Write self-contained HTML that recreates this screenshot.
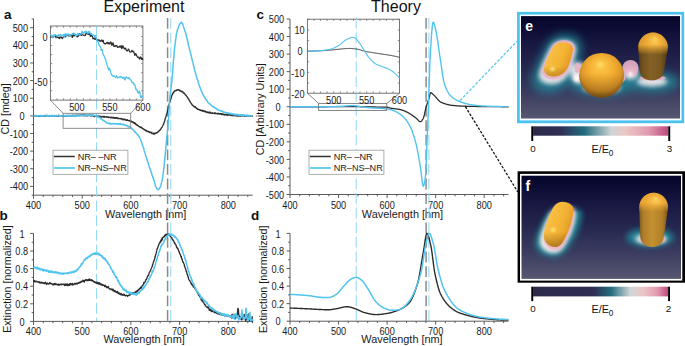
<!DOCTYPE html>
<html><head><meta charset="utf-8"><style>
html,body{margin:0;padding:0;background:#fff;overflow:hidden}
svg{display:block}
text{font-family:"Liberation Sans", sans-serif}
</style></head><body>
<svg width="685" height="346" viewBox="0 0 685 346" font-family='"Liberation Sans", sans-serif'><rect width="685" height="346" fill="#ffffff"/><text x="144" y="11.7" font-size="16" text-anchor="middle" font-weight="normal" fill="#111" >Experiment</text><text x="396" y="11.7" font-size="16" text-anchor="middle" font-weight="normal" fill="#111" >Theory</text><text x="4" y="18.7" font-size="13.5" text-anchor="start" font-weight="bold" fill="#111" >a</text><text x="-0.6" y="219.7" font-size="13.5" text-anchor="start" font-weight="bold" fill="#111" >b</text><text x="256.4" y="19" font-size="13.5" text-anchor="start" font-weight="bold" fill="#111" >c</text><text x="251" y="219.7" font-size="13.5" text-anchor="start" font-weight="bold" fill="#111" >d</text><line x1="33.5" y1="18.88" x2="33.5" y2="195.19" stroke="#4a4a4a" stroke-width="0.9" /><line x1="30.1" y1="27.7" x2="33.5" y2="27.7" stroke="#4a4a4a" stroke-width="0.9" /><text x="0" y="0" transform="translate(28.1,31.8) scale(0.92,1)" font-size="10.0" text-anchor="end" font-weight="normal" fill="#1a1a1a" >500</text><line x1="30.1" y1="45.33" x2="33.5" y2="45.33" stroke="#4a4a4a" stroke-width="0.9" /><text x="0" y="0" transform="translate(28.1,49.43) scale(0.92,1)" font-size="10.0" text-anchor="end" font-weight="normal" fill="#1a1a1a" >400</text><line x1="30.1" y1="62.96" x2="33.5" y2="62.96" stroke="#4a4a4a" stroke-width="0.9" /><text x="0" y="0" transform="translate(28.1,67.06) scale(0.92,1)" font-size="10.0" text-anchor="end" font-weight="normal" fill="#1a1a1a" >300</text><line x1="30.1" y1="80.59" x2="33.5" y2="80.59" stroke="#4a4a4a" stroke-width="0.9" /><text x="0" y="0" transform="translate(28.1,84.69) scale(0.92,1)" font-size="10.0" text-anchor="end" font-weight="normal" fill="#1a1a1a" >200</text><line x1="30.1" y1="98.22" x2="33.5" y2="98.22" stroke="#4a4a4a" stroke-width="0.9" /><text x="0" y="0" transform="translate(28.1,102.32) scale(0.92,1)" font-size="10.0" text-anchor="end" font-weight="normal" fill="#1a1a1a" >100</text><line x1="30.1" y1="115.85" x2="33.5" y2="115.85" stroke="#4a4a4a" stroke-width="0.9" /><text x="0" y="0" transform="translate(24.5,119.95) scale(0.92,1)" font-size="10.0" text-anchor="end" font-weight="normal" fill="#1a1a1a" >0</text><line x1="30.1" y1="133.48" x2="33.5" y2="133.48" stroke="#4a4a4a" stroke-width="0.9" /><text x="0" y="0" transform="translate(28.1,137.58) scale(0.92,1)" font-size="10.0" text-anchor="end" font-weight="normal" fill="#1a1a1a" >-100</text><line x1="30.1" y1="151.11" x2="33.5" y2="151.11" stroke="#4a4a4a" stroke-width="0.9" /><text x="0" y="0" transform="translate(28.1,155.21) scale(0.92,1)" font-size="10.0" text-anchor="end" font-weight="normal" fill="#1a1a1a" >-200</text><line x1="30.1" y1="168.74" x2="33.5" y2="168.74" stroke="#4a4a4a" stroke-width="0.9" /><text x="0" y="0" transform="translate(28.1,172.84) scale(0.92,1)" font-size="10.0" text-anchor="end" font-weight="normal" fill="#1a1a1a" >-300</text><line x1="30.1" y1="186.37" x2="33.5" y2="186.37" stroke="#4a4a4a" stroke-width="0.9" /><text x="0" y="0" transform="translate(28.1,190.47) scale(0.92,1)" font-size="10.0" text-anchor="end" font-weight="normal" fill="#1a1a1a" >-400</text><line x1="31.7" y1="18.88" x2="33.5" y2="18.88" stroke="#4a4a4a" stroke-width="0.9" /><line x1="31.7" y1="36.51" x2="33.5" y2="36.51" stroke="#4a4a4a" stroke-width="0.9" /><line x1="31.7" y1="54.14" x2="33.5" y2="54.14" stroke="#4a4a4a" stroke-width="0.9" /><line x1="31.7" y1="71.77" x2="33.5" y2="71.77" stroke="#4a4a4a" stroke-width="0.9" /><line x1="31.7" y1="89.41" x2="33.5" y2="89.41" stroke="#4a4a4a" stroke-width="0.9" /><line x1="31.7" y1="107.03" x2="33.5" y2="107.03" stroke="#4a4a4a" stroke-width="0.9" /><line x1="31.7" y1="124.66" x2="33.5" y2="124.66" stroke="#4a4a4a" stroke-width="0.9" /><line x1="31.7" y1="142.29" x2="33.5" y2="142.29" stroke="#4a4a4a" stroke-width="0.9" /><line x1="31.7" y1="159.93" x2="33.5" y2="159.93" stroke="#4a4a4a" stroke-width="0.9" /><line x1="31.7" y1="177.56" x2="33.5" y2="177.56" stroke="#4a4a4a" stroke-width="0.9" /><line x1="31.7" y1="195.19" x2="33.5" y2="195.19" stroke="#4a4a4a" stroke-width="0.9" /><line x1="33.5" y1="195.19" x2="252.65" y2="195.19" stroke="#4a4a4a" stroke-width="0.9" /><line x1="33.5" y1="195.19" x2="33.5" y2="198.69" stroke="#4a4a4a" stroke-width="0.9" /><text x="0" y="0" transform="translate(33.5,208.9) scale(0.92,1)" font-size="10.0" text-anchor="middle" font-weight="normal" fill="#1a1a1a" >400</text><line x1="82.2" y1="195.19" x2="82.2" y2="198.69" stroke="#4a4a4a" stroke-width="0.9" /><text x="0" y="0" transform="translate(82.2,208.9) scale(0.92,1)" font-size="10.0" text-anchor="middle" font-weight="normal" fill="#1a1a1a" >500</text><line x1="130.9" y1="195.19" x2="130.9" y2="198.69" stroke="#4a4a4a" stroke-width="0.9" /><text x="0" y="0" transform="translate(130.9,208.9) scale(0.92,1)" font-size="10.0" text-anchor="middle" font-weight="normal" fill="#1a1a1a" >600</text><line x1="179.6" y1="195.19" x2="179.6" y2="198.69" stroke="#4a4a4a" stroke-width="0.9" /><text x="0" y="0" transform="translate(179.6,208.9) scale(0.92,1)" font-size="10.0" text-anchor="middle" font-weight="normal" fill="#1a1a1a" >700</text><line x1="228.3" y1="195.19" x2="228.3" y2="198.69" stroke="#4a4a4a" stroke-width="0.9" /><text x="0" y="0" transform="translate(228.3,208.9) scale(0.92,1)" font-size="10.0" text-anchor="middle" font-weight="normal" fill="#1a1a1a" >800</text><line x1="43.24" y1="195.19" x2="43.24" y2="196.99" stroke="#4a4a4a" stroke-width="0.9" /><line x1="52.98" y1="195.19" x2="52.98" y2="196.99" stroke="#4a4a4a" stroke-width="0.9" /><line x1="62.72" y1="195.19" x2="62.72" y2="196.99" stroke="#4a4a4a" stroke-width="0.9" /><line x1="72.46" y1="195.19" x2="72.46" y2="196.99" stroke="#4a4a4a" stroke-width="0.9" /><line x1="91.94" y1="195.19" x2="91.94" y2="196.99" stroke="#4a4a4a" stroke-width="0.9" /><line x1="101.68" y1="195.19" x2="101.68" y2="196.99" stroke="#4a4a4a" stroke-width="0.9" /><line x1="111.42" y1="195.19" x2="111.42" y2="196.99" stroke="#4a4a4a" stroke-width="0.9" /><line x1="121.16" y1="195.19" x2="121.16" y2="196.99" stroke="#4a4a4a" stroke-width="0.9" /><line x1="140.64" y1="195.19" x2="140.64" y2="196.99" stroke="#4a4a4a" stroke-width="0.9" /><line x1="150.38" y1="195.19" x2="150.38" y2="196.99" stroke="#4a4a4a" stroke-width="0.9" /><line x1="160.12" y1="195.19" x2="160.12" y2="196.99" stroke="#4a4a4a" stroke-width="0.9" /><line x1="169.86" y1="195.19" x2="169.86" y2="196.99" stroke="#4a4a4a" stroke-width="0.9" /><line x1="189.34" y1="195.19" x2="189.34" y2="196.99" stroke="#4a4a4a" stroke-width="0.9" /><line x1="199.08" y1="195.19" x2="199.08" y2="196.99" stroke="#4a4a4a" stroke-width="0.9" /><line x1="208.82" y1="195.19" x2="208.82" y2="196.99" stroke="#4a4a4a" stroke-width="0.9" /><line x1="218.56" y1="195.19" x2="218.56" y2="196.99" stroke="#4a4a4a" stroke-width="0.9" /><line x1="238.04" y1="195.19" x2="238.04" y2="196.99" stroke="#4a4a4a" stroke-width="0.9" /><line x1="247.78" y1="195.19" x2="247.78" y2="196.99" stroke="#4a4a4a" stroke-width="0.9" /><text x="145.7" y="217.7" font-size="10.9" text-anchor="middle" font-weight="normal" fill="#1a1a1a" >Wavelength [nm]</text><text x="0" y="0" font-size="10.7" text-anchor="middle" fill="#1a1a1a" transform="translate(8.7,108.9) rotate(-90)">CD [mdeg]</text><line x1="96.6" y1="25.5" x2="96.6" y2="321.4" stroke="#8fd6f4" stroke-width="1.0" stroke-dasharray="10.8,3.8" stroke-dashoffset="0"/><line x1="167.6" y1="18" x2="167.6" y2="321.4" stroke="#8a8a8a" stroke-width="1.5" stroke-dasharray="10.8,3.8" stroke-dashoffset="0"/><line x1="170.8" y1="18" x2="170.8" y2="321.4" stroke="#8fd6f4" stroke-width="1.0" stroke-dasharray="10.8,3.8" stroke-dashoffset="0"/><path d="M33.5,115.85 L33.74,115.77 L33.99,115.93 L34.23,116.1 L34.47,115.98 L34.72,116.13 L34.96,115.83 L35.2,115.47 L35.45,115.99 L35.69,116.03 L35.94,115.71 L36.18,115.75 L36.42,115.82 L36.67,116.11 L36.91,115.86 L37.15,115.65 L37.4,116.23 L37.64,115.98 L37.88,116.39 L38.13,116.21 L38.37,116.37 L38.61,115.92 L38.86,116.21 L39.1,115.77 L39.34,115.81 L39.59,115.9 L39.83,116.56 L40.07,116 L40.32,115.86 L40.56,115.82 L40.8,116.28 L41.05,115.98 L41.29,116.13 L41.54,116.08 L41.78,115.55 L42.02,116.08 L42.27,115.86 L42.51,115.6 L42.75,116.01 L43,115.88 L43.24,115.82 L43.48,115.83 L43.73,116.2 L43.97,115.83 L44.21,115.47 L44.46,116.29 L44.7,115.61 L44.94,115.82 L45.19,116.03 L45.43,115.29 L45.67,115.63 L45.92,116.19 L46.16,115.83 L46.41,115.69 L46.65,115.9 L46.89,115.66 L47.14,115.87 L47.38,115.66 L47.62,115.44 L47.87,116.04 L48.11,115.79 L48.35,115.98 L48.6,115.81 L48.84,116.18 L49.08,116.01 L49.33,115.91 L49.57,115.6 L49.81,115.53 L50.06,116.22 L50.3,116.07 L50.55,115.67 L50.79,116.41 L51.03,115.98 L51.28,115.88 L51.52,115.5 L51.76,115.66 L52.01,115.94 L52.25,115.95 L52.49,115.92 L52.74,115.42 L52.98,115.97 L53.22,115.94 L53.47,115.75 L53.71,115.88 L53.95,115.91 L54.2,116.16 L54.44,115.85 L54.68,115.98 L54.93,115.52 L55.17,115.67 L55.41,115.86 L55.66,115.66 L55.9,115.95 L56.15,115.55 L56.39,115.85 L56.63,115.69 L56.88,116.21 L57.12,115.75 L57.36,116.33 L57.61,116.42 L57.85,115.94 L58.09,116.1 L58.34,115.8 L58.58,115.22 L58.82,116.08 L59.07,116.03 L59.31,115.79 L59.55,115.71 L59.8,115.9 L60.04,115.91 L60.28,115.65 L60.53,115.7 L60.77,116.14 L61.02,115.87 L61.26,115.84 L61.5,116.15 L61.75,115.78 L61.99,116.09 L62.23,115.58 L62.48,115.8 L62.72,115.82 L62.96,116.02 L63.21,115.88 L63.45,116.41 L63.69,116.17 L63.94,115.74 L64.18,116.44 L64.42,115.6 L64.67,116.33 L64.91,115.62 L65.16,116.07 L65.4,115.6 L65.64,115.78 L65.89,116.25 L66.13,115.45 L66.37,115.39 L66.62,115.81 L66.86,115.87 L67.1,115.83 L67.35,116.05 L67.59,115.46 L67.83,115.91 L68.08,115.77 L68.32,115.97 L68.56,115.91 L68.81,116.09 L69.05,115.36 L69.29,115.75 L69.54,115.43 L69.78,115.69 L70.03,115.88 L70.27,115.77 L70.51,115.82 L70.76,115.65 L71,115.75 L71.24,115.72 L71.49,116.01 L71.73,115.84 L71.97,115.14 L72.22,115.78 L72.46,115.88 L72.7,115.48 L72.95,115.17 L73.19,115.97 L73.43,115.6 L73.68,115.71 L73.92,116.02 L74.16,115.31 L74.41,115.51 L74.65,115.48 L74.89,115.7 L75.14,115.35 L75.38,115.62 L75.63,115.5 L75.87,115.77 L76.11,115.79 L76.36,115.06 L76.6,115.57 L76.84,115.34 L77.09,115.42 L77.33,115.53 L77.57,115.54 L77.82,115.21 L78.06,115.47 L78.3,115.42 L78.55,115.36 L78.79,115.03 L79.03,115.17 L79.28,115.25 L79.52,115.51 L79.77,115.73 L80.01,115.07 L80.25,115.06 L80.5,115.37 L80.74,115.18 L80.98,115.11 L81.23,115.09 L81.47,115.06 L81.71,115.45 L81.96,114.89 L82.2,115.67 L82.44,115.08 L82.69,115.18 L82.93,115.07 L83.17,114.79 L83.42,114.9 L83.66,115.64 L83.9,115.8 L84.15,115.09 L84.39,115.61 L84.63,115.32 L84.88,115.08 L85.12,115.78 L85.37,115.92 L85.61,115.25 L85.85,115.31 L86.1,115.39 L86.34,115.31 L86.58,115.56 L86.83,115.75 L87.07,115.37 L87.31,115.6 L87.56,115.78 L87.8,115.18 L88.04,115.34 L88.29,115.21 L88.53,115.6 L88.77,115.51 L89.02,115.6 L89.26,115.57 L89.5,115.27 L89.75,115.54 L89.99,115.23 L90.24,115.24 L90.48,114.78 L90.72,115.76 L90.97,115.14 L91.21,115.44 L91.45,115.44 L91.7,115.87 L91.94,115.62 L92.18,115.32 L92.43,115.58 L92.67,115.57 L92.91,115.71 L93.16,115.34 L93.4,115.71 L93.64,116.36 L93.89,115.98 L94.13,116.38 L94.38,116.78 L94.62,116.05 L94.86,115.56 L95.11,115.96 L95.35,116.34 L95.59,116.31 L95.84,115.76 L96.08,116.07 L96.32,116.13 L96.57,116.19 L96.81,116.19 L97.05,116 L97.3,116.1 L97.54,116.22 L97.78,116.6 L98.03,116.18 L98.27,116.54 L98.51,116.06 L98.76,116.75 L99,116.46 L99.25,116.44 L99.49,116.84 L99.73,116 L99.98,116.09 L100.22,116.66 L100.46,116.33 L100.71,116.46 L100.95,117.33 L101.19,116.54 L101.44,116.65 L101.68,116.63 L101.92,116.98 L102.17,116.77 L102.41,116.77 L102.65,116.4 L102.9,116.66 L103.14,116.78 L103.38,116.37 L103.63,116.98 L103.87,116.95 L104.11,117.38 L104.36,116.44 L104.6,116.63 L104.85,116.67 L105.09,116.76 L105.33,116.94 L105.58,116.93 L105.82,117.09 L106.06,117.1 L106.31,117.05 L106.55,116.66 L106.79,116.95 L107.04,117.15 L107.28,117.32 L107.52,117.35 L107.77,116.75 L108.01,117.08 L108.25,117.22 L108.5,117.36 L108.74,117.6 L108.98,117.33 L109.23,117.09 L109.47,117.46 L109.72,117.44 L109.96,117.46 L110.2,117.39 L110.45,117.89 L110.69,117.53 L110.93,117.73 L111.18,117.26 L111.42,117.75 L111.66,117.4 L111.91,117.16 L112.15,117.7 L112.39,117.8 L112.64,117.61 L112.88,117.69 L113.12,117.99 L113.37,117.61 L113.61,117.2 L113.86,117.86 L114.1,117.88 L114.34,118.14 L114.59,117.79 L114.83,118.26 L115.07,118.25 L115.32,117.6 L115.56,118.25 L115.8,117.72 L116.05,117.63 L116.29,118.02 L116.53,117.97 L116.78,117.61 L117.02,118.26 L117.26,118.41 L117.51,118.66 L117.75,118.3 L117.99,117.94 L118.24,118.12 L118.48,118.7 L118.72,118.71 L118.97,118.66 L119.21,118.47 L119.46,118.66 L119.7,118.58 L119.94,118.6 L120.19,118.81 L120.43,118.78 L120.67,118.76 L120.92,118.89 L121.16,118.76 L121.4,118.42 L121.65,118.83 L121.89,119.03 L122.13,119.57 L122.38,119.03 L122.62,119.73 L122.86,119.63 L123.11,119.04 L123.35,119.13 L123.59,119.42 L123.84,119.91 L124.08,119.58 L124.33,119.71 L124.57,119.39 L124.81,118.98 L125.06,119.6 L125.3,119.93 L125.54,120.09 L125.79,119.82 L126.03,119.9 L126.27,120.23 L126.52,119.92 L126.76,120.33 L127,119.75 L127.25,119.82 L127.49,119.87 L127.73,120.37 L127.98,120.15 L128.22,120.39 L128.47,120.53 L128.71,120.58 L128.95,120.92 L129.2,121.03 L129.44,120.47 L129.68,120.82 L129.93,120.79 L130.17,120.65 L130.41,121.52 L130.66,121.35 L130.9,121.18 L131.14,121.23 L131.39,121.56 L131.63,121.28 L131.87,121.63 L132.12,122.16 L132.36,122.21 L132.6,121.86 L132.85,122.09 L133.09,122.9 L133.33,122.13 L133.58,122.49 L133.82,122.43 L134.07,123.07 L134.31,123.2 L134.55,123.6 L134.8,122.72 L135.04,123.65 L135.28,123.31 L135.53,124.11 L135.77,124.04 L136.01,124.73 L136.26,124.53 L136.5,124.31 L136.74,125.11 L136.99,124.62 L137.23,124.99 L137.47,125.55 L137.72,125.56 L137.96,125.71 L138.2,125.75 L138.45,126.05 L138.69,126.29 L138.94,126.3 L139.18,126.66 L139.42,126.88 L139.67,126.68 L139.91,126.57 L140.15,127.39 L140.4,127.1 L140.64,127.42 L140.88,127.66 L141.13,127.29 L141.37,127.82 L141.61,127.4 L141.86,128.19 L142.1,128.01 L142.34,128.34 L142.59,128.63 L142.83,128.4 L143.07,128.76 L143.32,128.7 L143.56,129.03 L143.81,129.47 L144.05,129.34 L144.29,129.44 L144.54,129.33 L144.78,129.99 L145.02,129.89 L145.27,130.5 L145.51,129.97 L145.75,130.59 L146,130.93 L146.24,130.57 L146.48,130.36 L146.73,131.23 L146.97,131.23 L147.21,131.25 L147.46,131.47 L147.7,131.15 L147.94,131.59 L148.19,131.67 L148.43,131.41 L148.68,131.9 L148.92,131.68 L149.16,132.19 L149.41,132.37 L149.65,132.66 L149.89,131.73 L150.14,132.46 L150.38,132.41 L150.62,132.6 L150.87,132.65 L151.11,132.78 L151.35,132.35 L151.6,133.28 L151.84,133.51 L152.08,133.43 L152.33,133.6 L152.57,133.08 L152.81,133.11 L153.06,133.66 L153.3,133.82 L153.55,133.56 L153.79,133.08 L154.03,134.28 L154.28,133.32 L154.52,133.75 L154.76,133.11 L155.01,133.65 L155.25,133.35 L155.49,133.61 L155.74,133.37 L155.98,132.59 L156.22,132.64 L156.47,132.86 L156.71,132.86 L156.95,133.01 L157.2,132.44 L157.44,132.19 L157.69,132.05 L157.93,131.9 L158.17,132.03 L158.42,131.57 L158.66,131.38 L158.9,130.79 L159.15,130.41 L159.39,130.73 L159.63,130.64 L159.88,130.16 L160.12,130.02 L160.36,129.74 L160.61,129.22 L160.85,129.15 L161.09,128.33 L161.34,128.15 L161.58,127.67 L161.82,127.39 L162.07,127.13 L162.31,126.78 L162.56,126.14 L162.8,125.77 L163.04,125.03 L163.29,124.53 L163.53,124.31 L163.77,123.26 L164.02,122.98 L164.26,122.06 L164.5,121.22 L164.75,120.96 L164.99,119.56 L165.23,118.74 L165.48,118.01 L165.72,117.26 L165.96,116.42 L166.21,115.76 L166.45,114.74 L166.69,113.99 L166.94,113 L167.18,112.54 L167.42,111.27 L167.67,110.4 L167.91,109.56 L168.16,108.71 L168.4,107.48 L168.64,107.15 L168.89,105.59 L169.13,104.71 L169.37,103.76 L169.62,102.83 L169.86,102.24 L170.1,101.29 L170.35,100.23 L170.59,99.54 L170.83,98.85 L171.08,98.56 L171.32,97.2 L171.56,96.25 L171.81,95.54 L172.05,95.04 L172.29,94.88 L172.54,93.55 L172.78,93.32 L173.03,93.52 L173.27,92.34 L173.51,92.6 L173.76,92.33 L174,91.93 L174.24,91.18 L174.49,91.45 L174.73,91.09 L174.97,90.49 L175.22,90.37 L175.46,90.7 L175.7,90.6 L175.95,90.76 L176.19,90.48 L176.43,90.07 L176.68,89.99 L176.92,90.01 L177.16,89.71 L177.41,90.17 L177.65,89.95 L177.9,89.73 L178.14,89.79 L178.38,89.68 L178.63,89.91 L178.87,90.17 L179.11,90.04 L179.36,90.5 L179.6,90.77 L179.84,90.23 L180.09,90.51 L180.33,90.51 L180.57,91.19 L180.82,90.92 L181.06,91.1 L181.3,91.29 L181.55,91.8 L181.79,91.39 L182.03,91.19 L182.28,91.5 L182.52,91.96 L182.77,92 L183.01,91.99 L183.25,93.21 L183.5,92.71 L183.74,92.77 L183.98,92.99 L184.23,92.98 L184.47,93.41 L184.71,93.93 L184.96,94.21 L185.2,94.37 L185.44,95.03 L185.69,95.18 L185.93,95.21 L186.17,95.2 L186.42,96.09 L186.66,96.37 L186.91,96.62 L187.15,96.63 L187.39,97.36 L187.64,97.28 L187.88,98.32 L188.12,98.46 L188.37,98.83 L188.61,98.92 L188.85,99.22 L189.1,100.31 L189.34,100.53 L189.58,100.59 L189.83,101.3 L190.07,101.98 L190.31,101.7 L190.56,102.29 L190.8,102.72 L191.04,103.39 L191.29,103.35 L191.53,104.05 L191.78,103.97 L192.02,104.8 L192.26,105.04 L192.51,104.98 L192.75,105.48 L192.99,105.32 L193.24,105.67 L193.48,106.22 L193.72,106.16 L193.97,106.49 L194.21,106.33 L194.45,106.97 L194.7,107.11 L194.94,106.83 L195.18,106.72 L195.43,106.96 L195.67,107.68 L195.91,107.8 L196.16,107.59 L196.4,108.22 L196.65,108.61 L196.89,108.45 L197.13,108.49 L197.38,108.99 L197.62,109.35 L197.86,109.42 L198.11,108.95 L198.35,109.47 L198.59,109.41 L198.84,109.42 L199.08,109.41 L199.32,109.79 L199.57,109.65 L199.81,110.15 L200.05,110.1 L200.3,110.38 L200.54,109.87 L200.78,110.28 L201.03,110.58 L201.27,110.56 L201.51,110.61 L201.76,110.43 L202,111.16 L202.25,111.09 L202.49,110.98 L202.73,110.24 L202.98,110.76 L203.22,111.13 L203.46,110.97 L203.71,110.67 L203.95,111.38 L204.19,111.49 L204.44,111.11 L204.68,111.37 L204.92,111.39 L205.17,111.78 L205.41,111.16 L205.65,111.28 L205.9,111.66 L206.14,111.68 L206.38,112.5 L206.63,111.8 L206.87,112.08 L207.12,111.96 L207.36,111.94 L207.6,112.27 L207.85,112.7 L208.09,112.17 L208.33,112.52 L208.58,112.45 L208.82,112.57 L209.06,112.54 L209.31,113.14 L209.55,112.19 L209.79,112.5 L210.04,112.3 L210.28,112.1 L210.52,112.69 L210.77,113.24 L211.01,113.03 L211.25,113.15 L211.5,112.99 L211.74,112.86 L211.99,113.49 L212.23,112.86 L212.47,113.42 L212.72,112.95 L212.96,113.1 L213.2,113.19 L213.45,113.15 L213.69,113.32 L213.93,113.37 L214.18,113.71 L214.42,113.27 L214.66,112.78 L214.91,112.77 L215.15,112.99 L215.39,113.19 L215.64,113.61 L215.88,113.05 L216.12,113.5 L216.37,113.53 L216.61,113.62 L216.86,113.54 L217.1,113.72 L217.34,113.65 L217.59,113.96 L217.83,113.79 L218.07,113.07 L218.32,113.76 L218.56,113.84 L218.8,113.65 L219.05,113.62 L219.29,114.16 L219.53,113.94 L219.78,113.65 L220.02,113.85 L220.26,113.92 L220.51,113.55 L220.75,114.2 L221,114.01 L221.24,114.21 L221.48,113.67 L221.73,114.67 L221.97,114.33 L222.21,114.32 L222.46,114.01 L222.7,114.05 L222.94,113.85 L223.19,114.72 L223.43,114.09 L223.67,114.41 L223.92,114.54 L224.16,114.23 L224.4,114.67 L224.65,115.02 L224.89,114.57 L225.13,114.91 L225.38,114.7 L225.62,114.44 L225.87,114.48 L226.11,114.15 L226.35,114.68 L226.6,115.08 L226.84,114.89 L227.08,114.96 L227.33,115.07 L227.57,114.63 L227.81,114.96 L228.06,115.37 L228.3,114.64 L228.54,114.89 L228.79,114.79 L229.03,114.88 L229.27,114.76 L229.52,114.95 L229.76,114.64 L230,114.89 L230.25,114.93 L230.49,114.95 L230.73,115.5 L230.98,115.16 L231.22,115.21 L231.47,115.1 L231.71,115.56 L231.95,114.74 L232.2,115.2 L232.44,115.59 L232.68,115.75 L232.93,115.37 L233.17,115.34 L233.41,115.54 L233.66,115.33 L233.9,115.56 L234.14,115.24 L234.39,115.62 L234.63,115.44 L234.87,115.18 L235.12,114.74 L235.36,115.77 L235.6,115.63 L235.85,115.76 L236.09,115.31 L236.34,115.88 L236.58,115.7 L236.82,115.59 L237.07,115.87 L237.31,115.88 L237.55,115.76 L237.8,116.23 L238.04,116.05 L238.28,115.77 L238.53,115.62 L238.77,115.73 L239.01,116.19 L239.26,115.83 L239.5,115.48 L239.74,115.56 L239.99,115.75 L240.23,115.98 L240.47,115.56 L240.72,115.91 L240.96,116.09 L241.21,116 L241.45,115.37 L241.69,115.72 L241.94,115.47 L242.18,115.94 L242.42,115.55 L242.67,115.99 L242.91,115.87 L243.15,115.14 L243.4,115.63 L243.64,116 L243.88,115.89 L244.13,115.78 L244.37,115.54 L244.61,116.02 L244.86,116.39 L245.1,115.98 L245.34,115.9 L245.59,115.88 L245.83,115.55 L246.08,115.84 L246.32,115.71 L246.56,116.25 L246.81,115.7 L247.05,115.36 L247.29,115.74 L247.54,115.89 L247.78,115.93 L248.02,115.47 L248.27,116.24 L248.51,116.02 L248.75,115.86 L249,115.78 L249.24,116.12 L249.48,115.91 L249.73,116.08 L249.97,115.97 L250.22,116.05 L250.46,116.34 L250.7,116.02 L250.95,115.77 L251.19,116.29 L251.43,116.09 L251.68,115.84 L251.92,116.33 L252.16,115.97 L252.41,116.33 L252.65,115.71" fill="none" stroke="#2c2c2c" stroke-width="1.3" stroke-linejoin="round" /><path d="M33.5,115.36 L33.74,115.42 L33.99,115.9 L34.23,115.69 L34.47,115.82 L34.72,115.83 L34.96,115.52 L35.2,116.13 L35.45,115.63 L35.69,115.86 L35.94,115.55 L36.18,115.81 L36.42,115.99 L36.67,115.79 L36.91,115.69 L37.15,115.84 L37.4,115.75 L37.64,115.96 L37.88,116.3 L38.13,115.66 L38.37,115.7 L38.61,115.82 L38.86,115.84 L39.1,115.63 L39.34,115.95 L39.59,116 L39.83,115.89 L40.07,115.6 L40.32,116.14 L40.56,115.6 L40.8,115.99 L41.05,116.08 L41.29,115.58 L41.54,115.87 L41.78,116.13 L42.02,115.93 L42.27,115.65 L42.51,115.6 L42.75,115.94 L43,115.76 L43.24,115.7 L43.48,115.99 L43.73,115.77 L43.97,115.86 L44.21,115.96 L44.46,115.95 L44.7,115.84 L44.94,115.84 L45.19,115.97 L45.43,115.94 L45.67,115.61 L45.92,115.8 L46.16,115.66 L46.41,115.6 L46.65,115.73 L46.89,115.37 L47.14,116.02 L47.38,115.68 L47.62,115.92 L47.87,115.46 L48.11,115.49 L48.35,116.26 L48.6,116.05 L48.84,115.71 L49.08,115.68 L49.33,115.69 L49.57,115.86 L49.81,115.75 L50.06,115.71 L50.3,115.87 L50.55,115.63 L50.79,116.33 L51.03,115.72 L51.28,116.07 L51.52,115.65 L51.76,115.9 L52.01,116.04 L52.25,115.77 L52.49,116.04 L52.74,116.04 L52.98,116.18 L53.22,115.86 L53.47,115.74 L53.71,115.63 L53.95,115.88 L54.2,115.63 L54.44,115.85 L54.68,115.87 L54.93,115.73 L55.17,115.63 L55.41,115.92 L55.66,115.9 L55.9,115.88 L56.15,115.83 L56.39,116.04 L56.63,115.63 L56.88,115.93 L57.12,115.75 L57.36,116.02 L57.61,115.77 L57.85,115.77 L58.09,115.94 L58.34,115.42 L58.58,115.77 L58.82,115.47 L59.07,115.65 L59.31,115.99 L59.55,115.93 L59.8,115.76 L60.04,115.84 L60.28,115.84 L60.53,115.91 L60.77,116.23 L61.02,115.9 L61.26,116.32 L61.5,115.77 L61.75,116 L61.99,116 L62.23,115.9 L62.48,115.79 L62.72,116.15 L62.96,116.22 L63.21,116.08 L63.45,116.28 L63.69,116.05 L63.94,115.51 L64.18,116.07 L64.42,115.71 L64.67,116.14 L64.91,115.78 L65.16,115.91 L65.4,115.85 L65.64,115.72 L65.89,115.47 L66.13,115.8 L66.37,115.81 L66.62,116.04 L66.86,115.71 L67.1,115.88 L67.35,115.65 L67.59,115.83 L67.83,115.46 L68.08,116.24 L68.32,115.88 L68.56,115.63 L68.81,115.89 L69.05,115.98 L69.29,115.86 L69.54,116.1 L69.78,115.78 L70.03,115.28 L70.27,115.55 L70.51,116.03 L70.76,115.97 L71,115.87 L71.24,115.57 L71.49,115.95 L71.73,115.92 L71.97,115.58 L72.22,115.58 L72.46,115.84 L72.7,115.99 L72.95,116.08 L73.19,115.9 L73.43,116.22 L73.68,115.58 L73.92,115.87 L74.16,115.63 L74.41,115.33 L74.65,115.48 L74.89,115.96 L75.14,115.53 L75.38,115.47 L75.63,115.86 L75.87,115.9 L76.11,115.72 L76.36,116.03 L76.6,115.38 L76.84,116.19 L77.09,115.91 L77.33,115.73 L77.57,115.72 L77.82,115.63 L78.06,115.6 L78.3,115.7 L78.55,115.4 L78.79,116.09 L79.03,115.63 L79.28,115.77 L79.52,115.58 L79.77,115.56 L80.01,115.79 L80.25,115.72 L80.5,115.41 L80.74,115.49 L80.98,115.7 L81.23,115.11 L81.47,115.04 L81.71,115.83 L81.96,115.44 L82.2,114.97 L82.44,115.32 L82.69,115.42 L82.93,115.5 L83.17,115.55 L83.42,115.46 L83.66,115.51 L83.9,115.22 L84.15,115.44 L84.39,115.43 L84.63,115.56 L84.88,115.3 L85.12,115.45 L85.37,115.28 L85.61,114.99 L85.85,115.11 L86.1,115.06 L86.34,115.07 L86.58,115.11 L86.83,115.13 L87.07,115.15 L87.31,114.9 L87.56,115.27 L87.8,114.74 L88.04,115.01 L88.29,115.16 L88.53,115.09 L88.77,115.12 L89.02,114.94 L89.26,115.12 L89.5,114.73 L89.75,115.14 L89.99,115.46 L90.24,115.14 L90.48,115.42 L90.72,115.02 L90.97,114.81 L91.21,114.92 L91.45,115.36 L91.7,115.26 L91.94,114.76 L92.18,115.09 L92.43,115.19 L92.67,115.01 L92.91,114.75 L93.16,115.03 L93.4,115.31 L93.64,115.3 L93.89,115.29 L94.13,115.59 L94.38,115.72 L94.62,115.53 L94.86,115.79 L95.11,115.67 L95.35,115.7 L95.59,115.29 L95.84,116.05 L96.08,115.97 L96.32,116.06 L96.57,116.02 L96.81,115.98 L97.05,116.4 L97.3,116.57 L97.54,116.85 L97.78,116.81 L98.03,116.61 L98.27,116.84 L98.51,117.19 L98.76,117.19 L99,117.23 L99.25,117.27 L99.49,117.65 L99.73,117.72 L99.98,118.2 L100.22,118.21 L100.46,117.78 L100.71,118.75 L100.95,118.54 L101.19,118.61 L101.44,118.93 L101.68,119.22 L101.92,119.26 L102.17,119.45 L102.41,119.67 L102.65,120.25 L102.9,120.08 L103.14,120.43 L103.38,120.55 L103.63,120.56 L103.87,120.65 L104.11,120.77 L104.36,121.25 L104.6,121.13 L104.85,121.25 L105.09,121.43 L105.33,121.54 L105.58,122.03 L105.82,122.19 L106.06,122.12 L106.31,122.72 L106.55,122.51 L106.79,122.78 L107.04,122.86 L107.28,123.27 L107.52,123.2 L107.77,123.12 L108.01,123.03 L108.25,123.11 L108.5,123.42 L108.74,123.51 L108.98,123.71 L109.23,123.49 L109.47,123.66 L109.72,123.5 L109.96,123.27 L110.2,123.66 L110.45,123.99 L110.69,123.86 L110.93,124 L111.18,123.95 L111.42,123.43 L111.66,123.67 L111.91,124.05 L112.15,123.59 L112.39,123.47 L112.64,123.82 L112.88,123.9 L113.12,123.83 L113.37,123.71 L113.61,123.64 L113.86,123.53 L114.1,123.54 L114.34,123.55 L114.59,123.52 L114.83,123.67 L115.07,124.14 L115.32,123.85 L115.56,123.76 L115.8,123.92 L116.05,123.65 L116.29,123.92 L116.53,124.05 L116.78,123.55 L117.02,123.72 L117.26,123.82 L117.51,123.68 L117.75,123.66 L117.99,123.82 L118.24,124.42 L118.48,124.05 L118.72,124.01 L118.97,124.13 L119.21,123.89 L119.46,123.7 L119.7,124.06 L119.94,124.22 L120.19,123.57 L120.43,124.12 L120.67,124.32 L120.92,124.04 L121.16,124.04 L121.4,124.33 L121.65,124.06 L121.89,124.39 L122.13,124.54 L122.38,124.36 L122.62,124.3 L122.86,124.67 L123.11,124.53 L123.35,124.69 L123.59,124.15 L123.84,124.97 L124.08,124.61 L124.33,124.99 L124.57,125.09 L124.81,124.99 L125.06,125.03 L125.3,125.03 L125.54,125.31 L125.79,125.59 L126.03,125.66 L126.27,125.52 L126.52,125.59 L126.76,125.5 L127,125.8 L127.25,125.76 L127.49,125.76 L127.73,126.14 L127.98,126.6 L128.22,126.64 L128.47,126.8 L128.71,126.28 L128.95,126.91 L129.2,126.59 L129.44,126.86 L129.68,126.75 L129.93,127.04 L130.17,127.41 L130.41,127.58 L130.66,127.67 L130.9,127.8 L131.14,128.12 L131.39,128.2 L131.63,128.05 L131.87,128.96 L132.12,128.77 L132.36,129.25 L132.6,129.27 L132.85,129.38 L133.09,129.83 L133.33,129.92 L133.58,130.69 L133.82,130.39 L134.07,131.03 L134.31,131.04 L134.55,131.41 L134.8,132.26 L135.04,132.14 L135.28,132.2 L135.53,132.17 L135.77,132.7 L136.01,132.96 L136.26,133.58 L136.5,133.24 L136.74,133.42 L136.99,134.07 L137.23,134.4 L137.47,134.98 L137.72,134.74 L137.96,134.66 L138.2,135.39 L138.45,135.6 L138.69,136.09 L138.94,136.76 L139.18,136.64 L139.42,137.57 L139.67,137.76 L139.91,138.08 L140.15,138.43 L140.4,139.04 L140.64,139.58 L140.88,140.4 L141.13,141.12 L141.37,141.47 L141.61,142.3 L141.86,143.11 L142.1,143.82 L142.34,144.38 L142.59,145.42 L142.83,146.08 L143.07,146.93 L143.32,147.34 L143.56,148.1 L143.81,148.58 L144.05,150.14 L144.29,150.8 L144.54,151.29 L144.78,152.37 L145.02,153.22 L145.27,153.62 L145.51,154.88 L145.75,155.87 L146,156.71 L146.24,157.16 L146.48,157.95 L146.73,159.08 L146.97,159.75 L147.21,160.16 L147.46,160.88 L147.7,161.87 L147.94,162.34 L148.19,163.1 L148.43,164.34 L148.68,164.77 L148.92,165.36 L149.16,166.32 L149.41,167.39 L149.65,167.75 L149.89,168.27 L150.14,168.84 L150.38,170.37 L150.62,170.09 L150.87,171.61 L151.11,171.89 L151.35,172.55 L151.6,173.31 L151.84,174.19 L152.08,175.16 L152.33,175.47 L152.57,176.43 L152.81,177.47 L153.06,177 L153.3,178.15 L153.55,178.66 L153.79,180 L154.03,180.28 L154.28,181.05 L154.52,181.86 L154.76,182.99 L155.01,184.02 L155.25,184.57 L155.49,185.74 L155.74,186.34 L155.98,186.63 L156.22,187.47 L156.47,187.86 L156.71,188.34 L156.95,188.33 L157.2,188.8 L157.44,189.34 L157.69,189.23 L157.93,189.71 L158.17,189.58 L158.42,189.2 L158.66,189.48 L158.9,189.04 L159.15,188.98 L159.39,188.35 L159.63,187.68 L159.88,187.8 L160.12,187.2 L160.36,186.97 L160.61,186.42 L160.85,185.7 L161.09,184.29 L161.34,183.15 L161.58,182.52 L161.82,181.67 L162.07,180.2 L162.31,179.21 L162.56,177.62 L162.8,176.16 L163.04,174.41 L163.29,172.42 L163.53,170.63 L163.77,168.44 L164.02,166.51 L164.26,163.98 L164.5,161.93 L164.75,159.4 L164.99,157.19 L165.23,154.45 L165.48,151.78 L165.72,149.51 L165.96,146.69 L166.21,144.05 L166.45,141.05 L166.69,138.31 L166.94,136.08 L167.18,133.99 L167.42,131.27 L167.67,129.5 L167.91,126.33 L168.16,124.04 L168.4,121.49 L168.64,116.73 L168.89,112.51 L169.13,108.34 L169.37,103.66 L169.62,100.2 L169.86,97.44 L170.1,95.43 L170.35,93.19 L170.59,91.05 L170.83,89.31 L171.08,87.33 L171.32,85.73 L171.56,83.26 L171.81,81.69 L172.05,78.94 L172.29,76.41 L172.54,72.99 L172.78,69.05 L173.03,66.21 L173.27,62.85 L173.51,60.1 L173.76,57.45 L174,54.5 L174.24,51.86 L174.49,49.35 L174.73,46.8 L174.97,44.81 L175.22,43.17 L175.46,41.39 L175.7,39.34 L175.95,37.7 L176.19,35.83 L176.43,33.97 L176.68,32.97 L176.92,31.91 L177.16,30.85 L177.41,30.09 L177.65,29.38 L177.9,28.73 L178.14,27.94 L178.38,27.31 L178.63,26.45 L178.87,26.11 L179.11,25.52 L179.36,25.22 L179.6,24.15 L179.84,23.97 L180.09,23.33 L180.33,23.22 L180.57,22.82 L180.82,23 L181.06,22.67 L181.3,22.19 L181.55,23.06 L181.79,22.71 L182.03,22.85 L182.28,23.48 L182.52,23.85 L182.77,24.26 L183.01,25.25 L183.25,25.67 L183.5,26.64 L183.74,27.33 L183.98,28.07 L184.23,28.75 L184.47,29.48 L184.71,30.2 L184.96,31.39 L185.2,31.41 L185.44,32.33 L185.69,33.21 L185.93,34.28 L186.17,35.11 L186.42,35.9 L186.66,36.9 L186.91,38.35 L187.15,38.84 L187.39,39.4 L187.64,41.48 L187.88,41.91 L188.12,43.09 L188.37,44.22 L188.61,44.92 L188.85,46.47 L189.1,47.16 L189.34,47.87 L189.58,49.22 L189.83,50.26 L190.07,51.15 L190.31,52.27 L190.56,52.84 L190.8,54.37 L191.04,54.99 L191.29,56.45 L191.53,57.03 L191.78,58.19 L192.02,59.72 L192.26,60.14 L192.51,61.36 L192.75,62.22 L192.99,62.8 L193.24,64.39 L193.48,65.39 L193.72,65.86 L193.97,67.15 L194.21,67.84 L194.45,69.08 L194.7,70.31 L194.94,71.08 L195.18,71.71 L195.43,72.67 L195.67,73.73 L195.91,74.55 L196.16,75.41 L196.4,76.34 L196.65,76.61 L196.89,77.84 L197.13,78.89 L197.38,79.55 L197.62,80.08 L197.86,80.88 L198.11,81.82 L198.35,82.7 L198.59,83.31 L198.84,84.42 L199.08,85.07 L199.32,85.33 L199.57,86.31 L199.81,86.82 L200.05,87.31 L200.3,88.09 L200.54,88.87 L200.78,89.04 L201.03,89.96 L201.27,90.77 L201.51,91.1 L201.76,91.72 L202,92.52 L202.25,92.82 L202.49,93.35 L202.73,94.22 L202.98,94.3 L203.22,94.79 L203.46,95.28 L203.71,96 L203.95,96.16 L204.19,96.52 L204.44,96.92 L204.68,97.61 L204.92,97.63 L205.17,98.43 L205.41,98.61 L205.65,98.66 L205.9,99.47 L206.14,99.8 L206.38,99.81 L206.63,100.48 L206.87,100.8 L207.12,101.01 L207.36,101.15 L207.6,102.17 L207.85,102.17 L208.09,102.5 L208.33,102.79 L208.58,103.01 L208.82,103.26 L209.06,103.26 L209.31,103.75 L209.55,103.76 L209.79,103.92 L210.04,104.38 L210.28,104.42 L210.52,104.3 L210.77,104.8 L211.01,105.21 L211.25,105.29 L211.5,105.67 L211.74,105.61 L211.99,105.68 L212.23,106.23 L212.47,106.29 L212.72,106.18 L212.96,106.71 L213.2,106.74 L213.45,107.17 L213.69,107.3 L213.93,107.4 L214.18,106.99 L214.42,107.7 L214.66,107.88 L214.91,108.05 L215.15,108.11 L215.39,108.09 L215.64,108.33 L215.88,108.08 L216.12,108.61 L216.37,108.49 L216.61,108.87 L216.86,108.93 L217.1,109.49 L217.34,109.34 L217.59,109.45 L217.83,109.61 L218.07,110.13 L218.32,109.6 L218.56,109.98 L218.8,110.1 L219.05,110.17 L219.29,110.27 L219.53,110.24 L219.78,110.69 L220.02,110.72 L220.26,110.56 L220.51,110.68 L220.75,110.89 L221,111.03 L221.24,111.17 L221.48,111.1 L221.73,110.93 L221.97,111.49 L222.21,111.03 L222.46,111.26 L222.7,111.62 L222.94,111.45 L223.19,112 L223.43,112.14 L223.67,112.13 L223.92,112.02 L224.16,112.08 L224.4,112.2 L224.65,112.15 L224.89,112.7 L225.13,112.21 L225.38,112.69 L225.62,112.6 L225.87,112.62 L226.11,112.85 L226.35,112.96 L226.6,112.95 L226.84,112.81 L227.08,112.75 L227.33,112.82 L227.57,113.21 L227.81,113.23 L228.06,113.31 L228.3,113.08 L228.54,113.67 L228.79,113.03 L229.03,113.45 L229.27,113.57 L229.52,113.39 L229.76,113.29 L230,113.49 L230.25,113.39 L230.49,113.63 L230.73,113.45 L230.98,113.5 L231.22,113.83 L231.47,113.55 L231.71,113.86 L231.95,113.92 L232.2,114.17 L232.44,114.08 L232.68,113.9 L232.93,114.38 L233.17,114.01 L233.41,114.11 L233.66,114.16 L233.9,114.73 L234.14,114.32 L234.39,114.2 L234.63,114.54 L234.87,114.39 L235.12,114.95 L235.36,114.34 L235.6,114.66 L235.85,114.37 L236.09,114.98 L236.34,114.47 L236.58,114.7 L236.82,114.51 L237.07,114.91 L237.31,114.88 L237.55,114.31 L237.8,114.99 L238.04,114.99 L238.28,114.93 L238.53,115.11 L238.77,114.67 L239.01,114.59 L239.26,115.13 L239.5,115.37 L239.74,114.79 L239.99,114.82 L240.23,114.91 L240.47,114.86 L240.72,115.32 L240.96,115.19 L241.21,115.47 L241.45,115.5 L241.69,115.01 L241.94,115.39 L242.18,114.78 L242.42,115.27 L242.67,115.44 L242.91,115.15 L243.15,114.96 L243.4,115.25 L243.64,115.63 L243.88,115.32 L244.13,115.12 L244.37,115.53 L244.61,115.61 L244.86,115.25 L245.1,115.45 L245.34,115.73 L245.59,115.59 L245.83,115.69 L246.08,115.48 L246.32,115.54 L246.56,115.34 L246.81,115.44 L247.05,115.94 L247.29,115.54 L247.54,115.45 L247.78,115.56 L248.02,115.45 L248.27,115.8 L248.51,115.89 L248.75,115.51 L249,115.94 L249.24,116.19 L249.48,115.52 L249.73,115.91 L249.97,115.83 L250.22,116.07 L250.46,116.06 L250.7,116.04 L250.95,115.88 L251.19,115.73 L251.43,116.3 L251.68,115.67 L251.92,116.08 L252.16,116.06 L252.41,115.7 L252.65,115.87" fill="none" stroke="#52c3ef" stroke-width="1.5" stroke-linejoin="round" /><rect x="63.1" y="113.3" width="67.6" height="15.0" fill="none" stroke="#808080" stroke-width="0.9"/><line x1="50.4" y1="100.1" x2="63.1" y2="113.3" stroke="#808080" stroke-width="0.9" /><line x1="142.9" y1="100.1" x2="130.7" y2="113.3" stroke="#808080" stroke-width="0.9" /><rect x="50.4" y="26" width="92.5" height="74.1" fill="#fff" stroke="#666" stroke-width="0.9"/><line x1="57.01" y1="26" x2="57.01" y2="27.8" stroke="#666" stroke-width="0.7" /><line x1="57.01" y1="100.1" x2="57.01" y2="98.3" stroke="#666" stroke-width="0.7" /><line x1="63.61" y1="26" x2="63.61" y2="27.8" stroke="#666" stroke-width="0.7" /><line x1="63.61" y1="100.1" x2="63.61" y2="98.3" stroke="#666" stroke-width="0.7" /><line x1="70.22" y1="26" x2="70.22" y2="27.8" stroke="#666" stroke-width="0.7" /><line x1="70.22" y1="100.1" x2="70.22" y2="98.3" stroke="#666" stroke-width="0.7" /><line x1="76.83" y1="26" x2="76.83" y2="27.8" stroke="#666" stroke-width="0.7" /><line x1="76.83" y1="100.1" x2="76.83" y2="98.3" stroke="#666" stroke-width="0.7" /><line x1="83.44" y1="26" x2="83.44" y2="27.8" stroke="#666" stroke-width="0.7" /><line x1="83.44" y1="100.1" x2="83.44" y2="98.3" stroke="#666" stroke-width="0.7" /><line x1="90.04" y1="26" x2="90.04" y2="27.8" stroke="#666" stroke-width="0.7" /><line x1="90.04" y1="100.1" x2="90.04" y2="98.3" stroke="#666" stroke-width="0.7" /><line x1="96.65" y1="26" x2="96.65" y2="27.8" stroke="#666" stroke-width="0.7" /><line x1="96.65" y1="100.1" x2="96.65" y2="98.3" stroke="#666" stroke-width="0.7" /><line x1="103.26" y1="26" x2="103.26" y2="27.8" stroke="#666" stroke-width="0.7" /><line x1="103.26" y1="100.1" x2="103.26" y2="98.3" stroke="#666" stroke-width="0.7" /><line x1="109.86" y1="26" x2="109.86" y2="27.8" stroke="#666" stroke-width="0.7" /><line x1="109.86" y1="100.1" x2="109.86" y2="98.3" stroke="#666" stroke-width="0.7" /><line x1="116.47" y1="26" x2="116.47" y2="27.8" stroke="#666" stroke-width="0.7" /><line x1="116.47" y1="100.1" x2="116.47" y2="98.3" stroke="#666" stroke-width="0.7" /><line x1="123.08" y1="26" x2="123.08" y2="27.8" stroke="#666" stroke-width="0.7" /><line x1="123.08" y1="100.1" x2="123.08" y2="98.3" stroke="#666" stroke-width="0.7" /><line x1="129.68" y1="26" x2="129.68" y2="27.8" stroke="#666" stroke-width="0.7" /><line x1="129.68" y1="100.1" x2="129.68" y2="98.3" stroke="#666" stroke-width="0.7" /><line x1="136.29" y1="26" x2="136.29" y2="27.8" stroke="#666" stroke-width="0.7" /><line x1="136.29" y1="100.1" x2="136.29" y2="98.3" stroke="#666" stroke-width="0.7" /><line x1="50.4" y1="27.46" x2="52.2" y2="27.46" stroke="#666" stroke-width="0.7" /><line x1="142.9" y1="27.46" x2="141.1" y2="27.46" stroke="#666" stroke-width="0.7" /><line x1="50.4" y1="36.5" x2="52.2" y2="36.5" stroke="#666" stroke-width="0.7" /><line x1="142.9" y1="36.5" x2="141.1" y2="36.5" stroke="#666" stroke-width="0.7" /><line x1="50.4" y1="45.54" x2="52.2" y2="45.54" stroke="#666" stroke-width="0.7" /><line x1="142.9" y1="45.54" x2="141.1" y2="45.54" stroke="#666" stroke-width="0.7" /><line x1="50.4" y1="54.58" x2="52.2" y2="54.58" stroke="#666" stroke-width="0.7" /><line x1="142.9" y1="54.58" x2="141.1" y2="54.58" stroke="#666" stroke-width="0.7" /><line x1="50.4" y1="63.62" x2="52.2" y2="63.62" stroke="#666" stroke-width="0.7" /><line x1="142.9" y1="63.62" x2="141.1" y2="63.62" stroke="#666" stroke-width="0.7" /><line x1="50.4" y1="72.66" x2="52.2" y2="72.66" stroke="#666" stroke-width="0.7" /><line x1="142.9" y1="72.66" x2="141.1" y2="72.66" stroke="#666" stroke-width="0.7" /><line x1="50.4" y1="81.7" x2="52.2" y2="81.7" stroke="#666" stroke-width="0.7" /><line x1="142.9" y1="81.7" x2="141.1" y2="81.7" stroke="#666" stroke-width="0.7" /><line x1="50.4" y1="90.74" x2="52.2" y2="90.74" stroke="#666" stroke-width="0.7" /><line x1="142.9" y1="90.74" x2="141.1" y2="90.74" stroke="#666" stroke-width="0.7" /><text x="0" y="0" transform="translate(47.6,40.6) scale(0.92,1)" font-size="10.0" text-anchor="end" font-weight="normal" fill="#1a1a1a" >0</text><text x="0" y="0" transform="translate(47.6,85.8) scale(0.92,1)" font-size="10.0" text-anchor="end" font-weight="normal" fill="#1a1a1a" >-50</text><text x="0" y="0" transform="translate(76.83,111) scale(0.92,1)" font-size="10.0" text-anchor="middle" font-weight="normal" fill="#1a1a1a" >500</text><text x="0" y="0" transform="translate(109.86,111) scale(0.92,1)" font-size="10.0" text-anchor="middle" font-weight="normal" fill="#1a1a1a" >550</text><text x="0" y="0" transform="translate(142.9,111) scale(0.92,1)" font-size="10.0" text-anchor="middle" font-weight="normal" fill="#1a1a1a" >600</text><path d="M50.4,37.36 L50.73,36.34 L51.06,37.28 L51.39,35.97 L51.72,36.38 L52.05,35.91 L52.38,37.14 L52.71,36.23 L53.04,37.25 L53.37,37.03 L53.7,36.58 L54.03,35.95 L54.36,35.68 L54.69,35.47 L55.02,35.44 L55.36,35.97 L55.69,36.83 L56.02,37.71 L56.35,36.59 L56.68,36.31 L57.01,35.95 L57.34,36.95 L57.67,37.53 L58,37.19 L58.33,37.38 L58.66,37.15 L58.99,38.32 L59.32,38 L59.65,38.55 L59.98,37.52 L60.31,37.09 L60.64,37.55 L60.97,37.05 L61.3,37.32 L61.63,36.97 L61.96,38.09 L62.29,38.65 L62.62,38.06 L62.95,37.82 L63.28,37.09 L63.61,36.68 L63.94,35.52 L64.27,34.65 L64.61,35.41 L64.94,36.61 L65.27,36.9 L65.6,36.53 L65.93,35.24 L66.26,35.8 L66.59,35.27 L66.92,35.4 L67.25,34.97 L67.58,35.34 L67.91,35.57 L68.24,35.82 L68.57,35.95 L68.9,35.58 L69.23,35.97 L69.56,35.07 L69.89,35.67 L70.22,34.78 L70.55,35.79 L70.88,35.84 L71.21,35.2 L71.54,35.29 L71.87,35.85 L72.2,37.39 L72.53,37.36 L72.86,35.35 L73.19,34.79 L73.52,34.03 L73.85,35.81 L74.19,35.69 L74.52,35.81 L74.85,34.17 L75.18,34.73 L75.51,34.74 L75.84,35.57 L76.17,35.72 L76.5,36.05 L76.83,36.35 L77.16,37.06 L77.49,36.68 L77.82,36.18 L78.15,35.06 L78.48,36.14 L78.81,35.56 L79.14,35.11 L79.47,33.72 L79.8,33.72 L80.13,34.13 L80.46,34.21 L80.79,35.12 L81.12,34.82 L81.45,35.29 L81.78,35.12 L82.11,34.41 L82.44,34.25 L82.77,34.3 L83.1,35.07 L83.44,34.91 L83.77,35.31 L84.1,35.41 L84.43,35.61 L84.76,35.4 L85.09,35.16 L85.42,35.47 L85.75,33.98 L86.08,33.14 L86.41,32.52 L86.74,33.7 L87.07,33.22 L87.4,33.32 L87.73,33.39 L88.06,34.54 L88.39,34.63 L88.72,33.87 L89.05,34.17 L89.38,33.27 L89.71,34.73 L90.04,34.47 L90.37,36.41 L90.7,35.03 L91.03,35.8 L91.36,35.44 L91.69,36.14 L92.02,35.43 L92.35,36.23 L92.68,37.16 L93.02,38.88 L93.35,38.37 L93.68,38.43 L94.01,38.02 L94.34,38.69 L94.67,39.04 L95,39.46 L95.33,38.94 L95.66,38.01 L95.99,38.86 L96.32,39.38 L96.65,40.63 L96.98,39.37 L97.31,39.98 L97.64,39.96 L97.97,40.97 L98.3,40.15 L98.63,40.14 L98.96,39.76 L99.29,40.08 L99.62,40.4 L99.95,41.33 L100.28,41.32 L100.61,41.14 L100.94,40.46 L101.27,40.36 L101.6,39.94 L101.93,40.6 L102.26,41.73 L102.6,41.66 L102.93,40.34 L103.26,40.43 L103.59,42.11 L103.92,43.41 L104.25,43.38 L104.58,43.73 L104.91,43.46 L105.24,44.02 L105.57,43.91 L105.9,43.51 L106.23,43.28 L106.56,42.74 L106.89,43.01 L107.22,42.25 L107.55,42.51 L107.88,42.94 L108.21,43.98 L108.54,42.88 L108.87,42.63 L109.2,42.89 L109.53,43.98 L109.86,44.03 L110.19,43.22 L110.52,42.26 L110.85,41.97 L111.18,42.64 L111.51,43.83 L111.85,45.44 L112.18,45.07 L112.51,45.02 L112.84,42.82 L113.17,42.99 L113.5,44.37 L113.83,46.39 L114.16,46.47 L114.49,46.07 L114.82,46.27 L115.15,46.63 L115.48,45.8 L115.81,45.49 L116.14,45.88 L116.47,45.71 L116.8,46.02 L117.13,45.88 L117.46,47.22 L117.79,47.46 L118.12,46.89 L118.45,47.13 L118.78,46.81 L119.11,46.88 L119.44,46.27 L119.77,46.19 L120.1,47.35 L120.43,46.49 L120.76,46.11 L121.09,45.45 L121.43,47.32 L121.76,48.68 L122.09,48.37 L122.42,46.5 L122.75,45.86 L123.08,45.84 L123.41,47.3 L123.74,47.72 L124.07,48.57 L124.4,48.12 L124.73,49.04 L125.06,48.65 L125.39,48.28 L125.72,48.21 L126.05,49.69 L126.38,50.41 L126.71,50.28 L127.04,51.03 L127.37,50.93 L127.7,50.63 L128.03,49.72 L128.36,49.14 L128.69,49.32 L129.02,49.66 L129.35,50.99 L129.68,51.85 L130.01,52.04 L130.34,52.06 L130.68,51.96 L131.01,51.97 L131.34,51.42 L131.67,50.8 L132,50.28 L132.33,51.12 L132.66,51.53 L132.99,51.35 L133.32,51.87 L133.65,51.28 L133.98,52.87 L134.31,53.21 L134.64,55.28 L134.97,55.15 L135.3,54.92 L135.63,53.52 L135.96,53.93 L136.29,54.45 L136.62,55.72 L136.95,56 L137.28,56.92 L137.61,56.92 L137.94,57.73 L138.27,57.23 L138.6,57.5 L138.93,57.13 L139.26,58.03 L139.59,59.09 L139.92,57.89 L140.26,58.34 L140.59,56.91 L140.92,57.91 L141.25,57.61 L141.58,59.44 L141.91,59.46 L142.24,58.53 L142.57,58.67 L142.9,59.72" fill="none" stroke="#2c2c2c" stroke-width="1.2" stroke-linejoin="round" /><line x1="96.6" y1="25.5" x2="96.6" y2="100.1" stroke="#8fd6f4" stroke-width="1.0" stroke-dasharray="10.8,3.8" stroke-dashoffset="0"/><path d="M50.4,34.46 L50.73,35.2 L51.06,35.09 L51.39,36.61 L51.72,35.34 L52.05,35.92 L52.38,36.36 L52.71,37.39 L53.04,37.09 L53.37,35.14 L53.7,35.22 L54.03,35.15 L54.36,35.75 L54.69,34.83 L55.02,34.84 L55.36,34.61 L55.69,35.1 L56.02,35.19 L56.35,35.62 L56.68,35.83 L57.01,36.11 L57.34,35.56 L57.67,36.2 L58,35.2 L58.33,35.3 L58.66,34.68 L58.99,35.57 L59.32,36.1 L59.65,35.82 L59.98,35.09 L60.31,34.83 L60.64,34.56 L60.97,35.15 L61.3,35.16 L61.63,36.34 L61.96,35.7 L62.29,35.72 L62.62,35.15 L62.95,34.95 L63.28,34.67 L63.61,35.78 L63.94,36.28 L64.27,37.27 L64.61,35.42 L64.94,34.25 L65.27,33.79 L65.6,34.24 L65.93,35.5 L66.26,35.07 L66.59,34.79 L66.92,34.04 L67.25,34.65 L67.58,34.19 L67.91,35.21 L68.24,34.6 L68.57,34.77 L68.9,33.97 L69.23,34.52 L69.56,35.37 L69.89,35.9 L70.22,35.46 L70.55,34.57 L70.88,34.93 L71.21,34.66 L71.54,34.89 L71.87,33.99 L72.2,33.96 L72.53,33.51 L72.86,33.51 L73.19,33.3 L73.52,33.71 L73.85,33.07 L74.19,34.33 L74.52,33.96 L74.85,34.89 L75.18,34.09 L75.51,35.11 L75.84,35.83 L76.17,35.84 L76.5,35.66 L76.83,34.51 L77.16,34.97 L77.49,33.92 L77.82,33.95 L78.15,33.3 L78.48,34.21 L78.81,34.61 L79.14,34.92 L79.47,34.74 L79.8,34.25 L80.13,33.68 L80.46,33.97 L80.79,33.97 L81.12,34.18 L81.45,33.32 L81.78,32.19 L82.11,31.35 L82.44,31.46 L82.77,32.98 L83.1,33.82 L83.44,34.36 L83.77,33.15 L84.1,32.75 L84.43,31.84 L84.76,32.39 L85.09,31.92 L85.42,31.23 L85.75,31.21 L86.08,31.38 L86.41,32.4 L86.74,31.66 L87.07,32 L87.4,32.2 L87.73,33.35 L88.06,33.64 L88.39,33.03 L88.72,31.33 L89.05,31.32 L89.38,31.29 L89.71,32.58 L90.04,32.85 L90.37,33.65 L90.7,34.1 L91.03,34.13 L91.36,33.31 L91.69,34.33 L92.02,34.06 L92.35,35.07 L92.68,34.72 L93.02,35.11 L93.35,35.16 L93.68,35.13 L94.01,35.34 L94.34,35.77 L94.67,37.16 L95,37.04 L95.33,36.68 L95.66,35.68 L95.99,36.32 L96.32,38.48 L96.65,39.45 L96.98,40.8 L97.31,40.95 L97.64,41.03 L97.97,41.66 L98.3,42.11 L98.63,44.15 L98.96,44.57 L99.29,45.21 L99.62,45.41 L99.95,46.44 L100.28,46.36 L100.61,47.37 L100.94,48.31 L101.27,50.4 L101.6,50.12 L101.93,49.52 L102.26,49.89 L102.6,51.71 L102.93,53.83 L103.26,54.42 L103.59,55.45 L103.92,55.51 L104.25,56.27 L104.58,56.73 L104.91,58.01 L105.24,59.2 L105.57,59.36 L105.9,60.99 L106.23,61.63 L106.56,63.39 L106.89,64.1 L107.22,65.46 L107.55,66.21 L107.88,67.14 L108.21,68.73 L108.54,69.84 L108.87,69.42 L109.2,68.45 L109.53,68.35 L109.86,69.07 L110.19,70.81 L110.52,71.74 L110.85,72.75 L111.18,73.6 L111.51,74.59 L111.85,75.2 L112.18,75.34 L112.51,75.81 L112.84,76.06 L113.17,76.34 L113.5,75.59 L113.83,75.92 L114.16,76.03 L114.49,76.54 L114.82,76.69 L115.15,76.94 L115.48,77.25 L115.81,76.88 L116.14,76.32 L116.47,75.57 L116.8,76.77 L117.13,77.3 L117.46,78.14 L117.79,77.3 L118.12,77.36 L118.45,77.44 L118.78,77.18 L119.11,76.91 L119.44,77.25 L119.77,77.02 L120.1,76.66 L120.43,76.4 L120.76,76.66 L121.09,77.49 L121.43,76.71 L121.76,77.22 L122.09,77.27 L122.42,77.98 L122.75,78.25 L123.08,77.8 L123.41,77.55 L123.74,77.19 L124.07,77.55 L124.4,79.36 L124.73,79.35 L125.06,80 L125.39,78.18 L125.72,77.71 L126.05,76.71 L126.38,77.03 L126.71,77.67 L127.04,77.89 L127.37,78 L127.7,78.23 L128.03,78.67 L128.36,78 L128.69,77.94 L129.02,77.31 L129.35,78.3 L129.68,78.61 L130.01,79.53 L130.34,79.61 L130.68,79.7 L131.01,79.97 L131.34,80.98 L131.67,82.22 L132,82.03 L132.33,82.32 L132.66,82.55 L132.99,83.09 L133.32,82.89 L133.65,82.97 L133.98,84.34 L134.31,84.26 L134.64,84.85 L134.97,84.94 L135.3,86.67 L135.63,88.07 L135.96,89.5 L136.29,89.77 L136.62,89.46 L136.95,89.47 L137.28,90.73 L137.61,92.08 L137.94,92.6 L138.27,93.21 L138.6,92.59 L138.93,92.36 L139.26,90.82 L139.59,91.29 L139.92,92.57 L140.26,94.76 L140.59,97.25 L140.92,97.69 L141.25,97.81 L141.58,96.17 L141.91,96.04 L142.24,96.11 L142.57,96.89 L142.9,97.28" fill="none" stroke="#52c3ef" stroke-width="1.3" stroke-linejoin="round" /><rect x="53" y="150.2" width="74.9" height="24.1" fill="#fff" stroke="#9a9a9a" stroke-width="0.8"/><line x1="53.8" y1="156.5" x2="74.8" y2="156.5" stroke="#333" stroke-width="1.5" /><line x1="53.8" y1="168" x2="74.8" y2="168" stroke="#6ccdf3" stroke-width="2.0" /><text x="77.7" y="159.9" font-size="9.1" text-anchor="start" font-weight="normal" fill="#1a1a1a" >NR– –NR</text><text x="77.7" y="170.8" font-size="9.1" text-anchor="start" font-weight="normal" fill="#1a1a1a" >NR–NS–NR</text><line x1="33.5" y1="233.4" x2="33.5" y2="321.4" stroke="#4a4a4a" stroke-width="0.9" /><line x1="30.1" y1="233.4" x2="33.5" y2="233.4" stroke="#4a4a4a" stroke-width="0.9" /><text x="0" y="0" transform="translate(24.5,237.5) scale(0.92,1)" font-size="10.0" text-anchor="end" font-weight="normal" fill="#1a1a1a" >1</text><line x1="30.1" y1="251" x2="33.5" y2="251" stroke="#4a4a4a" stroke-width="0.9" /><text x="0" y="0" transform="translate(28.1,255.1) scale(0.92,1)" font-size="10.0" text-anchor="end" font-weight="normal" fill="#1a1a1a" >0.8</text><line x1="30.1" y1="268.6" x2="33.5" y2="268.6" stroke="#4a4a4a" stroke-width="0.9" /><text x="0" y="0" transform="translate(28.1,272.7) scale(0.92,1)" font-size="10.0" text-anchor="end" font-weight="normal" fill="#1a1a1a" >0.6</text><line x1="30.1" y1="286.2" x2="33.5" y2="286.2" stroke="#4a4a4a" stroke-width="0.9" /><text x="0" y="0" transform="translate(28.1,290.3) scale(0.92,1)" font-size="10.0" text-anchor="end" font-weight="normal" fill="#1a1a1a" >0.4</text><line x1="30.1" y1="303.8" x2="33.5" y2="303.8" stroke="#4a4a4a" stroke-width="0.9" /><text x="0" y="0" transform="translate(28.1,307.9) scale(0.92,1)" font-size="10.0" text-anchor="end" font-weight="normal" fill="#1a1a1a" >0.2</text><line x1="30.1" y1="321.4" x2="33.5" y2="321.4" stroke="#4a4a4a" stroke-width="0.9" /><text x="0" y="0" transform="translate(24.5,325.5) scale(0.92,1)" font-size="10.0" text-anchor="end" font-weight="normal" fill="#1a1a1a" >0</text><line x1="31.7" y1="242.2" x2="33.5" y2="242.2" stroke="#4a4a4a" stroke-width="0.9" /><line x1="31.7" y1="259.8" x2="33.5" y2="259.8" stroke="#4a4a4a" stroke-width="0.9" /><line x1="31.7" y1="277.4" x2="33.5" y2="277.4" stroke="#4a4a4a" stroke-width="0.9" /><line x1="31.7" y1="295" x2="33.5" y2="295" stroke="#4a4a4a" stroke-width="0.9" /><line x1="31.7" y1="312.6" x2="33.5" y2="312.6" stroke="#4a4a4a" stroke-width="0.9" /><line x1="33.5" y1="321.4" x2="252.65" y2="321.4" stroke="#4a4a4a" stroke-width="0.9" /><line x1="33.5" y1="321.4" x2="33.5" y2="324.9" stroke="#4a4a4a" stroke-width="0.9" /><text x="0" y="0" transform="translate(33.5,334.8) scale(0.92,1)" font-size="10.0" text-anchor="middle" font-weight="normal" fill="#1a1a1a" >400</text><line x1="82.2" y1="321.4" x2="82.2" y2="324.9" stroke="#4a4a4a" stroke-width="0.9" /><text x="0" y="0" transform="translate(82.2,334.8) scale(0.92,1)" font-size="10.0" text-anchor="middle" font-weight="normal" fill="#1a1a1a" >500</text><line x1="130.9" y1="321.4" x2="130.9" y2="324.9" stroke="#4a4a4a" stroke-width="0.9" /><text x="0" y="0" transform="translate(130.9,334.8) scale(0.92,1)" font-size="10.0" text-anchor="middle" font-weight="normal" fill="#1a1a1a" >600</text><line x1="179.6" y1="321.4" x2="179.6" y2="324.9" stroke="#4a4a4a" stroke-width="0.9" /><text x="0" y="0" transform="translate(179.6,334.8) scale(0.92,1)" font-size="10.0" text-anchor="middle" font-weight="normal" fill="#1a1a1a" >700</text><line x1="228.3" y1="321.4" x2="228.3" y2="324.9" stroke="#4a4a4a" stroke-width="0.9" /><text x="0" y="0" transform="translate(228.3,334.8) scale(0.92,1)" font-size="10.0" text-anchor="middle" font-weight="normal" fill="#1a1a1a" >800</text><line x1="43.24" y1="321.4" x2="43.24" y2="323.2" stroke="#4a4a4a" stroke-width="0.9" /><line x1="52.98" y1="321.4" x2="52.98" y2="323.2" stroke="#4a4a4a" stroke-width="0.9" /><line x1="62.72" y1="321.4" x2="62.72" y2="323.2" stroke="#4a4a4a" stroke-width="0.9" /><line x1="72.46" y1="321.4" x2="72.46" y2="323.2" stroke="#4a4a4a" stroke-width="0.9" /><line x1="91.94" y1="321.4" x2="91.94" y2="323.2" stroke="#4a4a4a" stroke-width="0.9" /><line x1="101.68" y1="321.4" x2="101.68" y2="323.2" stroke="#4a4a4a" stroke-width="0.9" /><line x1="111.42" y1="321.4" x2="111.42" y2="323.2" stroke="#4a4a4a" stroke-width="0.9" /><line x1="121.16" y1="321.4" x2="121.16" y2="323.2" stroke="#4a4a4a" stroke-width="0.9" /><line x1="140.64" y1="321.4" x2="140.64" y2="323.2" stroke="#4a4a4a" stroke-width="0.9" /><line x1="150.38" y1="321.4" x2="150.38" y2="323.2" stroke="#4a4a4a" stroke-width="0.9" /><line x1="160.12" y1="321.4" x2="160.12" y2="323.2" stroke="#4a4a4a" stroke-width="0.9" /><line x1="169.86" y1="321.4" x2="169.86" y2="323.2" stroke="#4a4a4a" stroke-width="0.9" /><line x1="189.34" y1="321.4" x2="189.34" y2="323.2" stroke="#4a4a4a" stroke-width="0.9" /><line x1="199.08" y1="321.4" x2="199.08" y2="323.2" stroke="#4a4a4a" stroke-width="0.9" /><line x1="208.82" y1="321.4" x2="208.82" y2="323.2" stroke="#4a4a4a" stroke-width="0.9" /><line x1="218.56" y1="321.4" x2="218.56" y2="323.2" stroke="#4a4a4a" stroke-width="0.9" /><line x1="238.04" y1="321.4" x2="238.04" y2="323.2" stroke="#4a4a4a" stroke-width="0.9" /><line x1="247.78" y1="321.4" x2="247.78" y2="323.2" stroke="#4a4a4a" stroke-width="0.9" /><text x="144.1" y="343.4" font-size="10.9" text-anchor="middle" font-weight="normal" fill="#1a1a1a" >Wavelength [nm]</text><text x="0" y="0" font-size="10.7" text-anchor="middle" fill="#1a1a1a" transform="translate(11,279.1) rotate(-90)">Extinction [normalized]</text><path d="M33.5,280.28 L33.74,281.44 L33.99,281.23 L34.23,281.7 L34.47,280.43 L34.72,280.63 L34.96,280.92 L35.2,281.83 L35.45,281.28 L35.69,281.52 L35.94,281.43 L36.18,281.6 L36.42,281.34 L36.67,281.8 L36.91,281.3 L37.15,281.63 L37.4,281.91 L37.64,281.88 L37.88,282.08 L38.13,281.58 L38.37,282.11 L38.61,281.91 L38.86,282.26 L39.1,282.79 L39.34,281.79 L39.59,282.7 L39.83,281.98 L40.07,282.14 L40.32,283.1 L40.56,282.84 L40.8,282.69 L41.05,282.87 L41.29,283.08 L41.54,282.27 L41.78,282.75 L42.02,282.52 L42.27,282.92 L42.51,282.64 L42.75,283.14 L43,282.86 L43.24,282.64 L43.48,282.91 L43.73,283.17 L43.97,283.49 L44.21,282.97 L44.46,282.93 L44.7,283.23 L44.94,283.49 L45.19,282.95 L45.43,282.13 L45.67,283.38 L45.92,283.14 L46.16,283.15 L46.41,284.47 L46.65,283.32 L46.89,283.71 L47.14,282.82 L47.38,283.57 L47.62,283.83 L47.87,283.6 L48.11,283.46 L48.35,283.8 L48.6,283.6 L48.84,284.2 L49.08,283.72 L49.33,283.3 L49.57,282.8 L49.81,283.38 L50.06,283.59 L50.3,283.21 L50.55,283.31 L50.79,283.05 L51.03,283.33 L51.28,283.88 L51.52,283.73 L51.76,283.79 L52.01,283.76 L52.25,283.82 L52.49,284.28 L52.74,284.88 L52.98,284.27 L53.22,284.89 L53.47,283.99 L53.71,284.03 L53.95,284.79 L54.2,283.77 L54.44,283.72 L54.68,284.08 L54.93,283.4 L55.17,283.33 L55.41,284.71 L55.66,283.74 L55.9,284.02 L56.15,284.05 L56.39,283.84 L56.63,284.59 L56.88,284.55 L57.12,284.67 L57.36,284.65 L57.61,284.38 L57.85,284.99 L58.09,284.83 L58.34,284.13 L58.58,284.43 L58.82,284.25 L59.07,285.27 L59.31,284.79 L59.55,284.71 L59.8,284.46 L60.04,284.75 L60.28,284.09 L60.53,284.54 L60.77,284.52 L61.02,284.54 L61.26,284.24 L61.5,284.77 L61.75,284.08 L61.99,284.39 L62.23,284.53 L62.48,284.59 L62.72,284.39 L62.96,284.18 L63.21,284.22 L63.45,284.48 L63.69,284.27 L63.94,284.61 L64.18,284.11 L64.42,284.68 L64.67,285.59 L64.91,284.09 L65.16,284.64 L65.4,285.21 L65.64,284.78 L65.89,285.09 L66.13,283.78 L66.37,284.48 L66.62,285.39 L66.86,284.46 L67.1,284.88 L67.35,283.86 L67.59,285.16 L67.83,285.68 L68.08,284.66 L68.32,284.83 L68.56,284.85 L68.81,285.59 L69.05,284.44 L69.29,283.88 L69.54,285.43 L69.78,284.06 L70.03,284.8 L70.27,283.49 L70.51,284.3 L70.76,284.55 L71,283.95 L71.24,284.17 L71.49,284.63 L71.73,284.03 L71.97,284.53 L72.22,285.06 L72.46,283.34 L72.7,284.35 L72.95,284.42 L73.19,283.97 L73.43,284.76 L73.68,284.63 L73.92,284.21 L74.16,284.18 L74.41,283.88 L74.65,283.37 L74.89,284.03 L75.14,283.56 L75.38,283.47 L75.63,284.17 L75.87,283.55 L76.11,284.02 L76.36,283.09 L76.6,283.31 L76.84,283.46 L77.09,284 L77.33,283.3 L77.57,283.62 L77.82,282.9 L78.06,283.19 L78.3,283.42 L78.55,282.58 L78.79,282.59 L79.03,283.08 L79.28,282.22 L79.52,282.78 L79.77,282.69 L80.01,282.41 L80.25,282.7 L80.5,282.47 L80.74,282.25 L80.98,281.41 L81.23,281.33 L81.47,282 L81.71,281.08 L81.96,281.71 L82.2,281.43 L82.44,281.12 L82.69,281.28 L82.93,280.26 L83.17,281.12 L83.42,281.67 L83.66,280.48 L83.9,281.15 L84.15,281.02 L84.39,282.12 L84.63,280.29 L84.88,280.3 L85.12,280.24 L85.37,280.1 L85.61,279.72 L85.85,280.43 L86.1,279.95 L86.34,280.63 L86.58,280.41 L86.83,279.73 L87.07,279.97 L87.31,280.67 L87.56,279.88 L87.8,280.07 L88.04,280.3 L88.29,279.71 L88.53,280.04 L88.77,280.52 L89.02,280.29 L89.26,279.01 L89.5,280.44 L89.75,279.68 L89.99,279.52 L90.24,279.54 L90.48,280.41 L90.72,280.08 L90.97,279.95 L91.21,279.75 L91.45,280.48 L91.7,280.82 L91.94,279.98 L92.18,280.06 L92.43,280.51 L92.67,281.07 L92.91,280.76 L93.16,281.03 L93.4,280.85 L93.64,281.91 L93.89,281.45 L94.13,281.71 L94.38,282.26 L94.62,281.8 L94.86,282 L95.11,282.31 L95.35,282.07 L95.59,282.97 L95.84,282.47 L96.08,282.35 L96.32,282.52 L96.57,282.27 L96.81,283.37 L97.05,283.6 L97.3,282.93 L97.54,282.93 L97.78,282.29 L98.03,283.05 L98.27,283.8 L98.51,283.15 L98.76,283.97 L99,284.35 L99.25,282.64 L99.49,283.74 L99.73,283.66 L99.98,283.83 L100.22,283.37 L100.46,284.14 L100.71,283.82 L100.95,284.91 L101.19,285.16 L101.44,284.02 L101.68,284.09 L101.92,284.61 L102.17,284.84 L102.41,284.96 L102.65,285.44 L102.9,284.56 L103.14,285.05 L103.38,285.21 L103.63,285.37 L103.87,285.18 L104.11,285.53 L104.36,285.52 L104.6,286.47 L104.85,285.84 L105.09,285.21 L105.33,286.51 L105.58,286.45 L105.82,286.12 L106.06,286.2 L106.31,286.46 L106.55,287.57 L106.79,286.75 L107.04,287.61 L107.28,287.57 L107.52,287.08 L107.77,287.57 L108.01,287.21 L108.25,286.3 L108.5,287.47 L108.74,287.61 L108.98,288.45 L109.23,288.46 L109.47,288.77 L109.72,288.66 L109.96,289.02 L110.2,288.96 L110.45,288.88 L110.69,289.36 L110.93,289.67 L111.18,289.76 L111.42,289.09 L111.66,289.39 L111.91,289.09 L112.15,289.2 L112.39,289.93 L112.64,289.61 L112.88,290.67 L113.12,289.15 L113.37,289.75 L113.61,290.49 L113.86,291.03 L114.1,290.47 L114.34,291.58 L114.59,291.23 L114.83,290.68 L115.07,291.11 L115.32,291.49 L115.56,290.98 L115.8,291.99 L116.05,291.55 L116.29,292.03 L116.53,292.32 L116.78,291.87 L117.02,292.65 L117.26,291.51 L117.51,292.74 L117.75,291.74 L117.99,293.23 L118.24,292.61 L118.48,293.53 L118.72,293.71 L118.97,293.17 L119.21,293.06 L119.46,294.03 L119.7,293.06 L119.94,294.03 L120.19,293.72 L120.43,293.71 L120.67,293.7 L120.92,294.84 L121.16,293.41 L121.4,293.95 L121.65,294.45 L121.89,294.79 L122.13,295.16 L122.38,295.09 L122.62,294.32 L122.86,294.78 L123.11,295.2 L123.35,295.01 L123.59,294.15 L123.84,295.05 L124.08,295.23 L124.33,294.44 L124.57,294.89 L124.81,295.12 L125.06,295.46 L125.3,295.92 L125.54,295.8 L125.79,295.53 L126.03,295.45 L126.27,295.23 L126.52,295.16 L126.76,295.33 L127,295.34 L127.25,295.88 L127.49,296.38 L127.73,295.63 L127.98,295.78 L128.22,295.58 L128.47,295.33 L128.71,295.66 L128.95,295.5 L129.2,294.95 L129.44,294.74 L129.68,294.96 L129.93,294.33 L130.17,294.53 L130.41,294.77 L130.66,294.2 L130.9,293.29 L131.14,294.33 L131.39,293.43 L131.63,293.25 L131.87,293.12 L132.12,294.05 L132.36,292.72 L132.6,293.47 L132.85,293.55 L133.09,293.45 L133.33,293 L133.58,293.14 L133.82,293.15 L134.07,292.4 L134.31,293.18 L134.55,293.2 L134.8,292.28 L135.04,292.19 L135.28,291.88 L135.53,292.69 L135.77,291.59 L136.01,291.7 L136.26,290.97 L136.5,292.13 L136.74,291.31 L136.99,291.34 L137.23,291.73 L137.47,291.15 L137.72,290.14 L137.96,290.64 L138.2,290.54 L138.45,289.62 L138.69,289.34 L138.94,289.11 L139.18,289.66 L139.42,289.1 L139.67,288.38 L139.91,288.87 L140.15,288.65 L140.4,287.7 L140.64,287.11 L140.88,288.03 L141.13,288.38 L141.37,287.58 L141.61,287.09 L141.86,286.39 L142.1,285.73 L142.34,285.73 L142.59,285.64 L142.83,284.91 L143.07,285.04 L143.32,284.27 L143.56,284.16 L143.81,282.31 L144.05,282.74 L144.29,283.07 L144.54,282.73 L144.78,282.07 L145.02,282.18 L145.27,281.34 L145.51,280.91 L145.75,279.75 L146,279.88 L146.24,279.58 L146.48,279.36 L146.73,278.82 L146.97,277.86 L147.21,277.44 L147.46,276.36 L147.7,276.64 L147.94,275.4 L148.19,275.25 L148.43,274.86 L148.68,275.23 L148.92,274.4 L149.16,272.98 L149.41,272.17 L149.65,272.16 L149.89,271.39 L150.14,271.36 L150.38,270.81 L150.62,270.39 L150.87,269.12 L151.11,268.85 L151.35,268.55 L151.6,268.02 L151.84,267.03 L152.08,266.49 L152.33,266.32 L152.57,264.49 L152.81,264.4 L153.06,263.74 L153.3,262.31 L153.55,261.71 L153.79,261.37 L154.03,260.26 L154.28,260.12 L154.52,259.06 L154.76,258.91 L155.01,256.5 L155.25,256.99 L155.49,254.98 L155.74,254.77 L155.98,253.97 L156.22,252.76 L156.47,251.7 L156.71,250.71 L156.95,249.38 L157.2,249.2 L157.44,248.18 L157.69,248.07 L157.93,246.76 L158.17,246.3 L158.42,245.9 L158.66,245.09 L158.9,244.47 L159.15,243.79 L159.39,243.18 L159.63,243.1 L159.88,242.76 L160.12,241.72 L160.36,242.41 L160.61,241.56 L160.85,240.22 L161.09,241.72 L161.34,240.46 L161.58,239.48 L161.82,240.14 L162.07,237.91 L162.31,239.83 L162.56,237.71 L162.8,237.32 L163.04,237.27 L163.29,237.44 L163.53,236.87 L163.77,237.12 L164.02,236.08 L164.26,236.65 L164.5,236.02 L164.75,235.21 L164.99,235.9 L165.23,235.36 L165.48,234.92 L165.72,235.4 L165.96,234.14 L166.21,234.36 L166.45,235.05 L166.69,234.3 L166.94,234.54 L167.18,234.43 L167.42,234.08 L167.67,234.42 L167.91,233.71 L168.16,234.51 L168.4,233.88 L168.64,234.47 L168.89,234.25 L169.13,235.06 L169.37,235.28 L169.62,235.82 L169.86,235.34 L170.1,235.48 L170.35,235.27 L170.59,235.97 L170.83,236.77 L171.08,237.33 L171.32,237.43 L171.56,237.98 L171.81,237.7 L172.05,238.3 L172.29,239.46 L172.54,239.76 L172.78,239.22 L173.03,240.04 L173.27,240.63 L173.51,240.37 L173.76,241.44 L174,241.79 L174.24,242.27 L174.49,243.34 L174.73,242.52 L174.97,243.86 L175.22,244.02 L175.46,244.55 L175.7,244.36 L175.95,245.18 L176.19,245.63 L176.43,246.86 L176.68,246.66 L176.92,247.77 L177.16,247.5 L177.41,247.99 L177.65,248.69 L177.9,248.31 L178.14,249.52 L178.38,250.04 L178.63,250.79 L178.87,251.5 L179.11,251.55 L179.36,252.06 L179.6,253.69 L179.84,253.24 L180.09,254.06 L180.33,254.45 L180.57,255.26 L180.82,256.61 L181.06,257.18 L181.3,256.46 L181.55,257.76 L181.79,259.1 L182.03,258.94 L182.28,259.86 L182.52,261.13 L182.77,261.94 L183.01,262.25 L183.25,262.05 L183.5,262.81 L183.74,263.51 L183.98,263.9 L184.23,264.4 L184.47,266.26 L184.71,266.17 L184.96,267.13 L185.2,268.07 L185.44,268.54 L185.69,269.14 L185.93,270.01 L186.17,271.34 L186.42,271.72 L186.66,271.44 L186.91,273.6 L187.15,274.68 L187.39,274.61 L187.64,275.24 L187.88,276.06 L188.12,277.49 L188.37,277.27 L188.61,278.73 L188.85,279.53 L189.1,279.9 L189.34,280.25 L189.58,280.4 L189.83,280.91 L190.07,281.63 L190.31,281.62 L190.56,282.38 L190.8,282.4 L191.04,283.76 L191.29,284.17 L191.53,283.46 L191.78,284.73 L192.02,284.55 L192.26,284.76 L192.51,285.23 L192.75,285.51 L192.99,284.99 L193.24,287.01 L193.48,285.82 L193.72,285.5 L193.97,286.82 L194.21,287.17 L194.45,287.19 L194.7,287.07 L194.94,288.77 L195.18,288.59 L195.43,289.11 L195.67,289.18 L195.91,289.76 L196.16,289.95 L196.4,290.85 L196.65,291.06 L196.89,291.8 L197.13,292.23 L197.38,292.43 L197.62,292.86 L197.86,293.74 L198.11,292.97 L198.35,294.14 L198.59,295.12 L198.84,294.45 L199.08,295.68 L199.32,295.54 L199.57,296.18 L199.81,296.47 L200.05,296.91 L200.3,297.65 L200.54,297.8 L200.78,297.34 L201.03,299.65 L201.27,299.07 L201.51,299.34 L201.76,300.42 L202,300.99 L202.25,299.87 L202.49,301.4 L202.73,300.74 L202.98,301.83 L203.22,302.44 L203.46,302.66 L203.71,302.98 L203.95,303.11 L204.19,303.8 L204.44,304.27 L204.68,304.59 L204.92,304.39 L205.17,304.93 L205.41,306.01 L205.65,306.1 L205.9,305.92 L206.14,306.59 L206.38,306.71 L206.63,307.2 L206.87,307.12 L207.12,307.05 L207.36,307.01 L207.6,307.66 L207.85,306.96 L208.09,308.12 L208.33,306.88 L208.58,308.04 L208.82,308.46 L209.06,309.08 L209.31,310.29 L209.55,309.3 L209.79,309.33 L210.04,308.73 L210.28,310.35 L210.52,309.07 L210.77,310.18 L211.01,309.91 L211.25,311.5 L211.5,310.47 L211.74,310.83 L211.99,310.52 L212.23,310.92 L212.47,311.6 L212.72,310.81 L212.96,311.05 L213.2,311.22 L213.45,311.16 L213.69,311.24 L213.93,311.85 L214.18,312.55 L214.42,312.67 L214.66,311.57 L214.91,311.96 L215.15,312.33 L215.39,312.67 L215.64,312.56 L215.88,312.67 L216.12,312.92 L216.37,313.17 L216.61,312.01 L216.86,312.95 L217.1,313.4 L217.34,313.8 L217.59,313.63 L217.83,313.08 L218.07,313.14 L218.32,313.65 L218.56,313.61 L218.8,313.85 L219.05,314.28 L219.29,313.29 L219.53,313.78 L219.78,312.92 L220.02,314.42 L220.26,314.22 L220.51,313.84 L220.75,314.41 L221,314.98 L221.24,314.86 L221.48,314.46 L221.73,314.43 L221.97,314.68 L222.21,314.27 L222.46,314.33 L222.7,314.69 L222.94,314.88 L223.19,315.07 L223.43,314.77 L223.67,314.67 L223.92,315.1 L224.16,314.99 L224.4,315.38 L224.65,315.92 L224.89,315.79 L225.13,315.07 L225.38,315.26 L225.62,314.81 L225.87,315.54 L226.11,315.23 L226.35,315.08 L226.6,315.28 L226.84,316.04 L227.08,315.9 L227.33,315.82 L227.57,316.36 L227.81,315.77 L228.06,315.58 L228.3,316.3 L228.54,315.27 L228.79,316.32 L229.03,316.34 L229.27,316.41 L229.52,316.67 L229.76,316.23 L230,316.47 L230.25,315.81 L230.49,316.33 L230.73,316.42 L230.98,316.82 L231.22,317.41 L231.47,315.09 L231.71,318.19 L231.95,314.75 L232.2,314.22 L232.44,315.04 L232.68,315.57 L232.93,316.18 L233.17,317.74 L233.41,316 L233.66,316.03 L233.9,315.61 L234.14,314.45 L234.39,315.93 L234.63,315.37 L234.87,315.43 L235.12,318.63 L235.36,318.66 L235.6,318.24 L235.85,317.44 L236.09,316.56 L236.34,317.57 L236.58,314.74 L236.82,314.56 L237.07,316.28 L237.31,315.1 L237.55,311.47 L237.8,308.33 L238.04,308.94 L238.28,309.09 L238.53,311.12 L238.77,314.92 L239.01,315.24 L239.26,315.88 L239.5,318.4 L239.74,317.66 L239.99,318.78 L240.23,316.7 L240.47,318.82 L240.72,317.23 L240.96,318.17 L241.21,317.37 L241.45,318.9 L241.69,319.82 L241.94,316.39 L242.18,319.49 L242.42,316.98 L242.67,317.74 L242.91,317.72 L243.15,316.95 L243.4,317.31 L243.64,316.36 L243.88,318.4 L244.13,314.49 L244.37,314.6 L244.61,314.72 L244.86,315.92 L245.1,317.29 L245.34,317.28 L245.59,321.07 L245.83,319.28 L246.08,319.81 L246.32,318.56 L246.56,319.44 L246.81,318.29 L247.05,319.48 L247.29,317.78 L247.54,317.19 L247.78,317.41 L248.02,314.93 L248.27,314.96 L248.51,313.98 L248.75,315.75 L249,318.07 L249.24,317.87 L249.48,320.79 L249.73,321.13 L249.97,321.09 L250.22,319.61 L250.46,319.79 L250.7,319.99 L250.95,320.22 L251.19,318.66 L251.43,320.08 L251.68,320.94 L251.92,321.08 L252.16,316.74 L252.41,322.29 L252.65,320.14" fill="none" stroke="#2c2c2c" stroke-width="1.3" stroke-linejoin="round" /><path d="M33.5,266.55 L33.74,267.05 L33.99,267.7 L34.23,267.41 L34.47,267.1 L34.72,267.02 L34.96,268.02 L35.2,267.36 L35.45,267.66 L35.69,267.36 L35.94,267.3 L36.18,268.13 L36.42,268.69 L36.67,267.95 L36.91,267.41 L37.15,267.96 L37.4,268.23 L37.64,267.34 L37.88,268.92 L38.13,268.14 L38.37,268.85 L38.61,268.64 L38.86,268.69 L39.1,268.13 L39.34,269.28 L39.59,269.17 L39.83,269.7 L40.07,268.84 L40.32,269.32 L40.56,269 L40.8,269.72 L41.05,269.47 L41.29,268.92 L41.54,269.51 L41.78,269.22 L42.02,269.33 L42.27,269.77 L42.51,270.37 L42.75,269.3 L43,269.72 L43.24,269.42 L43.48,270.8 L43.73,270.7 L43.97,270.97 L44.21,270.47 L44.46,269.68 L44.7,269.95 L44.94,270.27 L45.19,270.25 L45.43,270.03 L45.67,270.55 L45.92,270.29 L46.16,270.46 L46.41,271.53 L46.65,270.79 L46.89,270.08 L47.14,270.9 L47.38,270.84 L47.62,271.09 L47.87,271.08 L48.11,270.42 L48.35,271.08 L48.6,271.46 L48.84,272.43 L49.08,271.36 L49.33,272.02 L49.57,272.01 L49.81,270.91 L50.06,270.99 L50.3,272.2 L50.55,271.03 L50.79,271.26 L51.03,271.85 L51.28,271.24 L51.52,272.33 L51.76,272.19 L52.01,272.35 L52.25,272.25 L52.49,271.43 L52.74,272.45 L52.98,272.42 L53.22,272.39 L53.47,271.93 L53.71,272.22 L53.95,271.74 L54.2,272.48 L54.44,272.79 L54.68,272.49 L54.93,272.3 L55.17,272.78 L55.41,272.29 L55.66,271.66 L55.9,272.76 L56.15,272.54 L56.39,272.01 L56.63,272.93 L56.88,273.06 L57.12,273.21 L57.36,272.6 L57.61,272.59 L57.85,272.92 L58.09,272.88 L58.34,272.37 L58.58,272.59 L58.82,273.63 L59.07,273.05 L59.31,273.03 L59.55,272.79 L59.8,273.24 L60.04,273.46 L60.28,273.4 L60.53,274.01 L60.77,273.27 L61.02,273.54 L61.26,273.1 L61.5,273.78 L61.75,273.54 L61.99,273.8 L62.23,273.85 L62.48,273.09 L62.72,273.62 L62.96,273.23 L63.21,273.93 L63.45,273.4 L63.69,274.19 L63.94,273.66 L64.18,273.68 L64.42,273.2 L64.67,273.38 L64.91,273.53 L65.16,273.07 L65.4,273.35 L65.64,273.18 L65.89,273.06 L66.13,273.41 L66.37,273.49 L66.62,273.19 L66.86,273.49 L67.1,273.11 L67.35,272.76 L67.59,272.84 L67.83,273.34 L68.08,273.7 L68.32,273.12 L68.56,273.1 L68.81,272.52 L69.05,273.12 L69.29,273 L69.54,272.53 L69.78,273.01 L70.03,272.81 L70.27,271.93 L70.51,271.97 L70.76,272.28 L71,272.38 L71.24,272.86 L71.49,272.12 L71.73,272.27 L71.97,272.13 L72.22,272.38 L72.46,272.08 L72.7,272.08 L72.95,271.79 L73.19,271.22 L73.43,271.61 L73.68,272.42 L73.92,272.03 L74.16,272.22 L74.41,271.79 L74.65,271.11 L74.89,271.09 L75.14,271.44 L75.38,270.97 L75.63,271.33 L75.87,271.52 L76.11,271.39 L76.36,271 L76.6,269.84 L76.84,270.86 L77.09,269.53 L77.33,269.27 L77.57,269.69 L77.82,269.38 L78.06,269.37 L78.3,268.83 L78.55,268.24 L78.79,268.22 L79.03,267.47 L79.28,267.06 L79.52,267.1 L79.77,266.77 L80.01,266.6 L80.25,266.07 L80.5,266.35 L80.74,265.33 L80.98,265.05 L81.23,265.16 L81.47,263.47 L81.71,264.48 L81.96,264.08 L82.2,263.22 L82.44,263.83 L82.69,262.98 L82.93,262.96 L83.17,262.37 L83.42,261.68 L83.66,261.15 L83.9,260.5 L84.15,260.32 L84.39,259.87 L84.63,259.85 L84.88,260.05 L85.12,259.1 L85.37,259.57 L85.61,259.4 L85.85,258.26 L86.1,258.4 L86.34,258.46 L86.58,258.03 L86.83,257.79 L87.07,258.58 L87.31,257.83 L87.56,258.11 L87.8,257.35 L88.04,257.5 L88.29,256.42 L88.53,256.6 L88.77,256.99 L89.02,256.46 L89.26,256.8 L89.5,256.06 L89.75,255.66 L89.99,255.61 L90.24,256.4 L90.48,255.54 L90.72,255 L90.97,254.93 L91.21,254.41 L91.45,255.33 L91.7,254.4 L91.94,254.78 L92.18,254.28 L92.43,254.07 L92.67,253.83 L92.91,254.28 L93.16,253.85 L93.4,254.35 L93.64,254.38 L93.89,253.45 L94.13,253.65 L94.38,254.29 L94.62,253.92 L94.86,253.5 L95.11,252.81 L95.35,253.03 L95.59,253.14 L95.84,254.3 L96.08,253.58 L96.32,253.36 L96.57,253.45 L96.81,253.49 L97.05,253.85 L97.3,253.04 L97.54,253.25 L97.78,254.03 L98.03,254.52 L98.27,253.29 L98.51,254.56 L98.76,253.91 L99,253.72 L99.25,255.11 L99.49,254.71 L99.73,255.14 L99.98,254.91 L100.22,255.16 L100.46,254.61 L100.71,255.37 L100.95,255.81 L101.19,255.49 L101.44,256.28 L101.68,256.51 L101.92,255.55 L102.17,257.09 L102.41,257.13 L102.65,257.1 L102.9,257.78 L103.14,258.44 L103.38,257.25 L103.63,258.26 L103.87,258.36 L104.11,258.49 L104.36,258.96 L104.6,259.21 L104.85,258.87 L105.09,258.11 L105.33,259.08 L105.58,259.33 L105.82,260.59 L106.06,260.22 L106.31,261.04 L106.55,260.49 L106.79,261.26 L107.04,261.48 L107.28,261.89 L107.52,262.47 L107.77,263.26 L108.01,262.72 L108.25,263.98 L108.5,264.29 L108.74,264.31 L108.98,264.91 L109.23,264.91 L109.47,265 L109.72,265.77 L109.96,266.23 L110.2,266.75 L110.45,266.82 L110.69,268.46 L110.93,267.93 L111.18,268.95 L111.42,269.52 L111.66,269.42 L111.91,270.04 L112.15,270.05 L112.39,270.26 L112.64,272.2 L112.88,271.64 L113.12,271.17 L113.37,272.07 L113.61,272.23 L113.86,273.22 L114.1,274.29 L114.34,274.55 L114.59,274.14 L114.83,274.43 L115.07,275.59 L115.32,275.81 L115.56,276 L115.8,277.32 L116.05,277.13 L116.29,276.71 L116.53,276.9 L116.78,278.36 L117.02,277.95 L117.26,279.43 L117.51,280.01 L117.75,281.08 L117.99,280.12 L118.24,281.16 L118.48,280.4 L118.72,281.73 L118.97,282.22 L119.21,283.53 L119.46,282.5 L119.7,283.74 L119.94,284.06 L120.19,285.37 L120.43,284.39 L120.67,284.75 L120.92,285.82 L121.16,285.88 L121.4,286.11 L121.65,286.2 L121.89,286.91 L122.13,286.52 L122.38,287.69 L122.62,288.13 L122.86,288.35 L123.11,289.52 L123.35,289 L123.59,288.42 L123.84,288.96 L124.08,289.65 L124.33,289.35 L124.57,290.6 L124.81,290.04 L125.06,289.88 L125.3,290.01 L125.54,290.85 L125.79,290.3 L126.03,290.07 L126.27,291.26 L126.52,290.93 L126.76,292.11 L127,292.46 L127.25,291.49 L127.49,291.9 L127.73,291.99 L127.98,292.48 L128.22,292.5 L128.47,292.15 L128.71,291.88 L128.95,292.86 L129.2,293.6 L129.44,292.43 L129.68,292.83 L129.93,292.89 L130.17,293.19 L130.41,292.33 L130.66,293.39 L130.9,293.26 L131.14,294.35 L131.39,293.84 L131.63,293.94 L131.87,293.7 L132.12,293.58 L132.36,294.11 L132.6,293.06 L132.85,294.33 L133.09,294.1 L133.33,293.84 L133.58,294.53 L133.82,293.76 L134.07,293.76 L134.31,294.19 L134.55,293.25 L134.8,294.07 L135.04,294 L135.28,294.56 L135.53,294.88 L135.77,294.42 L136.01,294.27 L136.26,294.29 L136.5,293.69 L136.74,295 L136.99,294.34 L137.23,294.53 L137.47,293 L137.72,293.68 L137.96,293.5 L138.2,293.58 L138.45,292.51 L138.69,292.89 L138.94,292.41 L139.18,293.19 L139.42,291.57 L139.67,291.7 L139.91,291.41 L140.15,290.9 L140.4,291.32 L140.64,291.1 L140.88,290.49 L141.13,290.4 L141.37,290.46 L141.61,290.09 L141.86,290.08 L142.1,289.28 L142.34,288.92 L142.59,289.05 L142.83,287.94 L143.07,289.15 L143.32,288.28 L143.56,287.11 L143.81,287.74 L144.05,287.93 L144.29,286.28 L144.54,286.32 L144.78,286.74 L145.02,285.53 L145.27,285.96 L145.51,285.74 L145.75,284.84 L146,284.61 L146.24,284.5 L146.48,283.79 L146.73,283.68 L146.97,282.81 L147.21,282.45 L147.46,281.7 L147.7,281.81 L147.94,281.78 L148.19,281.35 L148.43,280.45 L148.68,279.23 L148.92,279.09 L149.16,279.31 L149.41,278.16 L149.65,278.64 L149.89,277.23 L150.14,277.38 L150.38,276.41 L150.62,276.01 L150.87,275.94 L151.11,275.21 L151.35,275.35 L151.6,274.42 L151.84,273.4 L152.08,271.53 L152.33,272.46 L152.57,272.14 L152.81,272.01 L153.06,270.46 L153.3,271.01 L153.55,269.96 L153.79,268.75 L154.03,268.73 L154.28,266.8 L154.52,266.26 L154.76,266.25 L155.01,265.48 L155.25,265.05 L155.49,264.31 L155.74,262.72 L155.98,261.85 L156.22,261.18 L156.47,260.42 L156.71,259.99 L156.95,258.79 L157.2,258.81 L157.44,257.36 L157.69,255.93 L157.93,255.22 L158.17,255.24 L158.42,254.42 L158.66,252.91 L158.9,251.98 L159.15,252.7 L159.39,251.51 L159.63,250.52 L159.88,249.4 L160.12,249.65 L160.36,248.35 L160.61,248.14 L160.85,246.36 L161.09,246.64 L161.34,246.33 L161.58,245.89 L161.82,244.78 L162.07,244.48 L162.31,244.81 L162.56,243.79 L162.8,244.03 L163.04,243.32 L163.29,243.1 L163.53,242.66 L163.77,241.92 L164.02,241.59 L164.26,240.47 L164.5,239.91 L164.75,239.92 L164.99,239.87 L165.23,238.59 L165.48,239.42 L165.72,238.97 L165.96,237.4 L166.21,237.04 L166.45,236.53 L166.69,236.71 L166.94,236.83 L167.18,236.19 L167.42,235.41 L167.67,235.73 L167.91,235.45 L168.16,235.53 L168.4,235.23 L168.64,234.16 L168.89,234.19 L169.13,234.79 L169.37,234.67 L169.62,234.39 L169.86,233.88 L170.1,234.65 L170.35,234.23 L170.59,235.15 L170.83,234.81 L171.08,234.14 L171.32,234.01 L171.56,235.01 L171.81,234.95 L172.05,234.37 L172.29,235.03 L172.54,235.23 L172.78,234.91 L173.03,235.21 L173.27,234.97 L173.51,235.28 L173.76,236.06 L174,236.04 L174.24,236.2 L174.49,236.96 L174.73,236.98 L174.97,236.31 L175.22,237.64 L175.46,236.71 L175.7,237.26 L175.95,237.71 L176.19,237.7 L176.43,238.04 L176.68,238.06 L176.92,239.13 L177.16,239.43 L177.41,239.85 L177.65,239.33 L177.9,240.19 L178.14,241.48 L178.38,241.69 L178.63,242.36 L178.87,242.55 L179.11,242.99 L179.36,242.61 L179.6,244.99 L179.84,244.29 L180.09,245.13 L180.33,246.23 L180.57,246.58 L180.82,247.34 L181.06,247.72 L181.3,247.92 L181.55,249.66 L181.79,249.04 L182.03,250.43 L182.28,250.24 L182.52,251.37 L182.77,251.65 L183.01,252.59 L183.25,253.01 L183.5,254.11 L183.74,255.14 L183.98,255.12 L184.23,255.76 L184.47,255.85 L184.71,258.39 L184.96,258.36 L185.2,258.6 L185.44,260.45 L185.69,260.83 L185.93,260.66 L186.17,261.84 L186.42,263.74 L186.66,263.62 L186.91,264.62 L187.15,265.69 L187.39,266.76 L187.64,267.71 L187.88,269.08 L188.12,269.78 L188.37,270.08 L188.61,271.16 L188.85,271.21 L189.1,272.94 L189.34,274.59 L189.58,274.38 L189.83,274.78 L190.07,275.39 L190.31,276.17 L190.56,277.2 L190.8,276.81 L191.04,278.39 L191.29,278.41 L191.53,279.46 L191.78,280.48 L192.02,279.93 L192.26,282.25 L192.51,282.11 L192.75,282.13 L192.99,283.05 L193.24,283.13 L193.48,284.06 L193.72,284.77 L193.97,284.16 L194.21,285.74 L194.45,286.24 L194.7,287.17 L194.94,287.53 L195.18,287.41 L195.43,287.94 L195.67,288.67 L195.91,289.44 L196.16,289.29 L196.4,290.8 L196.65,290.64 L196.89,291.03 L197.13,291.71 L197.38,291.67 L197.62,292.43 L197.86,292.87 L198.11,292.1 L198.35,292.94 L198.59,293.1 L198.84,293.95 L199.08,293.9 L199.32,294.32 L199.57,294.46 L199.81,294.28 L200.05,295.74 L200.3,295.84 L200.54,296.28 L200.78,298.11 L201.03,297.48 L201.27,297.15 L201.51,297.17 L201.76,297.99 L202,297.52 L202.25,297.73 L202.49,298.76 L202.73,298.22 L202.98,298.35 L203.22,299.19 L203.46,300.09 L203.71,299.28 L203.95,300.26 L204.19,300.62 L204.44,300.67 L204.68,301.22 L204.92,300.77 L205.17,301.17 L205.41,301.24 L205.65,301.78 L205.9,302.66 L206.14,302.65 L206.38,302.46 L206.63,303.3 L206.87,302.1 L207.12,303.77 L207.36,304.19 L207.6,303.7 L207.85,304.14 L208.09,304.76 L208.33,305.11 L208.58,305.09 L208.82,305.18 L209.06,305.47 L209.31,306.2 L209.55,306.13 L209.79,306.21 L210.04,306.49 L210.28,308.43 L210.52,307.71 L210.77,307.9 L211.01,307.89 L211.25,307.94 L211.5,307.84 L211.74,308.19 L211.99,308.73 L212.23,308.87 L212.47,308.3 L212.72,309.54 L212.96,309.32 L213.2,308.94 L213.45,309.65 L213.69,310.86 L213.93,309.95 L214.18,310.44 L214.42,310.47 L214.66,310.1 L214.91,310.5 L215.15,310.96 L215.39,310.59 L215.64,310.93 L215.88,311.2 L216.12,311.25 L216.37,311.39 L216.61,311.78 L216.86,311.95 L217.1,311.86 L217.34,312.41 L217.59,312.66 L217.83,311.64 L218.07,312.43 L218.32,312.45 L218.56,312.6 L218.8,312.64 L219.05,312.74 L219.29,312.83 L219.53,313.31 L219.78,312.64 L220.02,313.46 L220.26,312.79 L220.51,314.19 L220.75,313.9 L221,313.09 L221.24,313.68 L221.48,314 L221.73,313.63 L221.97,314.34 L222.21,313.94 L222.46,315.03 L222.7,314.33 L222.94,314.5 L223.19,314.05 L223.43,313.98 L223.67,314.82 L223.92,313.81 L224.16,314.85 L224.4,315.57 L224.65,315.78 L224.89,314.13 L225.13,314.91 L225.38,315.22 L225.62,315.34 L225.87,315.56 L226.11,314.55 L226.35,315.25 L226.6,314.49 L226.84,315.43 L227.08,316.44 L227.33,315.1 L227.57,315.7 L227.81,315.71 L228.06,314.98 L228.3,315.86 L228.54,315.3 L228.79,315.88 L229.03,316.28 L229.27,315.8 L229.52,316.36 L229.76,315.62 L230,315.82 L230.25,316.29 L230.49,316.12 L230.73,316.22 L230.98,316.67 L231.22,316.24 L231.47,316.04 L231.71,317.59 L231.95,315.93 L232.2,316.8 L232.44,318.01 L232.68,317.38 L232.93,315.53 L233.17,315.51 L233.41,315.54 L233.66,318.13 L233.9,313.93 L234.14,317.42 L234.39,316.86 L234.63,319.23 L234.87,315.57 L235.12,315.93 L235.36,315.54 L235.6,314.81 L235.85,314.15 L236.09,313.54 L236.34,316.58 L236.58,314.82 L236.82,315.87 L237.07,317.74 L237.31,317.41 L237.55,317.23 L237.8,316.26 L238.04,317.35 L238.28,317.66 L238.53,319.17 L238.77,319.89 L239.01,318.99 L239.26,318.06 L239.5,318.48 L239.74,318.17 L239.99,317.77 L240.23,317.46 L240.47,317.82 L240.72,318.18 L240.96,317.51 L241.21,317.05 L241.45,313.15 L241.69,314.08 L241.94,309.88 L242.18,313.46 L242.42,313.76 L242.67,316.77 L242.91,316.18 L243.15,318.41 L243.4,319.34 L243.64,317.14 L243.88,319.05 L244.13,317.98 L244.37,318.49 L244.61,317.41 L244.86,318.28 L245.1,317.64 L245.34,318.28 L245.59,314.97 L245.83,310.42 L246.08,308.17 L246.32,311.3 L246.56,314.43 L246.81,315.34 L247.05,318.1 L247.29,318.84 L247.54,318.54 L247.78,320.23 L248.02,318.85 L248.27,319.08 L248.51,319.92 L248.75,319.92 L249,316.68 L249.24,313.63 L249.48,314.17 L249.73,313.23 L249.97,312.17 L250.22,317.38 L250.46,320.03 L250.7,319.22 L250.95,320.9 L251.19,319.46 L251.43,319.98 L251.68,318.95 L251.92,320.22 L252.16,320.54 L252.41,320.31 L252.65,318.79" fill="none" stroke="#52c3ef" stroke-width="1.5" stroke-linejoin="round" /><line x1="290" y1="19" x2="290" y2="194.5" stroke="#4a4a4a" stroke-width="0.9" /><line x1="286.6" y1="19" x2="290" y2="19" stroke="#4a4a4a" stroke-width="0.9" /><text x="0" y="0" transform="translate(284.2,23.1) scale(0.92,1)" font-size="10.0" text-anchor="end" font-weight="normal" fill="#1a1a1a" >500</text><line x1="286.6" y1="36.55" x2="290" y2="36.55" stroke="#4a4a4a" stroke-width="0.9" /><text x="0" y="0" transform="translate(284.2,40.65) scale(0.92,1)" font-size="10.0" text-anchor="end" font-weight="normal" fill="#1a1a1a" >400</text><line x1="286.6" y1="54.1" x2="290" y2="54.1" stroke="#4a4a4a" stroke-width="0.9" /><text x="0" y="0" transform="translate(284.2,58.2) scale(0.92,1)" font-size="10.0" text-anchor="end" font-weight="normal" fill="#1a1a1a" >300</text><line x1="286.6" y1="71.65" x2="290" y2="71.65" stroke="#4a4a4a" stroke-width="0.9" /><text x="0" y="0" transform="translate(284.2,75.75) scale(0.92,1)" font-size="10.0" text-anchor="end" font-weight="normal" fill="#1a1a1a" >200</text><line x1="286.6" y1="89.2" x2="290" y2="89.2" stroke="#4a4a4a" stroke-width="0.9" /><text x="0" y="0" transform="translate(284.2,93.3) scale(0.92,1)" font-size="10.0" text-anchor="end" font-weight="normal" fill="#1a1a1a" >100</text><line x1="286.6" y1="106.75" x2="290" y2="106.75" stroke="#4a4a4a" stroke-width="0.9" /><text x="0" y="0" transform="translate(280.6,110.85) scale(0.92,1)" font-size="10.0" text-anchor="end" font-weight="normal" fill="#1a1a1a" >0</text><line x1="286.6" y1="124.3" x2="290" y2="124.3" stroke="#4a4a4a" stroke-width="0.9" /><text x="0" y="0" transform="translate(284.2,128.4) scale(0.92,1)" font-size="10.0" text-anchor="end" font-weight="normal" fill="#1a1a1a" >-100</text><line x1="286.6" y1="141.85" x2="290" y2="141.85" stroke="#4a4a4a" stroke-width="0.9" /><text x="0" y="0" transform="translate(284.2,145.95) scale(0.92,1)" font-size="10.0" text-anchor="end" font-weight="normal" fill="#1a1a1a" >-200</text><line x1="286.6" y1="159.4" x2="290" y2="159.4" stroke="#4a4a4a" stroke-width="0.9" /><text x="0" y="0" transform="translate(284.2,163.5) scale(0.92,1)" font-size="10.0" text-anchor="end" font-weight="normal" fill="#1a1a1a" >-300</text><line x1="286.6" y1="176.95" x2="290" y2="176.95" stroke="#4a4a4a" stroke-width="0.9" /><text x="0" y="0" transform="translate(284.2,181.05) scale(0.92,1)" font-size="10.0" text-anchor="end" font-weight="normal" fill="#1a1a1a" >-400</text><line x1="286.6" y1="194.5" x2="290" y2="194.5" stroke="#4a4a4a" stroke-width="0.9" /><text x="0" y="0" transform="translate(284.2,198.6) scale(0.92,1)" font-size="10.0" text-anchor="end" font-weight="normal" fill="#1a1a1a" >-500</text><line x1="288.2" y1="27.78" x2="290" y2="27.78" stroke="#4a4a4a" stroke-width="0.9" /><line x1="288.2" y1="45.33" x2="290" y2="45.33" stroke="#4a4a4a" stroke-width="0.9" /><line x1="288.2" y1="62.88" x2="290" y2="62.88" stroke="#4a4a4a" stroke-width="0.9" /><line x1="288.2" y1="80.42" x2="290" y2="80.42" stroke="#4a4a4a" stroke-width="0.9" /><line x1="288.2" y1="97.97" x2="290" y2="97.97" stroke="#4a4a4a" stroke-width="0.9" /><line x1="288.2" y1="115.53" x2="290" y2="115.53" stroke="#4a4a4a" stroke-width="0.9" /><line x1="288.2" y1="133.07" x2="290" y2="133.07" stroke="#4a4a4a" stroke-width="0.9" /><line x1="288.2" y1="150.62" x2="290" y2="150.62" stroke="#4a4a4a" stroke-width="0.9" /><line x1="288.2" y1="168.18" x2="290" y2="168.18" stroke="#4a4a4a" stroke-width="0.9" /><line x1="288.2" y1="185.72" x2="290" y2="185.72" stroke="#4a4a4a" stroke-width="0.9" /><line x1="290" y1="194.5" x2="508.48" y2="194.5" stroke="#4a4a4a" stroke-width="0.9" /><line x1="290" y1="194.5" x2="290" y2="198" stroke="#4a4a4a" stroke-width="0.9" /><text x="0" y="0" transform="translate(290,208.9) scale(0.92,1)" font-size="10.0" text-anchor="middle" font-weight="normal" fill="#1a1a1a" >400</text><line x1="338.55" y1="194.5" x2="338.55" y2="198" stroke="#4a4a4a" stroke-width="0.9" /><text x="0" y="0" transform="translate(338.55,208.9) scale(0.92,1)" font-size="10.0" text-anchor="middle" font-weight="normal" fill="#1a1a1a" >500</text><line x1="387.1" y1="194.5" x2="387.1" y2="198" stroke="#4a4a4a" stroke-width="0.9" /><text x="0" y="0" transform="translate(387.1,208.9) scale(0.92,1)" font-size="10.0" text-anchor="middle" font-weight="normal" fill="#1a1a1a" >600</text><line x1="435.65" y1="194.5" x2="435.65" y2="198" stroke="#4a4a4a" stroke-width="0.9" /><text x="0" y="0" transform="translate(435.65,208.9) scale(0.92,1)" font-size="10.0" text-anchor="middle" font-weight="normal" fill="#1a1a1a" >700</text><line x1="484.2" y1="194.5" x2="484.2" y2="198" stroke="#4a4a4a" stroke-width="0.9" /><text x="0" y="0" transform="translate(484.2,208.9) scale(0.92,1)" font-size="10.0" text-anchor="middle" font-weight="normal" fill="#1a1a1a" >800</text><line x1="299.71" y1="194.5" x2="299.71" y2="196.3" stroke="#4a4a4a" stroke-width="0.9" /><line x1="309.42" y1="194.5" x2="309.42" y2="196.3" stroke="#4a4a4a" stroke-width="0.9" /><line x1="319.13" y1="194.5" x2="319.13" y2="196.3" stroke="#4a4a4a" stroke-width="0.9" /><line x1="328.84" y1="194.5" x2="328.84" y2="196.3" stroke="#4a4a4a" stroke-width="0.9" /><line x1="348.26" y1="194.5" x2="348.26" y2="196.3" stroke="#4a4a4a" stroke-width="0.9" /><line x1="357.97" y1="194.5" x2="357.97" y2="196.3" stroke="#4a4a4a" stroke-width="0.9" /><line x1="367.68" y1="194.5" x2="367.68" y2="196.3" stroke="#4a4a4a" stroke-width="0.9" /><line x1="377.39" y1="194.5" x2="377.39" y2="196.3" stroke="#4a4a4a" stroke-width="0.9" /><line x1="396.81" y1="194.5" x2="396.81" y2="196.3" stroke="#4a4a4a" stroke-width="0.9" /><line x1="406.52" y1="194.5" x2="406.52" y2="196.3" stroke="#4a4a4a" stroke-width="0.9" /><line x1="416.23" y1="194.5" x2="416.23" y2="196.3" stroke="#4a4a4a" stroke-width="0.9" /><line x1="425.94" y1="194.5" x2="425.94" y2="196.3" stroke="#4a4a4a" stroke-width="0.9" /><line x1="445.36" y1="194.5" x2="445.36" y2="196.3" stroke="#4a4a4a" stroke-width="0.9" /><line x1="455.07" y1="194.5" x2="455.07" y2="196.3" stroke="#4a4a4a" stroke-width="0.9" /><line x1="464.78" y1="194.5" x2="464.78" y2="196.3" stroke="#4a4a4a" stroke-width="0.9" /><line x1="474.49" y1="194.5" x2="474.49" y2="196.3" stroke="#4a4a4a" stroke-width="0.9" /><line x1="493.91" y1="194.5" x2="493.91" y2="196.3" stroke="#4a4a4a" stroke-width="0.9" /><line x1="503.62" y1="194.5" x2="503.62" y2="196.3" stroke="#4a4a4a" stroke-width="0.9" /><text x="402.5" y="217.8" font-size="10.9" text-anchor="middle" font-weight="normal" fill="#1a1a1a" >Wavelength [nm]</text><text x="0" y="0" font-size="10.7" text-anchor="middle" fill="#1a1a1a" transform="translate(263.8,109.2) rotate(-90)">CD [Arbitrary Units]</text><line x1="356.2" y1="17.8" x2="356.2" y2="321.2" stroke="#8fd6f4" stroke-width="1.0" stroke-dasharray="10.8,3.8" stroke-dashoffset="0"/><line x1="426.1" y1="18" x2="426.1" y2="321.2" stroke="#8a8a8a" stroke-width="1.5" stroke-dasharray="10.8,3.8" stroke-dashoffset="0"/><line x1="428.9" y1="18" x2="428.9" y2="321.2" stroke="#8fd6f4" stroke-width="1.0" stroke-dasharray="10.8,3.8" stroke-dashoffset="0"/><path d="M290,106.75 L290.24,106.75 L290.49,106.75 L290.73,106.75 L290.97,106.75 L291.21,106.75 L291.46,106.75 L291.7,106.75 L291.94,106.75 L292.18,106.75 L292.43,106.75 L292.67,106.75 L292.91,106.75 L293.16,106.75 L293.4,106.75 L293.64,106.75 L293.88,106.75 L294.13,106.75 L294.37,106.75 L294.61,106.75 L294.86,106.75 L295.1,106.75 L295.34,106.75 L295.58,106.75 L295.83,106.75 L296.07,106.75 L296.31,106.75 L296.55,106.75 L296.8,106.75 L297.04,106.75 L297.28,106.75 L297.53,106.75 L297.77,106.75 L298.01,106.75 L298.25,106.75 L298.5,106.75 L298.74,106.75 L298.98,106.75 L299.22,106.75 L299.47,106.75 L299.71,106.75 L299.95,106.75 L300.2,106.75 L300.44,106.75 L300.68,106.75 L300.92,106.75 L301.17,106.75 L301.41,106.75 L301.65,106.75 L301.89,106.75 L302.14,106.75 L302.38,106.75 L302.62,106.75 L302.87,106.75 L303.11,106.75 L303.35,106.75 L303.59,106.75 L303.84,106.75 L304.08,106.75 L304.32,106.75 L304.56,106.75 L304.81,106.75 L305.05,106.75 L305.29,106.75 L305.54,106.75 L305.78,106.75 L306.02,106.75 L306.26,106.75 L306.51,106.75 L306.75,106.75 L306.99,106.75 L307.24,106.75 L307.48,106.75 L307.72,106.75 L307.96,106.75 L308.21,106.75 L308.45,106.75 L308.69,106.75 L308.93,106.75 L309.18,106.75 L309.42,106.75 L309.66,106.75 L309.91,106.75 L310.15,106.75 L310.39,106.75 L310.63,106.75 L310.88,106.75 L311.12,106.75 L311.36,106.75 L311.6,106.75 L311.85,106.75 L312.09,106.75 L312.33,106.75 L312.58,106.75 L312.82,106.75 L313.06,106.75 L313.3,106.75 L313.55,106.75 L313.79,106.75 L314.03,106.75 L314.27,106.75 L314.52,106.75 L314.76,106.75 L315,106.75 L315.25,106.75 L315.49,106.75 L315.73,106.75 L315.97,106.75 L316.22,106.75 L316.46,106.75 L316.7,106.75 L316.95,106.75 L317.19,106.75 L317.43,106.75 L317.67,106.75 L317.92,106.75 L318.16,106.75 L318.4,106.75 L318.64,106.75 L318.89,106.75 L319.13,106.75 L319.37,106.75 L319.62,106.75 L319.86,106.75 L320.1,106.75 L320.34,106.75 L320.59,106.75 L320.83,106.75 L321.07,106.75 L321.31,106.75 L321.56,106.75 L321.8,106.75 L322.04,106.75 L322.29,106.75 L322.53,106.74 L322.77,106.74 L323.01,106.74 L323.26,106.74 L323.5,106.74 L323.74,106.74 L323.99,106.74 L324.23,106.74 L324.47,106.74 L324.71,106.74 L324.96,106.73 L325.2,106.73 L325.44,106.73 L325.68,106.73 L325.93,106.73 L326.17,106.73 L326.41,106.73 L326.66,106.73 L326.9,106.73 L327.14,106.72 L327.38,106.72 L327.63,106.72 L327.87,106.72 L328.11,106.72 L328.35,106.72 L328.6,106.72 L328.84,106.71 L329.08,106.71 L329.33,106.71 L329.57,106.71 L329.81,106.71 L330.05,106.71 L330.3,106.7 L330.54,106.7 L330.78,106.7 L331.02,106.7 L331.27,106.7 L331.51,106.69 L331.75,106.69 L332,106.69 L332.24,106.68 L332.48,106.68 L332.72,106.68 L332.97,106.68 L333.21,106.67 L333.45,106.67 L333.69,106.67 L333.94,106.66 L334.18,106.66 L334.42,106.66 L334.67,106.65 L334.91,106.65 L335.15,106.65 L335.39,106.65 L335.64,106.64 L335.88,106.64 L336.12,106.64 L336.37,106.63 L336.61,106.63 L336.85,106.63 L337.09,106.62 L337.34,106.62 L337.58,106.62 L337.82,106.62 L338.06,106.61 L338.31,106.61 L338.55,106.61 L338.79,106.61 L339.04,106.61 L339.28,106.6 L339.52,106.6 L339.76,106.6 L340.01,106.6 L340.25,106.59 L340.49,106.59 L340.73,106.59 L340.98,106.59 L341.22,106.58 L341.46,106.58 L341.71,106.58 L341.95,106.58 L342.19,106.57 L342.43,106.57 L342.68,106.57 L342.92,106.57 L343.16,106.56 L343.4,106.56 L343.65,106.56 L343.89,106.56 L344.13,106.55 L344.38,106.55 L344.62,106.55 L344.86,106.55 L345.1,106.54 L345.35,106.54 L345.59,106.54 L345.83,106.54 L346.08,106.54 L346.32,106.54 L346.56,106.53 L346.8,106.53 L347.05,106.53 L347.29,106.53 L347.53,106.53 L347.77,106.53 L348.02,106.53 L348.26,106.52 L348.5,106.52 L348.75,106.52 L348.99,106.52 L349.23,106.52 L349.47,106.52 L349.72,106.52 L349.96,106.52 L350.2,106.52 L350.44,106.52 L350.69,106.52 L350.93,106.53 L351.17,106.53 L351.42,106.53 L351.66,106.53 L351.9,106.53 L352.14,106.54 L352.39,106.54 L352.63,106.55 L352.87,106.55 L353.12,106.55 L353.36,106.56 L353.6,106.56 L353.84,106.57 L354.09,106.57 L354.33,106.58 L354.57,106.58 L354.81,106.59 L355.06,106.59 L355.3,106.6 L355.54,106.61 L355.79,106.61 L356.03,106.62 L356.27,106.62 L356.51,106.63 L356.76,106.64 L357,106.64 L357.24,106.65 L357.48,106.66 L357.73,106.66 L357.97,106.67 L358.21,106.68 L358.46,106.68 L358.7,106.69 L358.94,106.69 L359.18,106.7 L359.43,106.71 L359.67,106.71 L359.91,106.72 L360.15,106.72 L360.4,106.73 L360.64,106.73 L360.88,106.74 L361.13,106.75 L361.37,106.75 L361.61,106.75 L361.85,106.76 L362.1,106.76 L362.34,106.77 L362.58,106.77 L362.82,106.78 L363.07,106.78 L363.31,106.79 L363.55,106.79 L363.8,106.8 L364.04,106.8 L364.28,106.81 L364.52,106.81 L364.77,106.82 L365.01,106.82 L365.25,106.83 L365.5,106.83 L365.74,106.84 L365.98,106.84 L366.22,106.85 L366.47,106.85 L366.71,106.86 L366.95,106.86 L367.19,106.87 L367.44,106.87 L367.68,106.88 L367.92,106.88 L368.17,106.89 L368.41,106.89 L368.65,106.9 L368.89,106.9 L369.14,106.91 L369.38,106.91 L369.62,106.91 L369.86,106.92 L370.11,106.92 L370.35,106.93 L370.59,106.93 L370.84,106.94 L371.08,106.94 L371.32,106.95 L371.56,106.95 L371.81,106.96 L372.05,106.96 L372.29,106.97 L372.53,106.97 L372.78,106.98 L373.02,106.98 L373.26,106.99 L373.51,106.99 L373.75,107 L373.99,107 L374.23,107.01 L374.48,107.01 L374.72,107.01 L374.96,107.02 L375.21,107.02 L375.45,107.03 L375.69,107.03 L375.93,107.04 L376.18,107.04 L376.42,107.05 L376.66,107.05 L376.9,107.06 L377.15,107.06 L377.39,107.07 L377.63,107.07 L377.88,107.07 L378.12,107.08 L378.36,107.08 L378.6,107.09 L378.85,107.09 L379.09,107.09 L379.33,107.1 L379.57,107.1 L379.82,107.1 L380.06,107.1 L380.3,107.11 L380.55,107.11 L380.79,107.11 L381.03,107.11 L381.27,107.12 L381.52,107.12 L381.76,107.12 L382,107.13 L382.25,107.13 L382.49,107.13 L382.73,107.13 L382.97,107.14 L383.22,107.14 L383.46,107.15 L383.7,107.15 L383.94,107.15 L384.19,107.16 L384.43,107.16 L384.67,107.17 L384.92,107.17 L385.16,107.18 L385.4,107.19 L385.64,107.19 L385.89,107.2 L386.13,107.21 L386.37,107.21 L386.61,107.22 L386.86,107.23 L387.1,107.24 L387.34,107.26 L387.59,107.3 L387.83,107.35 L388.07,107.41 L388.31,107.48 L388.56,107.56 L388.8,107.64 L389.04,107.72 L389.28,107.81 L389.53,107.89 L389.77,107.96 L390.01,108.02 L390.26,108.08 L390.5,108.12 L390.74,108.17 L390.98,108.21 L391.23,108.25 L391.47,108.29 L391.71,108.33 L391.95,108.37 L392.2,108.41 L392.44,108.44 L392.68,108.48 L392.93,108.51 L393.17,108.54 L393.41,108.57 L393.65,108.6 L393.9,108.63 L394.14,108.66 L394.38,108.69 L394.63,108.72 L394.87,108.75 L395.11,108.78 L395.35,108.81 L395.6,108.83 L395.84,108.86 L396.08,108.89 L396.32,108.92 L396.57,108.95 L396.81,108.99 L397.05,109.02 L397.3,109.05 L397.54,109.08 L397.78,109.12 L398.02,109.16 L398.27,109.19 L398.51,109.23 L398.75,109.27 L398.99,109.32 L399.24,109.36 L399.48,109.41 L399.72,109.46 L399.97,109.51 L400.21,109.56 L400.45,109.61 L400.69,109.67 L400.94,109.73 L401.18,109.8 L401.42,109.87 L401.66,109.94 L401.91,110.02 L402.15,110.1 L402.39,110.18 L402.64,110.26 L402.88,110.35 L403.12,110.44 L403.36,110.53 L403.61,110.62 L403.85,110.72 L404.09,110.82 L404.34,110.92 L404.58,111.02 L404.82,111.13 L405.06,111.23 L405.31,111.34 L405.55,111.45 L405.79,111.56 L406.03,111.67 L406.28,111.79 L406.52,111.9 L406.76,112.02 L407.01,112.13 L407.25,112.25 L407.49,112.37 L407.73,112.49 L407.98,112.61 L408.22,112.74 L408.46,112.87 L408.7,113 L408.95,113.14 L409.19,113.28 L409.43,113.43 L409.68,113.58 L409.92,113.73 L410.16,113.88 L410.4,114.04 L410.65,114.19 L410.89,114.35 L411.13,114.52 L411.38,114.68 L411.62,114.85 L411.86,115.02 L412.1,115.19 L412.35,115.36 L412.59,115.54 L412.83,115.71 L413.07,115.89 L413.32,116.06 L413.56,116.24 L413.8,116.42 L414.05,116.6 L414.29,116.78 L414.53,116.96 L414.77,117.14 L415.02,117.32 L415.26,117.51 L415.5,117.69 L415.74,117.87 L415.99,118.05 L416.23,118.23 L416.47,118.43 L416.72,118.66 L416.96,118.89 L417.2,119.14 L417.44,119.4 L417.69,119.67 L417.93,119.93 L418.17,120.19 L418.41,120.44 L418.66,120.68 L418.9,120.9 L419.14,121.1 L419.39,121.28 L419.63,121.43 L419.87,121.54 L420.11,121.62 L420.36,121.66 L420.6,121.65 L420.84,121.58 L421.09,121.43 L421.33,121.23 L421.57,120.98 L421.81,120.68 L422.06,120.34 L422.3,119.96 L422.54,119.56 L422.78,119.14 L423.03,118.7 L423.27,118.25 L423.51,117.74 L423.76,117.07 L424,116.26 L424.24,115.33 L424.48,114.32 L424.73,113.25 L424.97,112.13 L425.21,111.01 L425.45,109.9 L425.7,108.83 L425.94,107.83 L426.18,106.92 L426.43,106.09 L426.67,105.3 L426.91,104.53 L427.15,103.79 L427.4,103.06 L427.64,102.34 L427.88,101.63 L428.12,100.92 L428.37,100.2 L428.61,99.48 L428.85,98.74 L429.1,97.97 L429.34,97.09 L429.58,96.07 L429.82,95.01 L430.07,94.04 L430.31,93.26 L430.55,92.79 L430.79,92.71 L431.04,92.77 L431.28,92.87 L431.52,93.01 L431.77,93.18 L432.01,93.38 L432.25,93.59 L432.49,93.82 L432.74,94.04 L432.98,94.26 L433.22,94.47 L433.47,94.66 L433.71,94.88 L433.95,95.1 L434.19,95.34 L434.44,95.58 L434.68,95.84 L434.92,96.1 L435.16,96.37 L435.41,96.65 L435.65,96.93 L435.89,97.21 L436.14,97.5 L436.38,97.79 L436.62,98.08 L436.86,98.37 L437.11,98.65 L437.35,98.94 L437.59,99.22 L437.83,99.49 L438.08,99.76 L438.32,100.03 L438.56,100.28 L438.81,100.53 L439.05,100.77 L439.29,101 L439.53,101.21 L439.78,101.41 L440.02,101.6 L440.26,101.77 L440.5,101.93 L440.75,102.07 L440.99,102.19 L441.23,102.3 L441.48,102.41 L441.72,102.51 L441.96,102.62 L442.2,102.72 L442.45,102.82 L442.69,102.92 L442.93,103.02 L443.18,103.11 L443.42,103.21 L443.66,103.3 L443.9,103.39 L444.15,103.48 L444.39,103.56 L444.63,103.65 L444.87,103.73 L445.12,103.81 L445.36,103.89 L445.6,103.97 L445.85,104.04 L446.09,104.12 L446.33,104.19 L446.57,104.26 L446.82,104.33 L447.06,104.39 L447.3,104.46 L447.54,104.52 L447.79,104.58 L448.03,104.64 L448.27,104.7 L448.52,104.75 L448.76,104.8 L449,104.86 L449.24,104.91 L449.49,104.95 L449.73,105 L449.97,105.04 L450.22,105.09 L450.46,105.13 L450.7,105.16 L450.94,105.2 L451.19,105.24 L451.43,105.27 L451.67,105.3 L451.91,105.33 L452.16,105.36 L452.4,105.38 L452.64,105.41 L452.89,105.44 L453.13,105.46 L453.37,105.49 L453.61,105.51 L453.86,105.54 L454.1,105.56 L454.34,105.58 L454.58,105.61 L454.83,105.63 L455.07,105.65 L455.31,105.67 L455.56,105.69 L455.8,105.72 L456.04,105.74 L456.28,105.76 L456.53,105.78 L456.77,105.8 L457.01,105.81 L457.25,105.83 L457.5,105.85 L457.74,105.87 L457.98,105.89 L458.23,105.9 L458.47,105.92 L458.71,105.94 L458.95,105.95 L459.2,105.97 L459.44,105.98 L459.68,106 L459.92,106.01 L460.17,106.03 L460.41,106.04 L460.65,106.05 L460.9,106.06 L461.14,106.08 L461.38,106.09 L461.62,106.1 L461.87,106.11 L462.11,106.12 L462.35,106.13 L462.6,106.15 L462.84,106.16 L463.08,106.16 L463.32,106.17 L463.57,106.18 L463.81,106.19 L464.05,106.2 L464.29,106.21 L464.54,106.22 L464.78,106.22 L465.02,106.23 L465.27,106.24 L465.51,106.24 L465.75,106.25 L465.99,106.26 L466.24,106.27 L466.48,106.27 L466.72,106.28 L466.96,106.28 L467.21,106.29 L467.45,106.3 L467.69,106.3 L467.94,106.31 L468.18,106.32 L468.42,106.32 L468.66,106.33 L468.91,106.33 L469.15,106.34 L469.39,106.34 L469.63,106.35 L469.88,106.36 L470.12,106.36 L470.36,106.37 L470.61,106.37 L470.85,106.38 L471.09,106.38 L471.33,106.39 L471.58,106.39 L471.82,106.4 L472.06,106.4 L472.31,106.41 L472.55,106.41 L472.79,106.42 L473.03,106.42 L473.28,106.42 L473.52,106.43 L473.76,106.43 L474,106.44 L474.25,106.44 L474.49,106.45 L474.73,106.45 L474.98,106.45 L475.22,106.46 L475.46,106.46 L475.7,106.47 L475.95,106.47 L476.19,106.47 L476.43,106.48 L476.67,106.48 L476.92,106.48 L477.16,106.49 L477.4,106.49 L477.65,106.5 L477.89,106.5 L478.13,106.5 L478.37,106.51 L478.62,106.51 L478.86,106.51 L479.1,106.52 L479.35,106.52 L479.59,106.52 L479.83,106.52 L480.07,106.53 L480.32,106.53 L480.56,106.53 L480.8,106.54 L481.04,106.54 L481.29,106.54 L481.53,106.55 L481.77,106.55 L482.02,106.55 L482.26,106.55 L482.5,106.56 L482.74,106.56 L482.99,106.56 L483.23,106.56 L483.47,106.57 L483.71,106.57 L483.96,106.57 L484.2,106.57 L484.44,106.58 L484.69,106.58 L484.93,106.58 L485.17,106.58 L485.41,106.59 L485.66,106.59 L485.9,106.59 L486.14,106.59 L486.38,106.6 L486.63,106.6 L486.87,106.6 L487.11,106.6 L487.36,106.61 L487.6,106.61 L487.84,106.61 L488.08,106.61 L488.33,106.62 L488.57,106.62 L488.81,106.62 L489.06,106.62 L489.3,106.63 L489.54,106.63 L489.78,106.63 L490.03,106.63 L490.27,106.64 L490.51,106.64 L490.75,106.64 L491,106.64 L491.24,106.65 L491.48,106.65 L491.73,106.65 L491.97,106.65 L492.21,106.65 L492.45,106.66 L492.7,106.66 L492.94,106.66 L493.18,106.66 L493.42,106.67 L493.67,106.67 L493.91,106.67 L494.15,106.67 L494.4,106.67 L494.64,106.68 L494.88,106.68 L495.12,106.68 L495.37,106.68 L495.61,106.68 L495.85,106.69 L496.09,106.69 L496.34,106.69 L496.58,106.69 L496.82,106.69 L497.07,106.7 L497.31,106.7 L497.55,106.7 L497.79,106.7 L498.04,106.7 L498.28,106.71 L498.52,106.71 L498.76,106.71 L499.01,106.71 L499.25,106.71 L499.49,106.71 L499.74,106.71 L499.98,106.72 L500.22,106.72 L500.46,106.72 L500.71,106.72 L500.95,106.72 L501.19,106.72 L501.44,106.73 L501.68,106.73 L501.92,106.73 L502.16,106.73 L502.41,106.73 L502.65,106.73 L502.89,106.73 L503.13,106.73 L503.38,106.74 L503.62,106.74 L503.86,106.74 L504.11,106.74 L504.35,106.74 L504.59,106.74 L504.83,106.74 L505.08,106.74 L505.32,106.74 L505.56,106.74 L505.8,106.74 L506.05,106.75 L506.29,106.75 L506.53,106.75 L506.78,106.75 L507.02,106.75 L507.26,106.75 L507.5,106.75 L507.75,106.75 L507.99,106.75 L508.23,106.75 L508.48,106.75" fill="none" stroke="#2c2c2c" stroke-width="1.3" stroke-linejoin="round" /><path d="M290,106.75 L290.24,106.75 L290.49,106.75 L290.73,106.75 L290.97,106.75 L291.21,106.75 L291.46,106.75 L291.7,106.75 L291.94,106.75 L292.18,106.75 L292.43,106.75 L292.67,106.75 L292.91,106.75 L293.16,106.75 L293.4,106.75 L293.64,106.75 L293.88,106.75 L294.13,106.75 L294.37,106.75 L294.61,106.75 L294.86,106.75 L295.1,106.75 L295.34,106.75 L295.58,106.75 L295.83,106.75 L296.07,106.75 L296.31,106.75 L296.55,106.75 L296.8,106.75 L297.04,106.75 L297.28,106.75 L297.53,106.75 L297.77,106.75 L298.01,106.75 L298.25,106.75 L298.5,106.75 L298.74,106.75 L298.98,106.75 L299.22,106.75 L299.47,106.75 L299.71,106.75 L299.95,106.75 L300.2,106.75 L300.44,106.75 L300.68,106.75 L300.92,106.75 L301.17,106.75 L301.41,106.75 L301.65,106.75 L301.89,106.75 L302.14,106.75 L302.38,106.75 L302.62,106.75 L302.87,106.75 L303.11,106.75 L303.35,106.75 L303.59,106.75 L303.84,106.75 L304.08,106.75 L304.32,106.75 L304.56,106.75 L304.81,106.75 L305.05,106.75 L305.29,106.75 L305.54,106.75 L305.78,106.75 L306.02,106.75 L306.26,106.75 L306.51,106.75 L306.75,106.75 L306.99,106.75 L307.24,106.75 L307.48,106.75 L307.72,106.75 L307.96,106.75 L308.21,106.75 L308.45,106.75 L308.69,106.75 L308.93,106.75 L309.18,106.75 L309.42,106.75 L309.66,106.75 L309.91,106.75 L310.15,106.75 L310.39,106.75 L310.63,106.75 L310.88,106.75 L311.12,106.75 L311.36,106.75 L311.6,106.75 L311.85,106.75 L312.09,106.75 L312.33,106.75 L312.58,106.75 L312.82,106.75 L313.06,106.75 L313.3,106.75 L313.55,106.75 L313.79,106.75 L314.03,106.75 L314.27,106.75 L314.52,106.75 L314.76,106.75 L315,106.75 L315.25,106.75 L315.49,106.75 L315.73,106.75 L315.97,106.75 L316.22,106.75 L316.46,106.75 L316.7,106.75 L316.95,106.75 L317.19,106.75 L317.43,106.75 L317.67,106.75 L317.92,106.75 L318.16,106.75 L318.4,106.75 L318.64,106.75 L318.89,106.75 L319.13,106.75 L319.37,106.75 L319.62,106.75 L319.86,106.75 L320.1,106.75 L320.34,106.75 L320.59,106.75 L320.83,106.75 L321.07,106.75 L321.31,106.75 L321.56,106.75 L321.8,106.74 L322.04,106.74 L322.29,106.74 L322.53,106.74 L322.77,106.74 L323.01,106.74 L323.26,106.74 L323.5,106.74 L323.74,106.74 L323.99,106.73 L324.23,106.73 L324.47,106.73 L324.71,106.73 L324.96,106.73 L325.2,106.73 L325.44,106.72 L325.68,106.72 L325.93,106.72 L326.17,106.72 L326.41,106.72 L326.66,106.71 L326.9,106.71 L327.14,106.71 L327.38,106.71 L327.63,106.71 L327.87,106.71 L328.11,106.7 L328.35,106.7 L328.6,106.7 L328.84,106.7 L329.08,106.7 L329.33,106.69 L329.57,106.69 L329.81,106.69 L330.05,106.69 L330.3,106.68 L330.54,106.68 L330.78,106.68 L331.02,106.67 L331.27,106.67 L331.51,106.67 L331.75,106.66 L332,106.66 L332.24,106.66 L332.48,106.65 L332.72,106.65 L332.97,106.65 L333.21,106.64 L333.45,106.64 L333.69,106.63 L333.94,106.63 L334.18,106.62 L334.42,106.62 L334.67,106.61 L334.91,106.61 L335.15,106.6 L335.39,106.6 L335.64,106.59 L335.88,106.59 L336.12,106.58 L336.37,106.57 L336.61,106.56 L336.85,106.56 L337.09,106.55 L337.34,106.54 L337.58,106.53 L337.82,106.52 L338.06,106.51 L338.31,106.49 L338.55,106.48 L338.79,106.47 L339.04,106.46 L339.28,106.45 L339.52,106.43 L339.76,106.42 L340.01,106.41 L340.25,106.39 L340.49,106.38 L340.73,106.36 L340.98,106.35 L341.22,106.33 L341.46,106.32 L341.71,106.31 L341.95,106.29 L342.19,106.28 L342.43,106.26 L342.68,106.24 L342.92,106.23 L343.16,106.21 L343.4,106.19 L343.65,106.17 L343.89,106.15 L344.13,106.13 L344.38,106.1 L344.62,106.08 L344.86,106.06 L345.1,106.04 L345.35,106.01 L345.59,105.99 L345.83,105.97 L346.08,105.95 L346.32,105.93 L346.56,105.9 L346.8,105.88 L347.05,105.87 L347.29,105.85 L347.53,105.83 L347.77,105.81 L348.02,105.8 L348.26,105.78 L348.5,105.77 L348.75,105.76 L348.99,105.74 L349.23,105.73 L349.47,105.72 L349.72,105.7 L349.96,105.69 L350.2,105.68 L350.44,105.67 L350.69,105.65 L350.93,105.64 L351.17,105.63 L351.42,105.62 L351.66,105.62 L351.9,105.61 L352.14,105.6 L352.39,105.6 L352.63,105.59 L352.87,105.59 L353.12,105.59 L353.36,105.6 L353.6,105.6 L353.84,105.62 L354.09,105.63 L354.33,105.65 L354.57,105.67 L354.81,105.7 L355.06,105.72 L355.3,105.75 L355.54,105.78 L355.79,105.82 L356.03,105.85 L356.27,105.89 L356.51,105.92 L356.76,105.96 L357,106 L357.24,106.03 L357.48,106.07 L357.73,106.11 L357.97,106.14 L358.21,106.18 L358.46,106.21 L358.7,106.25 L358.94,106.3 L359.18,106.34 L359.43,106.39 L359.67,106.43 L359.91,106.48 L360.15,106.53 L360.4,106.57 L360.64,106.62 L360.88,106.67 L361.13,106.71 L361.37,106.75 L361.61,106.79 L361.85,106.83 L362.1,106.87 L362.34,106.91 L362.58,106.95 L362.82,107 L363.07,107.04 L363.31,107.08 L363.55,107.12 L363.8,107.16 L364.04,107.2 L364.28,107.23 L364.52,107.27 L364.77,107.31 L365.01,107.34 L365.25,107.38 L365.5,107.41 L365.74,107.44 L365.98,107.47 L366.22,107.49 L366.47,107.52 L366.71,107.54 L366.95,107.56 L367.19,107.58 L367.44,107.61 L367.68,107.63 L367.92,107.65 L368.17,107.67 L368.41,107.68 L368.65,107.7 L368.89,107.72 L369.14,107.74 L369.38,107.76 L369.62,107.77 L369.86,107.79 L370.11,107.8 L370.35,107.82 L370.59,107.83 L370.84,107.85 L371.08,107.86 L371.32,107.88 L371.56,107.89 L371.81,107.91 L372.05,107.92 L372.29,107.93 L372.53,107.95 L372.78,107.96 L373.02,107.97 L373.26,107.98 L373.51,108 L373.75,108.01 L373.99,108.02 L374.23,108.03 L374.48,108.04 L374.72,108.05 L374.96,108.06 L375.21,108.07 L375.45,108.08 L375.69,108.08 L375.93,108.09 L376.18,108.1 L376.42,108.11 L376.66,108.12 L376.9,108.13 L377.15,108.14 L377.39,108.15 L377.63,108.16 L377.88,108.17 L378.12,108.18 L378.36,108.19 L378.6,108.21 L378.85,108.22 L379.09,108.23 L379.33,108.25 L379.57,108.26 L379.82,108.28 L380.06,108.29 L380.3,108.31 L380.55,108.33 L380.79,108.34 L381.03,108.36 L381.27,108.38 L381.52,108.4 L381.76,108.42 L382,108.44 L382.25,108.46 L382.49,108.48 L382.73,108.5 L382.97,108.53 L383.22,108.55 L383.46,108.57 L383.7,108.6 L383.94,108.62 L384.19,108.64 L384.43,108.67 L384.67,108.7 L384.92,108.72 L385.16,108.75 L385.4,108.78 L385.64,108.81 L385.89,108.83 L386.13,108.86 L386.37,108.89 L386.61,108.92 L386.86,108.96 L387.1,108.99 L387.34,109.02 L387.59,109.05 L387.83,109.09 L388.07,109.13 L388.31,109.17 L388.56,109.21 L388.8,109.26 L389.04,109.3 L389.28,109.35 L389.53,109.4 L389.77,109.46 L390.01,109.51 L390.26,109.57 L390.5,109.63 L390.74,109.7 L390.98,109.76 L391.23,109.83 L391.47,109.9 L391.71,109.98 L391.95,110.06 L392.2,110.14 L392.44,110.22 L392.68,110.3 L392.93,110.39 L393.17,110.48 L393.41,110.58 L393.65,110.67 L393.9,110.77 L394.14,110.87 L394.38,110.98 L394.63,111.08 L394.87,111.19 L395.11,111.3 L395.35,111.42 L395.6,111.53 L395.84,111.65 L396.08,111.78 L396.32,111.9 L396.57,112.03 L396.81,112.16 L397.05,112.29 L397.3,112.42 L397.54,112.56 L397.78,112.7 L398.02,112.84 L398.27,112.99 L398.51,113.14 L398.75,113.29 L398.99,113.44 L399.24,113.59 L399.48,113.75 L399.72,113.91 L399.97,114.07 L400.21,114.24 L400.45,114.4 L400.69,114.57 L400.94,114.75 L401.18,114.92 L401.42,115.1 L401.66,115.28 L401.91,115.46 L402.15,115.65 L402.39,115.85 L402.64,116.06 L402.88,116.28 L403.12,116.5 L403.36,116.74 L403.61,116.98 L403.85,117.23 L404.09,117.49 L404.34,117.76 L404.58,118.03 L404.82,118.32 L405.06,118.61 L405.31,118.91 L405.55,119.22 L405.79,119.54 L406.03,119.86 L406.28,120.19 L406.52,120.53 L406.76,120.88 L407.01,121.24 L407.25,121.6 L407.49,121.98 L407.73,122.35 L407.98,122.74 L408.22,123.14 L408.46,123.54 L408.7,123.95 L408.95,124.37 L409.19,124.79 L409.43,125.22 L409.68,125.66 L409.92,126.11 L410.16,126.56 L410.4,127.03 L410.65,127.51 L410.89,128.02 L411.13,128.55 L411.38,129.11 L411.62,129.69 L411.86,130.29 L412.1,130.92 L412.35,131.58 L412.59,132.25 L412.83,132.95 L413.07,133.66 L413.32,134.4 L413.56,135.16 L413.8,135.94 L414.05,136.73 L414.29,137.55 L414.53,138.38 L414.77,139.24 L415.02,140.1 L415.26,140.99 L415.5,141.89 L415.74,142.81 L415.99,143.74 L416.23,144.69 L416.47,145.69 L416.72,146.76 L416.96,147.87 L417.2,149.04 L417.44,150.25 L417.69,151.5 L417.93,152.79 L418.17,154.12 L418.41,155.47 L418.66,156.85 L418.9,158.25 L419.14,159.67 L419.39,161.11 L419.63,162.55 L419.87,164 L420.11,165.45 L420.36,166.9 L420.6,168.39 L420.84,170.14 L421.09,172.08 L421.33,174.16 L421.57,176.28 L421.81,178.38 L422.06,180.37 L422.3,182.2 L422.54,183.77 L422.78,185.02 L423.03,185.87 L423.27,186.24 L423.51,186.14 L423.76,185.72 L424,185 L424.24,184.02 L424.48,182.79 L424.73,181.36 L424.97,179.74 L425.21,177.97 L425.45,176.07 L425.7,173.26 L425.94,168.96 L426.18,163.57 L426.43,157.45 L426.67,150.98 L426.91,144.54 L427.15,138.52 L427.4,132.8 L427.64,127.01 L427.88,121.04 L428.12,114.8 L428.37,108.19 L428.61,100.79 L428.85,93.04 L429.1,85.69 L429.34,78.63 L429.58,71.52 L429.82,64.77 L430.07,58.82 L430.31,54.1 L430.55,50.14 L430.79,46.22 L431.04,42.41 L431.28,38.77 L431.52,35.34 L431.77,32.18 L432.01,29.35 L432.25,26.91 L432.49,24.92 L432.74,23.42 L432.98,22.48 L433.22,22.16 L433.47,22.28 L433.71,22.62 L433.95,23.15 L434.19,23.83 L434.44,24.64 L434.68,25.55 L434.92,26.52 L435.16,27.53 L435.41,28.54 L435.65,29.53 L435.89,30.55 L436.14,31.69 L436.38,32.93 L436.62,34.27 L436.86,35.69 L437.11,37.19 L437.35,38.75 L437.59,40.37 L437.83,42.04 L438.08,43.74 L438.32,45.46 L438.56,47.2 L438.81,48.95 L439.05,50.69 L439.29,52.41 L439.53,54.12 L439.78,55.79 L440.02,57.41 L440.26,58.98 L440.5,60.5 L440.75,62.06 L440.99,63.68 L441.23,65.34 L441.48,67.02 L441.72,68.72 L441.96,70.41 L442.2,72.08 L442.45,73.72 L442.69,75.31 L442.93,76.83 L443.18,78.27 L443.42,79.62 L443.66,80.86 L443.9,81.97 L444.15,82.94 L444.39,83.76 L444.63,84.48 L444.87,85.18 L445.12,85.86 L445.36,86.51 L445.6,87.14 L445.85,87.75 L446.09,88.34 L446.33,88.91 L446.57,89.45 L446.82,89.98 L447.06,90.49 L447.3,90.97 L447.54,91.44 L447.79,91.88 L448.03,92.31 L448.27,92.72 L448.52,93.11 L448.76,93.49 L449,93.84 L449.24,94.18 L449.49,94.5 L449.73,94.81 L449.97,95.1 L450.22,95.37 L450.46,95.63 L450.7,95.87 L450.94,96.1 L451.19,96.33 L451.43,96.55 L451.67,96.76 L451.91,96.97 L452.16,97.18 L452.4,97.38 L452.64,97.57 L452.89,97.76 L453.13,97.95 L453.37,98.13 L453.61,98.3 L453.86,98.47 L454.1,98.64 L454.34,98.8 L454.58,98.96 L454.83,99.12 L455.07,99.27 L455.31,99.41 L455.56,99.56 L455.8,99.7 L456.04,99.83 L456.28,99.96 L456.53,100.09 L456.77,100.22 L457.01,100.34 L457.25,100.46 L457.5,100.58 L457.74,100.69 L457.98,100.8 L458.23,100.91 L458.47,101.02 L458.71,101.12 L458.95,101.22 L459.2,101.32 L459.44,101.42 L459.68,101.51 L459.92,101.61 L460.17,101.7 L460.41,101.79 L460.65,101.88 L460.9,101.97 L461.14,102.05 L461.38,102.14 L461.62,102.23 L461.87,102.31 L462.11,102.4 L462.35,102.48 L462.6,102.56 L462.84,102.64 L463.08,102.72 L463.32,102.8 L463.57,102.88 L463.81,102.95 L464.05,103.03 L464.29,103.11 L464.54,103.18 L464.78,103.25 L465.02,103.32 L465.27,103.39 L465.51,103.46 L465.75,103.53 L465.99,103.6 L466.24,103.66 L466.48,103.73 L466.72,103.79 L466.96,103.86 L467.21,103.92 L467.45,103.98 L467.69,104.04 L467.94,104.1 L468.18,104.15 L468.42,104.21 L468.66,104.26 L468.91,104.32 L469.15,104.37 L469.39,104.42 L469.63,104.47 L469.88,104.52 L470.12,104.57 L470.36,104.61 L470.61,104.66 L470.85,104.7 L471.09,104.74 L471.33,104.78 L471.58,104.82 L471.82,104.86 L472.06,104.9 L472.31,104.93 L472.55,104.97 L472.79,105 L473.03,105.03 L473.28,105.07 L473.52,105.1 L473.76,105.13 L474,105.16 L474.25,105.19 L474.49,105.22 L474.73,105.25 L474.98,105.28 L475.22,105.31 L475.46,105.34 L475.7,105.37 L475.95,105.39 L476.19,105.42 L476.43,105.45 L476.67,105.47 L476.92,105.5 L477.16,105.52 L477.4,105.55 L477.65,105.57 L477.89,105.6 L478.13,105.62 L478.37,105.64 L478.62,105.67 L478.86,105.69 L479.1,105.71 L479.35,105.73 L479.59,105.75 L479.83,105.77 L480.07,105.79 L480.32,105.81 L480.56,105.83 L480.8,105.85 L481.04,105.87 L481.29,105.88 L481.53,105.9 L481.77,105.92 L482.02,105.93 L482.26,105.95 L482.5,105.96 L482.74,105.98 L482.99,105.99 L483.23,106 L483.47,106.01 L483.71,106.03 L483.96,106.04 L484.2,106.05 L484.44,106.06 L484.69,106.07 L484.93,106.08 L485.17,106.09 L485.41,106.1 L485.66,106.11 L485.9,106.12 L486.14,106.13 L486.38,106.14 L486.63,106.15 L486.87,106.16 L487.11,106.17 L487.36,106.18 L487.6,106.19 L487.84,106.2 L488.08,106.21 L488.33,106.22 L488.57,106.23 L488.81,106.23 L489.06,106.24 L489.3,106.25 L489.54,106.26 L489.78,106.27 L490.03,106.28 L490.27,106.29 L490.51,106.3 L490.75,106.31 L491,106.32 L491.24,106.32 L491.48,106.33 L491.73,106.34 L491.97,106.35 L492.21,106.36 L492.45,106.37 L492.7,106.37 L492.94,106.38 L493.18,106.39 L493.42,106.4 L493.67,106.41 L493.91,106.41 L494.15,106.42 L494.4,106.43 L494.64,106.44 L494.88,106.44 L495.12,106.45 L495.37,106.46 L495.61,106.46 L495.85,106.47 L496.09,106.48 L496.34,106.48 L496.58,106.49 L496.82,106.5 L497.07,106.5 L497.31,106.51 L497.55,106.52 L497.79,106.52 L498.04,106.53 L498.28,106.53 L498.52,106.54 L498.76,106.55 L499.01,106.55 L499.25,106.56 L499.49,106.56 L499.74,106.57 L499.98,106.57 L500.22,106.58 L500.46,106.58 L500.71,106.59 L500.95,106.59 L501.19,106.59 L501.44,106.6 L501.68,106.6 L501.92,106.61 L502.16,106.61 L502.41,106.61 L502.65,106.62 L502.89,106.62 L503.13,106.63 L503.38,106.63 L503.62,106.63 L503.86,106.63 L504.11,106.64 L504.35,106.64 L504.59,106.64 L504.83,106.64 L505.08,106.65 L505.32,106.65 L505.56,106.65 L505.8,106.65 L506.05,106.65 L506.29,106.66 L506.53,106.66 L506.78,106.66 L507.02,106.66 L507.26,106.66 L507.5,106.66 L507.75,106.66 L507.99,106.66 L508.23,106.66 L508.48,106.66" fill="none" stroke="#52c3ef" stroke-width="1.4" stroke-linejoin="round" /><rect x="318.6" y="103.4" width="68.2" height="7.0" fill="none" stroke="#777" stroke-width="0.9"/><line x1="307.4" y1="93.2" x2="318.6" y2="103.4" stroke="#777" stroke-width="0.9" /><line x1="399.5" y1="93.2" x2="386.8" y2="103.4" stroke="#777" stroke-width="0.9" /><rect x="307.4" y="19.2" width="92.1" height="74" fill="#fff" stroke="#666" stroke-width="0.9"/><line x1="313.98" y1="19.2" x2="313.98" y2="21" stroke="#666" stroke-width="0.7" /><line x1="313.98" y1="93.2" x2="313.98" y2="91.4" stroke="#666" stroke-width="0.7" /><line x1="320.56" y1="19.2" x2="320.56" y2="21" stroke="#666" stroke-width="0.7" /><line x1="320.56" y1="93.2" x2="320.56" y2="91.4" stroke="#666" stroke-width="0.7" /><line x1="327.14" y1="19.2" x2="327.14" y2="21" stroke="#666" stroke-width="0.7" /><line x1="327.14" y1="93.2" x2="327.14" y2="91.4" stroke="#666" stroke-width="0.7" /><line x1="333.72" y1="19.2" x2="333.72" y2="21" stroke="#666" stroke-width="0.7" /><line x1="333.72" y1="93.2" x2="333.72" y2="91.4" stroke="#666" stroke-width="0.7" /><line x1="340.3" y1="19.2" x2="340.3" y2="21" stroke="#666" stroke-width="0.7" /><line x1="340.3" y1="93.2" x2="340.3" y2="91.4" stroke="#666" stroke-width="0.7" /><line x1="346.88" y1="19.2" x2="346.88" y2="21" stroke="#666" stroke-width="0.7" /><line x1="346.88" y1="93.2" x2="346.88" y2="91.4" stroke="#666" stroke-width="0.7" /><line x1="353.46" y1="19.2" x2="353.46" y2="21" stroke="#666" stroke-width="0.7" /><line x1="353.46" y1="93.2" x2="353.46" y2="91.4" stroke="#666" stroke-width="0.7" /><line x1="360.04" y1="19.2" x2="360.04" y2="21" stroke="#666" stroke-width="0.7" /><line x1="360.04" y1="93.2" x2="360.04" y2="91.4" stroke="#666" stroke-width="0.7" /><line x1="366.62" y1="19.2" x2="366.62" y2="21" stroke="#666" stroke-width="0.7" /><line x1="366.62" y1="93.2" x2="366.62" y2="91.4" stroke="#666" stroke-width="0.7" /><line x1="373.2" y1="19.2" x2="373.2" y2="21" stroke="#666" stroke-width="0.7" /><line x1="373.2" y1="93.2" x2="373.2" y2="91.4" stroke="#666" stroke-width="0.7" /><line x1="379.78" y1="19.2" x2="379.78" y2="21" stroke="#666" stroke-width="0.7" /><line x1="379.78" y1="93.2" x2="379.78" y2="91.4" stroke="#666" stroke-width="0.7" /><line x1="386.36" y1="19.2" x2="386.36" y2="21" stroke="#666" stroke-width="0.7" /><line x1="386.36" y1="93.2" x2="386.36" y2="91.4" stroke="#666" stroke-width="0.7" /><line x1="392.94" y1="19.2" x2="392.94" y2="21" stroke="#666" stroke-width="0.7" /><line x1="392.94" y1="93.2" x2="392.94" y2="91.4" stroke="#666" stroke-width="0.7" /><line x1="307.4" y1="19.4" x2="309.2" y2="19.4" stroke="#666" stroke-width="0.7" /><line x1="399.5" y1="19.4" x2="397.7" y2="19.4" stroke="#666" stroke-width="0.7" /><line x1="307.4" y1="30" x2="309.2" y2="30" stroke="#666" stroke-width="0.7" /><line x1="399.5" y1="30" x2="397.7" y2="30" stroke="#666" stroke-width="0.7" /><line x1="307.4" y1="40.6" x2="309.2" y2="40.6" stroke="#666" stroke-width="0.7" /><line x1="399.5" y1="40.6" x2="397.7" y2="40.6" stroke="#666" stroke-width="0.7" /><line x1="307.4" y1="51.2" x2="309.2" y2="51.2" stroke="#666" stroke-width="0.7" /><line x1="399.5" y1="51.2" x2="397.7" y2="51.2" stroke="#666" stroke-width="0.7" /><line x1="307.4" y1="61.8" x2="309.2" y2="61.8" stroke="#666" stroke-width="0.7" /><line x1="399.5" y1="61.8" x2="397.7" y2="61.8" stroke="#666" stroke-width="0.7" /><line x1="307.4" y1="72.4" x2="309.2" y2="72.4" stroke="#666" stroke-width="0.7" /><line x1="399.5" y1="72.4" x2="397.7" y2="72.4" stroke="#666" stroke-width="0.7" /><line x1="307.4" y1="83" x2="309.2" y2="83" stroke="#666" stroke-width="0.7" /><line x1="399.5" y1="83" x2="397.7" y2="83" stroke="#666" stroke-width="0.7" /><text x="0" y="0" transform="translate(304.6,34.1) scale(0.92,1)" font-size="10.0" text-anchor="end" font-weight="normal" fill="#1a1a1a" >10</text><text x="0" y="0" transform="translate(302.6,55.3) scale(0.92,1)" font-size="10.0" text-anchor="end" font-weight="normal" fill="#1a1a1a" >0</text><text x="0" y="0" transform="translate(304.6,76.5) scale(0.92,1)" font-size="10.0" text-anchor="end" font-weight="normal" fill="#1a1a1a" >-10</text><text x="0" y="0" transform="translate(304.6,97.7) scale(0.92,1)" font-size="10.0" text-anchor="end" font-weight="normal" fill="#1a1a1a" >-20</text><text x="0" y="0" transform="translate(333.72,103.6) scale(0.92,1)" font-size="10.0" text-anchor="middle" font-weight="normal" fill="#1a1a1a" >500</text><text x="0" y="0" transform="translate(366.62,103.6) scale(0.92,1)" font-size="10.0" text-anchor="middle" font-weight="normal" fill="#1a1a1a" >550</text><text x="0" y="0" transform="translate(399.52,103.6) scale(0.92,1)" font-size="10.0" text-anchor="middle" font-weight="normal" fill="#1a1a1a" >600</text><line x1="356.2" y1="17.8" x2="356.2" y2="93.2" stroke="#8fd6f4" stroke-width="1.0" stroke-dasharray="10.8,3.8" stroke-dashoffset="0"/><path d="M307.4,51.2 L307.73,51.2 L308.06,51.19 L308.39,51.19 L308.72,51.18 L309.04,51.18 L309.37,51.17 L309.7,51.16 L310.03,51.16 L310.36,51.15 L310.69,51.14 L311.02,51.13 L311.35,51.12 L311.68,51.11 L312.01,51.1 L312.33,51.09 L312.66,51.09 L312.99,51.07 L313.32,51.06 L313.65,51.05 L313.98,51.04 L314.31,51.03 L314.64,51.02 L314.97,51.01 L315.3,50.99 L315.62,50.98 L315.95,50.97 L316.28,50.96 L316.61,50.94 L316.94,50.93 L317.27,50.92 L317.6,50.9 L317.93,50.89 L318.26,50.88 L318.59,50.86 L318.91,50.85 L319.24,50.83 L319.57,50.82 L319.9,50.81 L320.23,50.79 L320.56,50.78 L320.89,50.76 L321.22,50.75 L321.55,50.73 L321.88,50.71 L322.2,50.69 L322.53,50.68 L322.86,50.66 L323.19,50.64 L323.52,50.62 L323.85,50.6 L324.18,50.57 L324.51,50.55 L324.84,50.53 L325.17,50.51 L325.5,50.48 L325.82,50.46 L326.15,50.44 L326.48,50.41 L326.81,50.39 L327.14,50.36 L327.47,50.34 L327.8,50.31 L328.13,50.29 L328.46,50.26 L328.78,50.24 L329.11,50.21 L329.44,50.18 L329.77,50.16 L330.1,50.13 L330.43,50.1 L330.76,50.07 L331.09,50.04 L331.42,50.01 L331.75,49.98 L332.07,49.95 L332.4,49.91 L332.73,49.88 L333.06,49.84 L333.39,49.81 L333.72,49.77 L334.05,49.74 L334.38,49.7 L334.71,49.66 L335.04,49.63 L335.36,49.59 L335.69,49.55 L336.02,49.51 L336.35,49.48 L336.68,49.44 L337.01,49.41 L337.34,49.37 L337.67,49.33 L338,49.3 L338.33,49.27 L338.65,49.23 L338.98,49.2 L339.31,49.17 L339.64,49.14 L339.97,49.11 L340.3,49.08 L340.63,49.05 L340.96,49.02 L341.29,48.99 L341.62,48.96 L341.94,48.93 L342.27,48.9 L342.6,48.87 L342.93,48.83 L343.26,48.8 L343.59,48.77 L343.92,48.74 L344.25,48.71 L344.58,48.68 L344.91,48.65 L345.23,48.62 L345.56,48.6 L345.89,48.57 L346.22,48.55 L346.55,48.53 L346.88,48.51 L347.21,48.49 L347.54,48.48 L347.87,48.46 L348.2,48.45 L348.52,48.45 L348.85,48.44 L349.18,48.44 L349.51,48.45 L349.84,48.45 L350.17,48.46 L350.5,48.48 L350.83,48.49 L351.16,48.51 L351.49,48.53 L351.81,48.55 L352.14,48.58 L352.47,48.6 L352.8,48.63 L353.13,48.66 L353.46,48.69 L353.79,48.73 L354.12,48.76 L354.45,48.8 L354.78,48.84 L355.1,48.88 L355.43,48.92 L355.76,48.96 L356.09,49 L356.42,49.04 L356.75,49.08 L357.08,49.13 L357.41,49.18 L357.74,49.24 L358.07,49.31 L358.39,49.39 L358.72,49.47 L359.05,49.56 L359.38,49.65 L359.71,49.75 L360.04,49.85 L360.37,49.95 L360.7,50.06 L361.03,50.16 L361.36,50.27 L361.69,50.37 L362.01,50.48 L362.34,50.58 L362.67,50.68 L363,50.78 L363.33,50.87 L363.66,50.96 L363.99,51.05 L364.32,51.13 L364.65,51.2 L364.97,51.27 L365.3,51.34 L365.63,51.4 L365.96,51.47 L366.29,51.54 L366.62,51.6 L366.95,51.66 L367.28,51.72 L367.61,51.79 L367.94,51.85 L368.26,51.91 L368.59,51.97 L368.92,52.02 L369.25,52.08 L369.58,52.14 L369.91,52.19 L370.24,52.25 L370.57,52.31 L370.9,52.36 L371.23,52.41 L371.55,52.47 L371.88,52.52 L372.21,52.57 L372.54,52.63 L372.87,52.68 L373.2,52.73 L373.53,52.78 L373.86,52.83 L374.19,52.88 L374.52,52.93 L374.84,52.98 L375.17,53.03 L375.5,53.08 L375.83,53.14 L376.16,53.19 L376.49,53.24 L376.82,53.29 L377.15,53.34 L377.48,53.39 L377.81,53.44 L378.13,53.49 L378.46,53.54 L378.79,53.59 L379.12,53.64 L379.45,53.69 L379.78,53.74 L380.11,53.8 L380.44,53.85 L380.77,53.9 L381.1,53.95 L381.42,53.99 L381.75,54.04 L382.08,54.09 L382.41,54.14 L382.74,54.18 L383.07,54.23 L383.4,54.28 L383.73,54.32 L384.06,54.37 L384.39,54.42 L384.71,54.46 L385.04,54.51 L385.37,54.56 L385.7,54.6 L386.03,54.65 L386.36,54.7 L386.69,54.75 L387.02,54.8 L387.35,54.85 L387.68,54.9 L388,54.95 L388.33,55.01 L388.66,55.06 L388.99,55.11 L389.32,55.17 L389.65,55.23 L389.98,55.29 L390.31,55.35 L390.64,55.41 L390.97,55.47 L391.29,55.53 L391.62,55.59 L391.95,55.66 L392.28,55.72 L392.61,55.79 L392.94,55.86 L393.27,55.92 L393.6,55.99 L393.93,56.06 L394.26,56.13 L394.58,56.2 L394.91,56.27 L395.24,56.35 L395.57,56.42 L395.9,56.49 L396.23,56.57 L396.56,56.64 L396.89,56.72 L397.22,56.79 L397.55,56.87 L397.88,56.95 L398.2,57.03 L398.53,57.11 L398.86,57.19 L399.19,57.27 L399.52,57.35" fill="none" stroke="#2c2c2c" stroke-width="1.0" stroke-linejoin="round" /><path d="M307.4,51.2 L307.73,51.2 L308.06,51.2 L308.39,51.19 L308.72,51.19 L309.04,51.19 L309.37,51.18 L309.7,51.17 L310.03,51.16 L310.36,51.16 L310.69,51.15 L311.02,51.13 L311.35,51.12 L311.68,51.11 L312.01,51.1 L312.33,51.08 L312.66,51.07 L312.99,51.05 L313.32,51.04 L313.65,51.02 L313.98,51 L314.31,50.98 L314.64,50.97 L314.97,50.95 L315.3,50.93 L315.62,50.91 L315.95,50.89 L316.28,50.86 L316.61,50.84 L316.94,50.82 L317.27,50.8 L317.6,50.78 L317.93,50.75 L318.26,50.73 L318.59,50.71 L318.91,50.68 L319.24,50.66 L319.57,50.64 L319.9,50.61 L320.23,50.59 L320.56,50.56 L320.89,50.54 L321.22,50.51 L321.55,50.49 L321.88,50.46 L322.2,50.43 L322.53,50.4 L322.86,50.37 L323.19,50.33 L323.52,50.3 L323.85,50.26 L324.18,50.22 L324.51,50.18 L324.84,50.14 L325.17,50.1 L325.5,50.06 L325.82,50.01 L326.15,49.96 L326.48,49.91 L326.81,49.86 L327.14,49.81 L327.47,49.76 L327.8,49.7 L328.13,49.65 L328.46,49.59 L328.78,49.53 L329.11,49.46 L329.44,49.4 L329.77,49.33 L330.1,49.26 L330.43,49.19 L330.76,49.1 L331.09,49.01 L331.42,48.91 L331.75,48.8 L332.07,48.69 L332.4,48.57 L332.73,48.44 L333.06,48.31 L333.39,48.17 L333.72,48.03 L334.05,47.88 L334.38,47.73 L334.71,47.57 L335.04,47.41 L335.36,47.25 L335.69,47.08 L336.02,46.91 L336.35,46.74 L336.68,46.56 L337.01,46.38 L337.34,46.2 L337.67,46.02 L338,45.84 L338.33,45.66 L338.65,45.48 L338.98,45.28 L339.31,45.08 L339.64,44.85 L339.97,44.62 L340.3,44.37 L340.63,44.11 L340.96,43.85 L341.29,43.57 L341.62,43.29 L341.94,43.01 L342.27,42.72 L342.6,42.44 L342.93,42.15 L343.26,41.87 L343.59,41.59 L343.92,41.31 L344.25,41.04 L344.58,40.78 L344.91,40.53 L345.23,40.29 L345.56,40.07 L345.89,39.86 L346.22,39.66 L346.55,39.49 L346.88,39.33 L347.21,39.18 L347.54,39.03 L347.87,38.88 L348.2,38.72 L348.52,38.57 L348.85,38.43 L349.18,38.28 L349.51,38.14 L349.84,38.01 L350.17,37.88 L350.5,37.76 L350.83,37.65 L351.16,37.55 L351.49,37.46 L351.81,37.38 L352.14,37.32 L352.47,37.27 L352.8,37.23 L353.13,37.21 L353.46,37.21 L353.79,37.28 L354.12,37.4 L354.45,37.57 L354.78,37.79 L355.1,38.04 L355.43,38.32 L355.76,38.62 L356.09,38.93 L356.42,39.24 L356.75,39.54 L357.08,39.86 L357.41,40.21 L357.74,40.6 L358.07,41.01 L358.39,41.45 L358.72,41.91 L359.05,42.38 L359.38,42.86 L359.71,43.34 L360.04,43.82 L360.37,44.3 L360.7,44.79 L361.03,45.29 L361.36,45.8 L361.69,46.33 L362.01,46.87 L362.34,47.41 L362.67,47.96 L363,48.51 L363.33,49.05 L363.66,49.6 L363.99,50.14 L364.32,50.68 L364.65,51.2 L364.97,51.72 L365.3,52.25 L365.63,52.79 L365.96,53.32 L366.29,53.85 L366.62,54.37 L366.95,54.88 L367.28,55.37 L367.61,55.84 L367.94,56.29 L368.26,56.72 L368.59,57.14 L368.92,57.55 L369.25,57.96 L369.58,58.35 L369.91,58.73 L370.24,59.1 L370.57,59.46 L370.9,59.81 L371.23,60.14 L371.55,60.47 L371.88,60.78 L372.21,61.09 L372.54,61.39 L372.87,61.69 L373.2,61.98 L373.53,62.26 L373.86,62.53 L374.19,62.8 L374.52,63.05 L374.84,63.29 L375.17,63.51 L375.5,63.72 L375.83,63.92 L376.16,64.1 L376.49,64.27 L376.82,64.43 L377.15,64.59 L377.48,64.73 L377.81,64.87 L378.13,65.01 L378.46,65.14 L378.79,65.27 L379.12,65.4 L379.45,65.53 L379.78,65.67 L380.11,65.8 L380.44,65.94 L380.77,66.07 L381.1,66.2 L381.42,66.32 L381.75,66.45 L382.08,66.57 L382.41,66.69 L382.74,66.8 L383.07,66.92 L383.4,67.04 L383.73,67.15 L384.06,67.27 L384.39,67.38 L384.71,67.5 L385.04,67.62 L385.37,67.74 L385.7,67.86 L386.03,67.99 L386.36,68.11 L386.69,68.24 L387.02,68.38 L387.35,68.52 L387.68,68.66 L388,68.81 L388.33,68.96 L388.66,69.12 L388.99,69.29 L389.32,69.46 L389.65,69.64 L389.98,69.82 L390.31,70.02 L390.64,70.22 L390.97,70.42 L391.29,70.64 L391.62,70.86 L391.95,71.08 L392.28,71.31 L392.61,71.55 L392.94,71.79 L393.27,72.04 L393.6,72.3 L393.93,72.56 L394.26,72.82 L394.58,73.1 L394.91,73.38 L395.24,73.68 L395.57,73.98 L395.9,74.3 L396.23,74.63 L396.56,74.96 L396.89,75.3 L397.22,75.66 L397.55,76.02 L397.88,76.39 L398.2,76.76 L398.53,77.15 L398.86,77.54 L399.19,77.93 L399.52,78.34" fill="none" stroke="#52c3ef" stroke-width="1.1" stroke-linejoin="round" /><rect x="309" y="150.2" width="74.9" height="24.1" fill="#fff" stroke="#9a9a9a" stroke-width="0.8"/><line x1="309.8" y1="156.5" x2="330.8" y2="156.5" stroke="#333" stroke-width="1.5" /><line x1="309.8" y1="168" x2="330.8" y2="168" stroke="#6ccdf3" stroke-width="2.0" /><text x="333.7" y="159.9" font-size="9.1" text-anchor="start" font-weight="normal" fill="#1a1a1a" >NR– –NR</text><text x="333.7" y="170.8" font-size="9.1" text-anchor="start" font-weight="normal" fill="#1a1a1a" >NR–NS–NR</text><line x1="290" y1="233.4" x2="290" y2="321.2" stroke="#4a4a4a" stroke-width="0.9" /><line x1="286.6" y1="233.4" x2="290" y2="233.4" stroke="#4a4a4a" stroke-width="0.9" /><text x="0" y="0" transform="translate(280.6,237.5) scale(0.92,1)" font-size="10.0" text-anchor="end" font-weight="normal" fill="#1a1a1a" >1</text><line x1="286.6" y1="250.96" x2="290" y2="250.96" stroke="#4a4a4a" stroke-width="0.9" /><text x="0" y="0" transform="translate(284.2,255.06) scale(0.92,1)" font-size="10.0" text-anchor="end" font-weight="normal" fill="#1a1a1a" >0.8</text><line x1="286.6" y1="268.52" x2="290" y2="268.52" stroke="#4a4a4a" stroke-width="0.9" /><text x="0" y="0" transform="translate(284.2,272.62) scale(0.92,1)" font-size="10.0" text-anchor="end" font-weight="normal" fill="#1a1a1a" >0.6</text><line x1="286.6" y1="286.08" x2="290" y2="286.08" stroke="#4a4a4a" stroke-width="0.9" /><text x="0" y="0" transform="translate(284.2,290.18) scale(0.92,1)" font-size="10.0" text-anchor="end" font-weight="normal" fill="#1a1a1a" >0.4</text><line x1="286.6" y1="303.64" x2="290" y2="303.64" stroke="#4a4a4a" stroke-width="0.9" /><text x="0" y="0" transform="translate(284.2,307.74) scale(0.92,1)" font-size="10.0" text-anchor="end" font-weight="normal" fill="#1a1a1a" >0.2</text><line x1="286.6" y1="321.2" x2="290" y2="321.2" stroke="#4a4a4a" stroke-width="0.9" /><text x="0" y="0" transform="translate(280.6,325.3) scale(0.92,1)" font-size="10.0" text-anchor="end" font-weight="normal" fill="#1a1a1a" >0</text><line x1="288.2" y1="242.18" x2="290" y2="242.18" stroke="#4a4a4a" stroke-width="0.9" /><line x1="288.2" y1="259.74" x2="290" y2="259.74" stroke="#4a4a4a" stroke-width="0.9" /><line x1="288.2" y1="277.3" x2="290" y2="277.3" stroke="#4a4a4a" stroke-width="0.9" /><line x1="288.2" y1="294.86" x2="290" y2="294.86" stroke="#4a4a4a" stroke-width="0.9" /><line x1="288.2" y1="312.42" x2="290" y2="312.42" stroke="#4a4a4a" stroke-width="0.9" /><line x1="290" y1="321.2" x2="508.48" y2="321.2" stroke="#4a4a4a" stroke-width="0.9" /><line x1="290" y1="321.2" x2="290" y2="324.7" stroke="#4a4a4a" stroke-width="0.9" /><text x="0" y="0" transform="translate(290,334.8) scale(0.92,1)" font-size="10.0" text-anchor="middle" font-weight="normal" fill="#1a1a1a" >400</text><line x1="338.55" y1="321.2" x2="338.55" y2="324.7" stroke="#4a4a4a" stroke-width="0.9" /><text x="0" y="0" transform="translate(338.55,334.8) scale(0.92,1)" font-size="10.0" text-anchor="middle" font-weight="normal" fill="#1a1a1a" >500</text><line x1="387.1" y1="321.2" x2="387.1" y2="324.7" stroke="#4a4a4a" stroke-width="0.9" /><text x="0" y="0" transform="translate(387.1,334.8) scale(0.92,1)" font-size="10.0" text-anchor="middle" font-weight="normal" fill="#1a1a1a" >600</text><line x1="435.65" y1="321.2" x2="435.65" y2="324.7" stroke="#4a4a4a" stroke-width="0.9" /><text x="0" y="0" transform="translate(435.65,334.8) scale(0.92,1)" font-size="10.0" text-anchor="middle" font-weight="normal" fill="#1a1a1a" >700</text><line x1="484.2" y1="321.2" x2="484.2" y2="324.7" stroke="#4a4a4a" stroke-width="0.9" /><text x="0" y="0" transform="translate(484.2,334.8) scale(0.92,1)" font-size="10.0" text-anchor="middle" font-weight="normal" fill="#1a1a1a" >800</text><line x1="299.71" y1="321.2" x2="299.71" y2="323" stroke="#4a4a4a" stroke-width="0.9" /><line x1="309.42" y1="321.2" x2="309.42" y2="323" stroke="#4a4a4a" stroke-width="0.9" /><line x1="319.13" y1="321.2" x2="319.13" y2="323" stroke="#4a4a4a" stroke-width="0.9" /><line x1="328.84" y1="321.2" x2="328.84" y2="323" stroke="#4a4a4a" stroke-width="0.9" /><line x1="348.26" y1="321.2" x2="348.26" y2="323" stroke="#4a4a4a" stroke-width="0.9" /><line x1="357.97" y1="321.2" x2="357.97" y2="323" stroke="#4a4a4a" stroke-width="0.9" /><line x1="367.68" y1="321.2" x2="367.68" y2="323" stroke="#4a4a4a" stroke-width="0.9" /><line x1="377.39" y1="321.2" x2="377.39" y2="323" stroke="#4a4a4a" stroke-width="0.9" /><line x1="396.81" y1="321.2" x2="396.81" y2="323" stroke="#4a4a4a" stroke-width="0.9" /><line x1="406.52" y1="321.2" x2="406.52" y2="323" stroke="#4a4a4a" stroke-width="0.9" /><line x1="416.23" y1="321.2" x2="416.23" y2="323" stroke="#4a4a4a" stroke-width="0.9" /><line x1="425.94" y1="321.2" x2="425.94" y2="323" stroke="#4a4a4a" stroke-width="0.9" /><line x1="445.36" y1="321.2" x2="445.36" y2="323" stroke="#4a4a4a" stroke-width="0.9" /><line x1="455.07" y1="321.2" x2="455.07" y2="323" stroke="#4a4a4a" stroke-width="0.9" /><line x1="464.78" y1="321.2" x2="464.78" y2="323" stroke="#4a4a4a" stroke-width="0.9" /><line x1="474.49" y1="321.2" x2="474.49" y2="323" stroke="#4a4a4a" stroke-width="0.9" /><line x1="493.91" y1="321.2" x2="493.91" y2="323" stroke="#4a4a4a" stroke-width="0.9" /><line x1="503.62" y1="321.2" x2="503.62" y2="323" stroke="#4a4a4a" stroke-width="0.9" /><text x="402" y="343.2" font-size="10.9" text-anchor="middle" font-weight="normal" fill="#1a1a1a" >Wavelength [nm]</text><text x="0" y="0" font-size="10.7" text-anchor="middle" fill="#1a1a1a" transform="translate(266.5,279.3) rotate(-90)">Extinction [normalized]</text><path d="M290,308.03 L290.24,308.04 L290.49,308.05 L290.73,308.06 L290.97,308.07 L291.21,308.08 L291.46,308.09 L291.7,308.1 L291.94,308.11 L292.18,308.12 L292.43,308.13 L292.67,308.13 L292.91,308.14 L293.16,308.15 L293.4,308.16 L293.64,308.17 L293.88,308.18 L294.13,308.19 L294.37,308.2 L294.61,308.22 L294.86,308.23 L295.1,308.24 L295.34,308.25 L295.58,308.26 L295.83,308.27 L296.07,308.28 L296.31,308.29 L296.55,308.3 L296.8,308.31 L297.04,308.32 L297.28,308.33 L297.53,308.34 L297.77,308.35 L298.01,308.36 L298.25,308.37 L298.5,308.38 L298.74,308.39 L298.98,308.41 L299.22,308.42 L299.47,308.43 L299.71,308.44 L299.95,308.45 L300.2,308.46 L300.44,308.47 L300.68,308.48 L300.92,308.49 L301.17,308.51 L301.41,308.52 L301.65,308.53 L301.89,308.54 L302.14,308.55 L302.38,308.56 L302.62,308.57 L302.87,308.59 L303.11,308.6 L303.35,308.61 L303.59,308.62 L303.84,308.63 L304.08,308.64 L304.32,308.66 L304.56,308.67 L304.81,308.68 L305.05,308.69 L305.29,308.7 L305.54,308.71 L305.78,308.73 L306.02,308.74 L306.26,308.75 L306.51,308.76 L306.75,308.77 L306.99,308.79 L307.24,308.8 L307.48,308.81 L307.72,308.82 L307.96,308.83 L308.21,308.85 L308.45,308.86 L308.69,308.87 L308.93,308.88 L309.18,308.9 L309.42,308.91 L309.66,308.92 L309.91,308.93 L310.15,308.95 L310.39,308.96 L310.63,308.97 L310.88,308.99 L311.12,309 L311.36,309.01 L311.6,309.03 L311.85,309.04 L312.09,309.06 L312.33,309.07 L312.58,309.09 L312.82,309.1 L313.06,309.12 L313.3,309.13 L313.55,309.15 L313.79,309.16 L314.03,309.18 L314.27,309.19 L314.52,309.21 L314.76,309.22 L315,309.24 L315.25,309.25 L315.49,309.27 L315.73,309.28 L315.97,309.29 L316.22,309.31 L316.46,309.32 L316.7,309.34 L316.95,309.35 L317.19,309.37 L317.43,309.38 L317.67,309.39 L317.92,309.41 L318.16,309.42 L318.4,309.43 L318.64,309.44 L318.89,309.46 L319.13,309.47 L319.37,309.48 L319.62,309.49 L319.86,309.5 L320.1,309.51 L320.34,309.52 L320.59,309.53 L320.83,309.54 L321.07,309.55 L321.31,309.56 L321.56,309.57 L321.8,309.59 L322.04,309.6 L322.29,309.61 L322.53,309.62 L322.77,309.63 L323.01,309.64 L323.26,309.65 L323.5,309.66 L323.74,309.67 L323.99,309.68 L324.23,309.69 L324.47,309.7 L324.71,309.71 L324.96,309.72 L325.2,309.73 L325.44,309.74 L325.68,309.74 L325.93,309.75 L326.17,309.76 L326.41,309.76 L326.66,309.77 L326.9,309.77 L327.14,309.78 L327.38,309.78 L327.63,309.78 L327.87,309.78 L328.11,309.79 L328.35,309.79 L328.6,309.78 L328.84,309.78 L329.08,309.77 L329.33,309.76 L329.57,309.74 L329.81,309.72 L330.05,309.7 L330.3,309.68 L330.54,309.65 L330.78,309.62 L331.02,309.59 L331.27,309.56 L331.51,309.53 L331.75,309.49 L332,309.45 L332.24,309.41 L332.48,309.37 L332.72,309.33 L332.97,309.29 L333.21,309.25 L333.45,309.21 L333.69,309.16 L333.94,309.12 L334.18,309.08 L334.42,309.03 L334.67,308.99 L334.91,308.95 L335.15,308.91 L335.39,308.87 L335.64,308.82 L335.88,308.79 L336.12,308.75 L336.37,308.71 L336.61,308.67 L336.85,308.63 L337.09,308.58 L337.34,308.54 L337.58,308.49 L337.82,308.44 L338.06,308.39 L338.31,308.33 L338.55,308.28 L338.79,308.22 L339.04,308.17 L339.28,308.11 L339.52,308.05 L339.76,307.99 L340.01,307.93 L340.25,307.88 L340.49,307.82 L340.73,307.76 L340.98,307.7 L341.22,307.64 L341.46,307.58 L341.71,307.52 L341.95,307.47 L342.19,307.41 L342.43,307.36 L342.68,307.3 L342.92,307.25 L343.16,307.2 L343.4,307.15 L343.65,307.1 L343.89,307.06 L344.13,307.01 L344.38,306.97 L344.62,306.93 L344.86,306.9 L345.1,306.87 L345.35,306.83 L345.59,306.81 L345.83,306.78 L346.08,306.76 L346.32,306.75 L346.56,306.73 L346.8,306.72 L347.05,306.72 L347.29,306.71 L347.53,306.72 L347.77,306.73 L348.02,306.74 L348.26,306.76 L348.5,306.79 L348.75,306.82 L348.99,306.86 L349.23,306.9 L349.47,306.95 L349.72,307 L349.96,307.06 L350.2,307.11 L350.44,307.18 L350.69,307.24 L350.93,307.31 L351.17,307.38 L351.42,307.46 L351.66,307.53 L351.9,307.61 L352.14,307.69 L352.39,307.77 L352.63,307.85 L352.87,307.93 L353.12,308.02 L353.36,308.1 L353.6,308.18 L353.84,308.27 L354.09,308.35 L354.33,308.43 L354.57,308.51 L354.81,308.59 L355.06,308.67 L355.3,308.75 L355.54,308.83 L355.79,308.91 L356.03,309 L356.27,309.09 L356.51,309.18 L356.76,309.28 L357,309.38 L357.24,309.49 L357.48,309.59 L357.73,309.7 L357.97,309.81 L358.21,309.92 L358.46,310.04 L358.7,310.15 L358.94,310.27 L359.18,310.39 L359.43,310.5 L359.67,310.62 L359.91,310.74 L360.15,310.85 L360.4,310.97 L360.64,311.09 L360.88,311.2 L361.13,311.31 L361.37,311.43 L361.61,311.54 L361.85,311.64 L362.1,311.75 L362.34,311.85 L362.58,311.95 L362.82,312.05 L363.07,312.14 L363.31,312.23 L363.55,312.32 L363.8,312.4 L364.04,312.48 L364.28,312.55 L364.52,312.62 L364.77,312.68 L365.01,312.74 L365.25,312.8 L365.5,312.87 L365.74,312.93 L365.98,312.99 L366.22,313.05 L366.47,313.11 L366.71,313.17 L366.95,313.23 L367.19,313.29 L367.44,313.35 L367.68,313.41 L367.92,313.47 L368.17,313.52 L368.41,313.58 L368.65,313.64 L368.89,313.69 L369.14,313.75 L369.38,313.8 L369.62,313.85 L369.86,313.9 L370.11,313.95 L370.35,314 L370.59,314.05 L370.84,314.1 L371.08,314.14 L371.32,314.18 L371.56,314.23 L371.81,314.27 L372.05,314.3 L372.29,314.34 L372.53,314.37 L372.78,314.41 L373.02,314.44 L373.26,314.46 L373.51,314.49 L373.75,314.51 L373.99,314.54 L374.23,314.55 L374.48,314.57 L374.72,314.59 L374.96,314.6 L375.21,314.61 L375.45,314.61 L375.69,314.61 L375.93,314.61 L376.18,314.61 L376.42,314.61 L376.66,314.61 L376.9,314.6 L377.15,314.59 L377.39,314.58 L377.63,314.57 L377.88,314.56 L378.12,314.55 L378.36,314.53 L378.6,314.52 L378.85,314.5 L379.09,314.48 L379.33,314.46 L379.57,314.44 L379.82,314.42 L380.06,314.4 L380.3,314.38 L380.55,314.35 L380.79,314.33 L381.03,314.3 L381.27,314.27 L381.52,314.25 L381.76,314.22 L382,314.19 L382.25,314.16 L382.49,314.13 L382.73,314.09 L382.97,314.06 L383.22,314.03 L383.46,314 L383.7,313.96 L383.94,313.93 L384.19,313.89 L384.43,313.86 L384.67,313.82 L384.92,313.79 L385.16,313.75 L385.4,313.72 L385.64,313.68 L385.89,313.64 L386.13,313.61 L386.37,313.57 L386.61,313.53 L386.86,313.5 L387.1,313.46 L387.34,313.42 L387.59,313.38 L387.83,313.34 L388.07,313.29 L388.31,313.25 L388.56,313.2 L388.8,313.15 L389.04,313.1 L389.28,313.05 L389.53,313 L389.77,312.94 L390.01,312.89 L390.26,312.83 L390.5,312.77 L390.74,312.71 L390.98,312.64 L391.23,312.58 L391.47,312.51 L391.71,312.45 L391.95,312.38 L392.2,312.31 L392.44,312.24 L392.68,312.16 L392.93,312.09 L393.17,312.01 L393.41,311.94 L393.65,311.86 L393.9,311.78 L394.14,311.7 L394.38,311.62 L394.63,311.53 L394.87,311.45 L395.11,311.36 L395.35,311.28 L395.6,311.19 L395.84,311.1 L396.08,311.01 L396.32,310.92 L396.57,310.82 L396.81,310.73 L397.05,310.64 L397.3,310.54 L397.54,310.44 L397.78,310.34 L398.02,310.24 L398.27,310.14 L398.51,310.04 L398.75,309.94 L398.99,309.84 L399.24,309.73 L399.48,309.63 L399.72,309.52 L399.97,309.42 L400.21,309.31 L400.45,309.2 L400.69,309.08 L400.94,308.97 L401.18,308.85 L401.42,308.73 L401.66,308.61 L401.91,308.48 L402.15,308.35 L402.39,308.22 L402.64,308.09 L402.88,307.95 L403.12,307.81 L403.36,307.67 L403.61,307.52 L403.85,307.37 L404.09,307.21 L404.34,307.05 L404.58,306.89 L404.82,306.72 L405.06,306.55 L405.31,306.38 L405.55,306.2 L405.79,306.01 L406.03,305.82 L406.28,305.63 L406.52,305.43 L406.76,305.22 L407.01,305.01 L407.25,304.8 L407.49,304.58 L407.73,304.35 L407.98,304.12 L408.22,303.88 L408.46,303.64 L408.7,303.39 L408.95,303.13 L409.19,302.86 L409.43,302.58 L409.68,302.28 L409.92,301.96 L410.16,301.62 L410.4,301.26 L410.65,300.88 L410.89,300.48 L411.13,300.07 L411.38,299.64 L411.62,299.19 L411.86,298.72 L412.1,298.24 L412.35,297.74 L412.59,297.23 L412.83,296.69 L413.07,296.14 L413.32,295.58 L413.56,295 L413.8,294.41 L414.05,293.8 L414.29,293.17 L414.53,292.53 L414.77,291.88 L415.02,291.21 L415.26,290.53 L415.5,289.83 L415.74,289.12 L415.99,288.4 L416.23,287.67 L416.47,286.92 L416.72,286.16 L416.96,285.38 L417.2,284.6 L417.44,283.8 L417.69,282.99 L417.93,282.15 L418.17,281.22 L418.41,280.21 L418.66,279.12 L418.9,277.97 L419.14,276.75 L419.39,275.47 L419.63,274.15 L419.87,272.78 L420.11,271.37 L420.36,269.93 L420.6,268.46 L420.84,266.97 L421.09,265.47 L421.33,263.95 L421.57,262.44 L421.81,260.93 L422.06,259.43 L422.3,257.94 L422.54,256.48 L422.78,255.04 L423.03,253.64 L423.27,252.28 L423.51,250.96 L423.76,249.59 L424,248.09 L424.24,246.49 L424.48,244.84 L424.73,243.17 L424.97,241.52 L425.21,239.92 L425.45,238.41 L425.7,237.04 L425.94,235.83 L426.18,234.82 L426.43,234.06 L426.67,233.57 L426.91,233.4 L427.15,233.48 L427.4,233.7 L427.64,234.05 L427.88,234.52 L428.12,235.1 L428.37,235.78 L428.61,236.55 L428.85,237.39 L429.1,238.29 L429.34,239.25 L429.58,240.24 L429.82,241.26 L430.07,242.3 L430.31,243.34 L430.55,244.38 L430.79,245.41 L431.04,246.59 L431.28,247.94 L431.52,249.43 L431.77,251.05 L432.01,252.77 L432.25,254.57 L432.49,256.43 L432.74,258.33 L432.98,260.25 L433.22,262.16 L433.47,264.05 L433.71,265.89 L433.95,267.67 L434.19,269.35 L434.44,270.93 L434.68,272.38 L434.92,273.67 L435.16,274.82 L435.41,275.94 L435.65,277.04 L435.89,278.12 L436.14,279.19 L436.38,280.23 L436.62,281.25 L436.86,282.25 L437.11,283.23 L437.35,284.18 L437.59,285.1 L437.83,286 L438.08,286.87 L438.32,287.71 L438.56,288.52 L438.81,289.3 L439.05,290.05 L439.29,290.77 L439.53,291.45 L439.78,292.1 L440.02,292.71 L440.26,293.29 L440.5,293.83 L440.75,294.33 L440.99,294.8 L441.23,295.25 L441.48,295.71 L441.72,296.15 L441.96,296.58 L442.2,297.01 L442.45,297.42 L442.69,297.83 L442.93,298.23 L443.18,298.62 L443.42,299.01 L443.66,299.38 L443.9,299.75 L444.15,300.11 L444.39,300.47 L444.63,300.81 L444.87,301.15 L445.12,301.48 L445.36,301.81 L445.6,302.13 L445.85,302.44 L446.09,302.75 L446.33,303.05 L446.57,303.34 L446.82,303.63 L447.06,303.91 L447.3,304.18 L447.54,304.45 L447.79,304.72 L448.03,304.98 L448.27,305.23 L448.52,305.48 L448.76,305.72 L449,305.96 L449.24,306.2 L449.49,306.42 L449.73,306.65 L449.97,306.87 L450.22,307.08 L450.46,307.3 L450.7,307.5 L450.94,307.71 L451.19,307.91 L451.43,308.1 L451.67,308.3 L451.91,308.49 L452.16,308.67 L452.4,308.86 L452.64,309.04 L452.89,309.21 L453.13,309.39 L453.37,309.56 L453.61,309.73 L453.86,309.9 L454.1,310.06 L454.34,310.22 L454.58,310.38 L454.83,310.54 L455.07,310.69 L455.31,310.84 L455.56,310.98 L455.8,311.13 L456.04,311.27 L456.28,311.4 L456.53,311.54 L456.77,311.67 L457.01,311.79 L457.25,311.92 L457.5,312.04 L457.74,312.16 L457.98,312.27 L458.23,312.38 L458.47,312.49 L458.71,312.6 L458.95,312.7 L459.2,312.8 L459.44,312.89 L459.68,312.98 L459.92,313.07 L460.17,313.16 L460.41,313.24 L460.65,313.32 L460.9,313.4 L461.14,313.49 L461.38,313.57 L461.62,313.65 L461.87,313.73 L462.11,313.81 L462.35,313.89 L462.6,313.97 L462.84,314.04 L463.08,314.12 L463.32,314.2 L463.57,314.27 L463.81,314.35 L464.05,314.42 L464.29,314.5 L464.54,314.57 L464.78,314.65 L465.02,314.72 L465.27,314.79 L465.51,314.86 L465.75,314.93 L465.99,315 L466.24,315.07 L466.48,315.14 L466.72,315.21 L466.96,315.28 L467.21,315.35 L467.45,315.41 L467.69,315.48 L467.94,315.54 L468.18,315.61 L468.42,315.67 L468.66,315.74 L468.91,315.8 L469.15,315.86 L469.39,315.92 L469.63,315.99 L469.88,316.05 L470.12,316.11 L470.36,316.17 L470.61,316.23 L470.85,316.28 L471.09,316.34 L471.33,316.4 L471.58,316.46 L471.82,316.51 L472.06,316.57 L472.31,316.62 L472.55,316.68 L472.79,316.73 L473.03,316.78 L473.28,316.84 L473.52,316.89 L473.76,316.94 L474,316.99 L474.25,317.04 L474.49,317.09 L474.73,317.14 L474.98,317.19 L475.22,317.23 L475.46,317.28 L475.7,317.33 L475.95,317.37 L476.19,317.42 L476.43,317.46 L476.67,317.51 L476.92,317.55 L477.16,317.59 L477.4,317.64 L477.65,317.68 L477.89,317.72 L478.13,317.76 L478.37,317.8 L478.62,317.84 L478.86,317.88 L479.1,317.91 L479.35,317.95 L479.59,317.99 L479.83,318.02 L480.07,318.06 L480.32,318.09 L480.56,318.13 L480.8,318.16 L481.04,318.19 L481.29,318.23 L481.53,318.26 L481.77,318.29 L482.02,318.32 L482.26,318.35 L482.5,318.38 L482.74,318.41 L482.99,318.44 L483.23,318.46 L483.47,318.49 L483.71,318.52 L483.96,318.54 L484.2,318.57 L484.44,318.59 L484.69,318.62 L484.93,318.64 L485.17,318.66 L485.41,318.69 L485.66,318.71 L485.9,318.74 L486.14,318.76 L486.38,318.79 L486.63,318.81 L486.87,318.83 L487.11,318.86 L487.36,318.88 L487.6,318.9 L487.84,318.93 L488.08,318.95 L488.33,318.97 L488.57,319 L488.81,319.02 L489.06,319.04 L489.3,319.07 L489.54,319.09 L489.78,319.11 L490.03,319.14 L490.27,319.16 L490.51,319.18 L490.75,319.2 L491,319.22 L491.24,319.25 L491.48,319.27 L491.73,319.29 L491.97,319.31 L492.21,319.33 L492.45,319.35 L492.7,319.37 L492.94,319.39 L493.18,319.42 L493.42,319.44 L493.67,319.46 L493.91,319.48 L494.15,319.5 L494.4,319.51 L494.64,319.53 L494.88,319.55 L495.12,319.57 L495.37,319.59 L495.61,319.61 L495.85,319.63 L496.09,319.65 L496.34,319.66 L496.58,319.68 L496.82,319.7 L497.07,319.71 L497.31,319.73 L497.55,319.75 L497.79,319.76 L498.04,319.78 L498.28,319.8 L498.52,319.81 L498.76,319.83 L499.01,319.84 L499.25,319.85 L499.49,319.87 L499.74,319.88 L499.98,319.9 L500.22,319.91 L500.46,319.92 L500.71,319.94 L500.95,319.95 L501.19,319.96 L501.44,319.97 L501.68,319.98 L501.92,319.99 L502.16,320 L502.41,320.01 L502.65,320.02 L502.89,320.03 L503.13,320.04 L503.38,320.05 L503.62,320.06 L503.86,320.07 L504.11,320.08 L504.35,320.08 L504.59,320.09 L504.83,320.1 L505.08,320.1 L505.32,320.11 L505.56,320.11 L505.8,320.12 L506.05,320.12 L506.29,320.13 L506.53,320.13 L506.78,320.14 L507.02,320.14 L507.26,320.14 L507.5,320.14 L507.75,320.14 L507.99,320.15 L508.23,320.15 L508.48,320.15" fill="none" stroke="#2c2c2c" stroke-width="1.4" stroke-linejoin="round" /><path d="M290,294.42 L290.24,294.43 L290.49,294.43 L290.73,294.44 L290.97,294.44 L291.21,294.45 L291.46,294.46 L291.7,294.46 L291.94,294.47 L292.18,294.48 L292.43,294.49 L292.67,294.5 L292.91,294.5 L293.16,294.51 L293.4,294.52 L293.64,294.53 L293.88,294.54 L294.13,294.56 L294.37,294.57 L294.61,294.58 L294.86,294.59 L295.1,294.6 L295.34,294.62 L295.58,294.63 L295.83,294.64 L296.07,294.66 L296.31,294.67 L296.55,294.68 L296.8,294.7 L297.04,294.71 L297.28,294.73 L297.53,294.74 L297.77,294.76 L298.01,294.77 L298.25,294.79 L298.5,294.81 L298.74,294.82 L298.98,294.84 L299.22,294.86 L299.47,294.88 L299.71,294.89 L299.95,294.91 L300.2,294.93 L300.44,294.95 L300.68,294.97 L300.92,294.98 L301.17,295 L301.41,295.02 L301.65,295.04 L301.89,295.06 L302.14,295.08 L302.38,295.1 L302.62,295.12 L302.87,295.14 L303.11,295.16 L303.35,295.18 L303.59,295.2 L303.84,295.22 L304.08,295.25 L304.32,295.27 L304.56,295.29 L304.81,295.31 L305.05,295.33 L305.29,295.35 L305.54,295.38 L305.78,295.4 L306.02,295.42 L306.26,295.44 L306.51,295.46 L306.75,295.49 L306.99,295.51 L307.24,295.53 L307.48,295.55 L307.72,295.58 L307.96,295.6 L308.21,295.62 L308.45,295.65 L308.69,295.67 L308.93,295.69 L309.18,295.71 L309.42,295.74 L309.66,295.76 L309.91,295.79 L310.15,295.82 L310.39,295.85 L310.63,295.88 L310.88,295.91 L311.12,295.94 L311.36,295.98 L311.6,296.02 L311.85,296.06 L312.09,296.1 L312.33,296.14 L312.58,296.18 L312.82,296.22 L313.06,296.26 L313.3,296.3 L313.55,296.35 L313.79,296.39 L314.03,296.43 L314.27,296.48 L314.52,296.52 L314.76,296.57 L315,296.61 L315.25,296.65 L315.49,296.7 L315.73,296.74 L315.97,296.78 L316.22,296.82 L316.46,296.86 L316.7,296.9 L316.95,296.94 L317.19,296.98 L317.43,297.01 L317.67,297.05 L317.92,297.08 L318.16,297.11 L318.4,297.14 L318.64,297.17 L318.89,297.2 L319.13,297.23 L319.37,297.25 L319.62,297.27 L319.86,297.29 L320.1,297.3 L320.34,297.32 L320.59,297.33 L320.83,297.34 L321.07,297.36 L321.31,297.37 L321.56,297.38 L321.8,297.39 L322.04,297.4 L322.29,297.42 L322.53,297.43 L322.77,297.44 L323.01,297.45 L323.26,297.46 L323.5,297.47 L323.74,297.48 L323.99,297.49 L324.23,297.5 L324.47,297.51 L324.71,297.52 L324.96,297.52 L325.2,297.53 L325.44,297.54 L325.68,297.55 L325.93,297.55 L326.17,297.56 L326.41,297.56 L326.66,297.57 L326.9,297.57 L327.14,297.57 L327.38,297.58 L327.63,297.58 L327.87,297.58 L328.11,297.58 L328.35,297.58 L328.6,297.58 L328.84,297.56 L329.08,297.54 L329.33,297.51 L329.57,297.47 L329.81,297.42 L330.05,297.36 L330.3,297.3 L330.54,297.23 L330.78,297.16 L331.02,297.08 L331.27,296.99 L331.51,296.9 L331.75,296.8 L332,296.7 L332.24,296.59 L332.48,296.48 L332.72,296.37 L332.97,296.25 L333.21,296.12 L333.45,296 L333.69,295.87 L333.94,295.74 L334.18,295.6 L334.42,295.47 L334.67,295.33 L334.91,295.19 L335.15,295.05 L335.39,294.91 L335.64,294.76 L335.88,294.62 L336.12,294.48 L336.37,294.33 L336.61,294.17 L336.85,293.99 L337.09,293.8 L337.34,293.6 L337.58,293.38 L337.82,293.15 L338.06,292.91 L338.31,292.65 L338.55,292.39 L338.79,292.12 L339.04,291.84 L339.28,291.55 L339.52,291.26 L339.76,290.96 L340.01,290.66 L340.25,290.35 L340.49,290.04 L340.73,289.73 L340.98,289.42 L341.22,289.11 L341.46,288.8 L341.71,288.49 L341.95,288.18 L342.19,287.88 L342.43,287.58 L342.68,287.29 L342.92,287 L343.16,286.72 L343.4,286.45 L343.65,286.18 L343.89,285.93 L344.13,285.68 L344.38,285.44 L344.62,285.19 L344.86,284.93 L345.1,284.68 L345.35,284.42 L345.59,284.16 L345.83,283.9 L346.08,283.63 L346.32,283.37 L346.56,283.11 L346.8,282.84 L347.05,282.58 L347.29,282.33 L347.53,282.07 L347.77,281.82 L348.02,281.57 L348.26,281.32 L348.5,281.08 L348.75,280.85 L348.99,280.62 L349.23,280.4 L349.47,280.19 L349.72,279.98 L349.96,279.79 L350.2,279.6 L350.44,279.42 L350.69,279.25 L350.93,279.1 L351.17,278.95 L351.42,278.82 L351.66,278.7 L351.9,278.59 L352.14,278.49 L352.39,278.4 L352.63,278.31 L352.87,278.22 L353.12,278.13 L353.36,278.04 L353.6,277.96 L353.84,277.88 L354.09,277.8 L354.33,277.73 L354.57,277.66 L354.81,277.6 L355.06,277.55 L355.3,277.5 L355.54,277.46 L355.79,277.43 L356.03,277.4 L356.27,277.39 L356.51,277.39 L356.76,277.4 L357,277.43 L357.24,277.48 L357.48,277.55 L357.73,277.63 L357.97,277.72 L358.21,277.83 L358.46,277.95 L358.7,278.08 L358.94,278.22 L359.18,278.37 L359.43,278.53 L359.67,278.7 L359.91,278.87 L360.15,279.04 L360.4,279.22 L360.64,279.41 L360.88,279.59 L361.13,279.78 L361.37,279.96 L361.61,280.15 L361.85,280.34 L362.1,280.56 L362.34,280.8 L362.58,281.05 L362.82,281.32 L363.07,281.6 L363.31,281.9 L363.55,282.21 L363.8,282.53 L364.04,282.86 L364.28,283.21 L364.52,283.56 L364.77,283.92 L365.01,284.28 L365.25,284.65 L365.5,285.03 L365.74,285.41 L365.98,285.79 L366.22,286.17 L366.47,286.56 L366.71,286.94 L366.95,287.32 L367.19,287.7 L367.44,288.07 L367.68,288.44 L367.92,288.8 L368.17,289.17 L368.41,289.54 L368.65,289.93 L368.89,290.33 L369.14,290.73 L369.38,291.14 L369.62,291.56 L369.86,291.99 L370.11,292.42 L370.35,292.85 L370.59,293.29 L370.84,293.73 L371.08,294.17 L371.32,294.61 L371.56,295.05 L371.81,295.49 L372.05,295.92 L372.29,296.35 L372.53,296.78 L372.78,297.2 L373.02,297.61 L373.26,298.02 L373.51,298.42 L373.75,298.81 L373.99,299.19 L374.23,299.55 L374.48,299.91 L374.72,300.25 L374.96,300.58 L375.21,300.89 L375.45,301.18 L375.69,301.46 L375.93,301.72 L376.18,301.98 L376.42,302.23 L376.66,302.48 L376.9,302.73 L377.15,302.97 L377.39,303.22 L377.63,303.45 L377.88,303.69 L378.12,303.92 L378.36,304.14 L378.6,304.36 L378.85,304.58 L379.09,304.8 L379.33,305 L379.57,305.21 L379.82,305.41 L380.06,305.61 L380.3,305.8 L380.55,305.98 L380.79,306.16 L381.03,306.34 L381.27,306.51 L381.52,306.67 L381.76,306.83 L382,306.99 L382.25,307.14 L382.49,307.28 L382.73,307.42 L382.97,307.55 L383.22,307.67 L383.46,307.79 L383.7,307.9 L383.94,308.01 L384.19,308.11 L384.43,308.22 L384.67,308.32 L384.92,308.43 L385.16,308.53 L385.4,308.64 L385.64,308.74 L385.89,308.84 L386.13,308.94 L386.37,309.04 L386.61,309.14 L386.86,309.23 L387.1,309.32 L387.34,309.41 L387.59,309.5 L387.83,309.58 L388.07,309.66 L388.31,309.74 L388.56,309.81 L388.8,309.88 L389.04,309.94 L389.28,310 L389.53,310.06 L389.77,310.11 L390.01,310.16 L390.26,310.2 L390.5,310.23 L390.74,310.26 L390.98,310.28 L391.23,310.3 L391.47,310.31 L391.71,310.31 L391.95,310.31 L392.2,310.31 L392.44,310.3 L392.68,310.3 L392.93,310.29 L393.17,310.28 L393.41,310.27 L393.65,310.26 L393.9,310.24 L394.14,310.23 L394.38,310.21 L394.63,310.19 L394.87,310.17 L395.11,310.15 L395.35,310.13 L395.6,310.1 L395.84,310.08 L396.08,310.05 L396.32,310.02 L396.57,310 L396.81,309.97 L397.05,309.93 L397.3,309.9 L397.54,309.87 L397.78,309.83 L398.02,309.8 L398.27,309.76 L398.51,309.72 L398.75,309.69 L398.99,309.65 L399.24,309.61 L399.48,309.56 L399.72,309.52 L399.97,309.47 L400.21,309.41 L400.45,309.34 L400.69,309.25 L400.94,309.15 L401.18,309.04 L401.42,308.92 L401.66,308.79 L401.91,308.65 L402.15,308.5 L402.39,308.34 L402.64,308.17 L402.88,307.99 L403.12,307.8 L403.36,307.6 L403.61,307.39 L403.85,307.18 L404.09,306.96 L404.34,306.73 L404.58,306.49 L404.82,306.25 L405.06,306 L405.31,305.75 L405.55,305.49 L405.79,305.22 L406.03,304.95 L406.28,304.68 L406.52,304.4 L406.76,304.12 L407.01,303.83 L407.25,303.54 L407.49,303.25 L407.73,302.95 L407.98,302.65 L408.22,302.35 L408.46,302.05 L408.7,301.75 L408.95,301.44 L409.19,301.14 L409.43,300.82 L409.68,300.48 L409.92,300.14 L410.16,299.79 L410.4,299.43 L410.65,299.05 L410.89,298.67 L411.13,298.27 L411.38,297.86 L411.62,297.45 L411.86,297.02 L412.1,296.58 L412.35,296.13 L412.59,295.66 L412.83,295.19 L413.07,294.71 L413.32,294.21 L413.56,293.71 L413.8,293.19 L414.05,292.66 L414.29,292.12 L414.53,291.57 L414.77,291.01 L415.02,290.44 L415.26,289.85 L415.5,289.26 L415.74,288.65 L415.99,288.03 L416.23,287.4 L416.47,286.76 L416.72,286.11 L416.96,285.45 L417.2,284.77 L417.44,284.09 L417.69,283.39 L417.93,282.68 L418.17,281.96 L418.41,281.23 L418.66,280.49 L418.9,279.74 L419.14,278.97 L419.39,278.2 L419.63,277.41 L419.87,276.61 L420.11,275.8 L420.36,274.97 L420.6,274.14 L420.84,273.24 L421.09,272.23 L421.33,271.11 L421.57,269.9 L421.81,268.61 L422.06,267.25 L422.3,265.82 L422.54,264.34 L422.78,262.82 L423.03,261.27 L423.27,259.69 L423.51,258.11 L423.76,256.52 L424,254.94 L424.24,253.38 L424.48,251.84 L424.73,250.35 L424.97,248.9 L425.21,247.52 L425.45,246.2 L425.7,244.96 L425.94,243.81 L426.18,242.76 L426.43,241.8 L426.67,240.83 L426.91,239.82 L427.15,238.81 L427.4,237.82 L427.64,236.87 L427.88,235.99 L428.12,235.19 L428.37,234.52 L428.61,233.98 L428.85,233.61 L429.1,233.42 L429.34,233.42 L429.58,233.54 L429.82,233.76 L430.07,234.07 L430.31,234.47 L430.55,234.95 L430.79,235.51 L431.04,236.12 L431.28,236.8 L431.52,237.52 L431.77,238.29 L432.01,239.1 L432.25,239.94 L432.49,240.79 L432.74,241.66 L432.98,242.54 L433.22,243.42 L433.47,244.3 L433.71,245.17 L433.95,246.15 L434.19,247.27 L434.44,248.49 L434.68,249.81 L434.92,251.21 L435.16,252.67 L435.41,254.18 L435.65,255.72 L435.89,257.28 L436.14,258.83 L436.38,260.37 L436.62,261.87 L436.86,263.32 L437.11,264.71 L437.35,266.02 L437.59,267.22 L437.83,268.32 L438.08,269.32 L438.32,270.31 L438.56,271.29 L438.81,272.25 L439.05,273.21 L439.29,274.15 L439.53,275.08 L439.78,275.99 L440.02,276.89 L440.26,277.77 L440.5,278.64 L440.75,279.49 L440.99,280.33 L441.23,281.14 L441.48,281.94 L441.72,282.72 L441.96,283.49 L442.2,284.23 L442.45,284.95 L442.69,285.66 L442.93,286.34 L443.18,287 L443.42,287.64 L443.66,288.25 L443.9,288.84 L444.15,289.41 L444.39,289.96 L444.63,290.48 L444.87,290.97 L445.12,291.44 L445.36,291.9 L445.6,292.35 L445.85,292.8 L446.09,293.25 L446.33,293.69 L446.57,294.12 L446.82,294.55 L447.06,294.98 L447.3,295.4 L447.54,295.82 L447.79,296.23 L448.03,296.64 L448.27,297.05 L448.52,297.45 L448.76,297.84 L449,298.23 L449.24,298.61 L449.49,298.99 L449.73,299.37 L449.97,299.74 L450.22,300.1 L450.46,300.46 L450.7,300.82 L450.94,301.17 L451.19,301.51 L451.43,301.85 L451.67,302.18 L451.91,302.51 L452.16,302.83 L452.4,303.15 L452.64,303.46 L452.89,303.77 L453.13,304.07 L453.37,304.37 L453.61,304.66 L453.86,304.94 L454.1,305.22 L454.34,305.5 L454.58,305.76 L454.83,306.03 L455.07,306.28 L455.31,306.53 L455.56,306.78 L455.8,307.02 L456.04,307.25 L456.28,307.48 L456.53,307.7 L456.77,307.91 L457.01,308.12 L457.25,308.33 L457.5,308.52 L457.74,308.71 L457.98,308.9 L458.23,309.08 L458.47,309.25 L458.71,309.42 L458.95,309.57 L459.2,309.73 L459.44,309.87 L459.68,310.01 L459.92,310.15 L460.17,310.28 L460.41,310.4 L460.65,310.53 L460.9,310.65 L461.14,310.77 L461.38,310.89 L461.62,311.01 L461.87,311.13 L462.11,311.25 L462.35,311.36 L462.6,311.48 L462.84,311.59 L463.08,311.71 L463.32,311.82 L463.57,311.93 L463.81,312.04 L464.05,312.15 L464.29,312.26 L464.54,312.36 L464.78,312.47 L465.02,312.57 L465.27,312.68 L465.51,312.78 L465.75,312.88 L465.99,312.98 L466.24,313.08 L466.48,313.18 L466.72,313.28 L466.96,313.37 L467.21,313.47 L467.45,313.56 L467.69,313.65 L467.94,313.75 L468.18,313.84 L468.42,313.93 L468.66,314.02 L468.91,314.1 L469.15,314.19 L469.39,314.28 L469.63,314.36 L469.88,314.44 L470.12,314.53 L470.36,314.61 L470.61,314.69 L470.85,314.77 L471.09,314.85 L471.33,314.93 L471.58,315 L471.82,315.08 L472.06,315.15 L472.31,315.23 L472.55,315.3 L472.79,315.37 L473.03,315.44 L473.28,315.51 L473.52,315.58 L473.76,315.65 L474,315.71 L474.25,315.78 L474.49,315.84 L474.73,315.91 L474.98,315.97 L475.22,316.03 L475.46,316.1 L475.7,316.16 L475.95,316.21 L476.19,316.27 L476.43,316.33 L476.67,316.39 L476.92,316.44 L477.16,316.5 L477.4,316.55 L477.65,316.6 L477.89,316.65 L478.13,316.71 L478.37,316.76 L478.62,316.8 L478.86,316.85 L479.1,316.9 L479.35,316.95 L479.59,316.99 L479.83,317.04 L480.07,317.08 L480.32,317.12 L480.56,317.16 L480.8,317.21 L481.04,317.25 L481.29,317.28 L481.53,317.32 L481.77,317.36 L482.02,317.4 L482.26,317.43 L482.5,317.47 L482.74,317.5 L482.99,317.54 L483.23,317.57 L483.47,317.6 L483.71,317.63 L483.96,317.66 L484.2,317.69 L484.44,317.72 L484.69,317.74 L484.93,317.77 L485.17,317.8 L485.41,317.83 L485.66,317.86 L485.9,317.89 L486.14,317.91 L486.38,317.94 L486.63,317.97 L486.87,318 L487.11,318.02 L487.36,318.05 L487.6,318.08 L487.84,318.1 L488.08,318.13 L488.33,318.16 L488.57,318.18 L488.81,318.21 L489.06,318.24 L489.3,318.26 L489.54,318.29 L489.78,318.31 L490.03,318.34 L490.27,318.36 L490.51,318.39 L490.75,318.41 L491,318.44 L491.24,318.46 L491.48,318.49 L491.73,318.51 L491.97,318.53 L492.21,318.56 L492.45,318.58 L492.7,318.6 L492.94,318.63 L493.18,318.65 L493.42,318.67 L493.67,318.69 L493.91,318.72 L494.15,318.74 L494.4,318.76 L494.64,318.78 L494.88,318.8 L495.12,318.82 L495.37,318.84 L495.61,318.86 L495.85,318.88 L496.09,318.9 L496.34,318.92 L496.58,318.94 L496.82,318.96 L497.07,318.98 L497.31,319 L497.55,319.01 L497.79,319.03 L498.04,319.05 L498.28,319.07 L498.52,319.08 L498.76,319.1 L499.01,319.12 L499.25,319.13 L499.49,319.15 L499.74,319.16 L499.98,319.18 L500.22,319.19 L500.46,319.2 L500.71,319.22 L500.95,319.23 L501.19,319.24 L501.44,319.26 L501.68,319.27 L501.92,319.28 L502.16,319.29 L502.41,319.3 L502.65,319.31 L502.89,319.32 L503.13,319.33 L503.38,319.34 L503.62,319.35 L503.86,319.36 L504.11,319.37 L504.35,319.38 L504.59,319.38 L504.83,319.39 L505.08,319.4 L505.32,319.4 L505.56,319.41 L505.8,319.42 L506.05,319.42 L506.29,319.42 L506.53,319.43 L506.78,319.43 L507.02,319.44 L507.26,319.44 L507.5,319.44 L507.75,319.44 L507.99,319.44 L508.23,319.44 L508.48,319.44" fill="none" stroke="#52c3ef" stroke-width="1.5" stroke-linejoin="round" /><line x1="460" y1="100.6" x2="517.1" y2="41.2" stroke="#5cc8f1" stroke-width="1.3" stroke-dasharray="3,1.5"/><line x1="465.4" y1="106.6" x2="517.7" y2="191.8" stroke="#111" stroke-width="1.3" stroke-dasharray="2.6,1.5"/><defs>
<linearGradient id="bg" x1="0" y1="0" x2="0" y2="1">
 <stop offset="0" stop-color="#05042a"/>
 <stop offset="0.25" stop-color="#161640"/>
 <stop offset="0.5" stop-color="#26274f"/>
 <stop offset="0.75" stop-color="#3b3c60"/>
 <stop offset="1" stop-color="#565870"/>
</linearGradient>
<filter id="b07" x="-50%" y="-50%" width="200%" height="200%"><feGaussianBlur stdDeviation="0.7"/></filter>
<filter id="b1" x="-50%" y="-50%" width="200%" height="200%"><feGaussianBlur stdDeviation="1.1"/></filter>
<filter id="b2" x="-50%" y="-50%" width="200%" height="200%"><feGaussianBlur stdDeviation="2"/></filter>
<filter id="b3" x="-50%" y="-50%" width="200%" height="200%"><feGaussianBlur stdDeviation="3"/></filter>
<filter id="b4" x="-50%" y="-50%" width="200%" height="200%"><feGaussianBlur stdDeviation="4"/></filter>
<filter id="b5" x="-50%" y="-50%" width="200%" height="200%"><feGaussianBlur stdDeviation="5"/></filter>
<linearGradient id="rodE" gradientUnits="userSpaceOnUse" x1="550" y1="55" x2="572" y2="63">
 <stop offset="0" stop-color="#f8be42"/>
 <stop offset="0.55" stop-color="#f4b232"/>
 <stop offset="0.85" stop-color="#e7a02a"/>
 <stop offset="1" stop-color="#b57a1e"/>
</linearGradient>
<linearGradient id="rodF" gradientUnits="userSpaceOnUse" x1="549" y1="222" x2="573" y2="230">
 <stop offset="0" stop-color="#f8be42"/>
 <stop offset="0.55" stop-color="#f2b032"/>
 <stop offset="0.85" stop-color="#e29a28"/>
 <stop offset="1" stop-color="#b0761e"/>
</linearGradient>
<linearGradient id="rodBotE" gradientUnits="userSpaceOnUse" x1="0" y1="66" x2="0" y2="78">
 <stop offset="0" stop-color="#9a6414" stop-opacity="0"/>
 <stop offset="1" stop-color="#9a6414" stop-opacity="0.55"/>
</linearGradient>
<linearGradient id="rodBotF" gradientUnits="userSpaceOnUse" x1="0" y1="232" x2="0" y2="247.5">
 <stop offset="0" stop-color="#8a5812" stop-opacity="0"/>
 <stop offset="1" stop-color="#8a5812" stop-opacity="0.65"/>
</linearGradient>
<radialGradient id="hl" cx="0.5" cy="0.5" r="0.5">
 <stop offset="0" stop-color="#ffe47a" stop-opacity="0.95"/>
 <stop offset="1" stop-color="#ffe47a" stop-opacity="0"/>
</radialGradient>
<radialGradient id="sph" cx="0.5" cy="0.45" r="0.58" fx="0.47" fy="0.24">
 <stop offset="0" stop-color="#ffdc68"/>
 <stop offset="0.2" stop-color="#fac040"/>
 <stop offset="0.5" stop-color="#f3ad31"/>
 <stop offset="0.78" stop-color="#dc9628"/>
 <stop offset="1" stop-color="#84581a"/>
</radialGradient>
<linearGradient id="sphShade" x1="0" y1="0" x2="0" y2="1">
 <stop offset="0.45" stop-color="#7a4e10" stop-opacity="0"/>
 <stop offset="0.85" stop-color="#6a4410" stop-opacity="0.35"/>
 <stop offset="1" stop-color="#5a3a0c" stop-opacity="0.65"/>
</linearGradient>
<linearGradient id="bodyE" x1="0" y1="0" x2="1" y2="0">
 <stop offset="0" stop-color="#4c3612"/>
 <stop offset="0.12" stop-color="#6c4e1c"/>
 <stop offset="0.4" stop-color="#846024"/>
 <stop offset="0.75" stop-color="#785820"/>
 <stop offset="1" stop-color="#4c3612"/>
</linearGradient>
<linearGradient id="bodyF" x1="0" y1="0" x2="1" y2="0">
 <stop offset="0" stop-color="#7e5a1c"/>
 <stop offset="0.15" stop-color="#b07e2a"/>
 <stop offset="0.45" stop-color="#c5902f"/>
 <stop offset="0.8" stop-color="#b07e28"/>
 <stop offset="1" stop-color="#765218"/>
</linearGradient>
<radialGradient id="cap" cx="0.55" cy="0.45" r="0.6" fx="0.6" fy="0.25">
 <stop offset="0" stop-color="#ffd660"/>
 <stop offset="0.3" stop-color="#f7b83c"/>
 <stop offset="0.75" stop-color="#e8a02c"/>
 <stop offset="1" stop-color="#b98224"/>
</radialGradient>
<radialGradient id="capE2" gradientUnits="userSpaceOnUse" cx="653" cy="47" r="17" fx="655" fy="38.5">
 <stop offset="0" stop-color="#fdd060"/>
 <stop offset="0.35" stop-color="#f2b03a"/>
 <stop offset="0.8" stop-color="#dc9a30"/>
 <stop offset="1" stop-color="#b07c28"/>
</radialGradient>
<radialGradient id="capF2" gradientUnits="userSpaceOnUse" cx="653.6" cy="207" r="17" fx="656" fy="198.5">
 <stop offset="0" stop-color="#fdd060"/>
 <stop offset="0.35" stop-color="#f4b23a"/>
 <stop offset="0.8" stop-color="#e3a032"/>
 <stop offset="1" stop-color="#c08a2c"/>
</radialGradient>
<linearGradient id="hfade" x1="0" y1="0" x2="0" y2="1">
 <stop offset="0" stop-color="#fff" stop-opacity="0"/>
 <stop offset="1" stop-color="#fff" stop-opacity="1"/>
</linearGradient>
<mask id="fhalo" maskUnits="userSpaceOnUse" x="521" y="175" width="80" height="104"><rect x="521" y="201" width="80" height="12" fill="url(#hfade)"/><rect x="521" y="212.9" width="80" height="66" fill="#fff"/></mask>
<linearGradient id="capfade3" x1="0" y1="0" x2="0" y2="1">
 <stop offset="0" stop-color="#fff" stop-opacity="1"/>
 <stop offset="0.62" stop-color="#fff" stop-opacity="1"/>
 <stop offset="1" stop-color="#fff" stop-opacity="0"/>
</linearGradient>
<linearGradient id="capfade2" x1="0" y1="0" x2="0" y2="1">
 <stop offset="0" stop-color="#fff" stop-opacity="1"/>
 <stop offset="0.75" stop-color="#fff" stop-opacity="1"/>
 <stop offset="1" stop-color="#fff" stop-opacity="0"/>
</linearGradient>
<linearGradient id="capfade" x1="0" y1="0" x2="0" y2="1">
 <stop offset="0" stop-color="#fff" stop-opacity="1"/>
 <stop offset="0.5" stop-color="#fff" stop-opacity="1"/>
 <stop offset="1" stop-color="#fff" stop-opacity="0"/>
</linearGradient>
<mask id="capmaskE" maskUnits="userSpaceOnUse" x="630" y="25" width="45" height="60"><rect x="630" y="28" width="45" height="27" fill="url(#capfade3)"/></mask>
<mask id="capmaskF" maskUnits="userSpaceOnUse" x="630" y="185" width="45" height="70"><rect x="630" y="188" width="45" height="24" fill="url(#capfade3)"/></mask>
<linearGradient id="cbE" x1="0" y1="0" x2="1" y2="0">
 <stop offset="0" stop-color="#2c2a4c"/>
 <stop offset="0.2" stop-color="#2f2e53"/>
 <stop offset="0.38" stop-color="#236c7f"/>
 <stop offset="0.58" stop-color="#cfd4d4"/>
 <stop offset="0.68" stop-color="#ecc8c6"/>
 <stop offset="0.85" stop-color="#e19cb0"/>
 <stop offset="1" stop-color="#bf4a7f"/>
</linearGradient>
<linearGradient id="cbF" x1="0" y1="0" x2="1" y2="0">
 <stop offset="0" stop-color="#2c2a4c"/>
 <stop offset="0.45" stop-color="#2f2e53"/>
 <stop offset="0.58" stop-color="#26707f"/>
 <stop offset="0.72" stop-color="#d0d6d6"/>
 <stop offset="0.82" stop-color="#ecc4c6"/>
 <stop offset="0.92" stop-color="#e29ab0"/>
 <stop offset="1" stop-color="#bf4a7f"/>
</linearGradient>
<clipPath id="clipE"><rect x="521" y="16.1" width="159.2" height="102.6"/></clipPath>
<clipPath id="clipF"><rect x="521.3" y="175.4" width="159.7" height="103.5"/></clipPath>
</defs>
<rect x="517.1" y="11.9" width="167.1" height="111.3" fill="#4ac1ee"/>
<rect x="519.8" y="14.6" width="161.7" height="105.8" fill="#fff"/>
<g clip-path="url(#clipE)">
<rect x="521" y="16.1" width="159.2" height="102.6" fill="url(#bg)"/>
<g filter="url(#b5)" fill="#238c9b" opacity="0.82">
<path d="M563.9,42.2 C568.2,42.3 572.6,44.4 572.9,48.6 C573.1,52.5 570.2,61.5 567.6,67.8 C565.4,72 561,76.3 554.6,76.5 C548.5,76.7 544,73.8 544,69.5 C544,65.5 548.4,56.4 553,47.6 C555,43.9 559.4,42.1 563.9,42.2 Z" transform="translate(557.0,64.5) scale(1.7) translate(-558.5,-60)"/>
<ellipse cx="603" cy="86" rx="32" ry="9"/>
<ellipse cx="652" cy="82" rx="27" ry="10"/>
<ellipse cx="580" cy="76" rx="10" ry="12"/>
<ellipse cx="628" cy="77" rx="12" ry="9"/>
</g>
<g filter="url(#b2)" fill="#f1e8ec" opacity="0.92">
<path d="M563.9,42.2 C568.2,42.3 572.6,44.4 572.9,48.6 C573.1,52.5 570.2,61.5 567.6,67.8 C565.4,72 561,76.3 554.6,76.5 C548.5,76.7 544,73.8 544,69.5 C544,65.5 548.4,56.4 553,47.6 C555,43.9 559.4,42.1 563.9,42.2 Z" transform="translate(557.5,63.0) scale(1.28) translate(-558.5,-60)"/>
<ellipse cx="578.5" cy="73" rx="8" ry="11"/>
<ellipse cx="601.6" cy="88" rx="19" ry="4.5"/>
<ellipse cx="630.5" cy="73" rx="8" ry="6.5"/>
<ellipse cx="652" cy="81.5" rx="15" ry="5"/>
</g>
<g filter="url(#b07)" fill="#e9b0c7" opacity="0.9">
<path d="M563.9,42.2 C568.2,42.3 572.6,44.4 572.9,48.6 C573.1,52.5 570.2,61.5 567.6,67.8 C565.4,72 561,76.3 554.6,76.5 C548.5,76.7 544,73.8 544,69.5 C544,65.5 548.4,56.4 553,47.6 C555,43.9 559.4,42.1 563.9,42.2 Z" transform="translate(558.5,60.6) scale(1.14) translate(-558.5,-60)"/>
<ellipse cx="577.5" cy="68" rx="3" ry="5"/>
<ellipse cx="630.5" cy="68" rx="8" ry="8"/>
<ellipse cx="652.5" cy="78" rx="13" ry="2.5"/>
<ellipse cx="601.6" cy="78" rx="24" ry="9"/>
</g>
<g filter="url(#b1)" fill="#fbfbfb" opacity="0.95">
<circle cx="630.5" cy="74" r="2.2"/>
<ellipse cx="577" cy="78" rx="3" ry="3.5"/>
</g>
<path d="M563.9,42.2 C568.2,42.3 572.6,44.4 572.9,48.6 C573.1,52.5 570.2,61.5 567.6,67.8 C565.4,72 561,76.3 554.6,76.5 C548.5,76.7 544,73.8 544,69.5 C544,65.5 548.4,56.4 553,47.6 C555,43.9 559.4,42.1 563.9,42.2 Z" fill="url(#rodE)"/>
<path d="M563.9,42.2 C568.2,42.3 572.6,44.4 572.9,48.6 C573.1,52.5 570.2,61.5 567.6,67.8 C565.4,72 561,76.3 554.6,76.5 C548.5,76.7 544,73.8 544,69.5 C544,65.5 548.4,56.4 553,47.6 C555,43.9 559.4,42.1 563.9,42.2 Z" fill="url(#rodBotE)"/>
<ellipse cx="552.5" cy="69" rx="4" ry="3.5" fill="url(#hl)"/>
<circle cx="601.6" cy="75.3" r="22.4" fill="url(#sph)"/>
<circle cx="601.6" cy="75.3" r="22.4" fill="url(#sphShade)"/>
<path d="M638.1,47.6 C638.1,39.5 644.8,32.6 653,32.6 C661.3,32.6 668,39.5 668,47.6 L663.8,72 C663,77.3 658.2,80.3 651.8,80.3 C645.2,80.3 640.8,77.3 640.1,72 Z" fill="url(#bodyE)"/>
<g mask="url(#capmaskE)"><path d="M638.1,47.6 C638.1,39.5 644.8,32.6 653,32.6 C661.3,32.6 668,39.5 668,47.6 L663.8,72 C663,77.3 658.2,80.3 651.8,80.3 C645.2,80.3 640.8,77.3 640.1,72 Z" fill="url(#capE2)"/></g>
</g>
<text x="525.3" y="31.1" font-size="14" font-weight="bold" fill="#fff">e</text>
<rect x="533.1" y="126.3" width="135.2" height="9.4" fill="url(#cbE)"/>
<rect x="531.3" y="126.3" width="1.9" height="14.7" fill="#000"/>
<rect x="668.3" y="126.3" width="1.9" height="14.7" fill="#000"/>
<text x="533" y="151.5" font-size="9.8" text-anchor="middle" fill="#111">0</text>
<text x="669.4" y="151.5" font-size="9.8" text-anchor="middle" fill="#111">3</text>
<text x="591.5" y="152.8" font-size="10.8" fill="#111">E/E</text>
<text x="608.7" y="155.5" font-size="8.2" fill="#111">0</text>
<rect x="517.6" y="171.3" width="170" height="111.4" fill="#000"/>
<rect x="520" y="173.9" width="162.3" height="106.7" fill="#fff"/>
<g clip-path="url(#clipF)">
<rect x="521.3" y="175.4" width="159.7" height="103.5" fill="url(#bg)"/>
<g mask="url(#fhalo)">
<g filter="url(#b3)" fill="#238c9b" opacity="0.95">
<path d="M562.6,201.8 C566.5,201.9 573.4,204 573.4,209.5 C573.4,214 572,221 570.1,226.6 C568.5,231.5 566.5,235.5 565.6,237.1 C563.5,242 560.5,246.9 555.5,247 C549.5,247.1 543.8,242.5 543.8,236 C543.8,232 545,228 546,225.1 C548,219 549.5,215 551.3,211.5 C553.5,206 557,201.7 562.6,201.8 Z" transform="translate(558.5,231) scale(1.55,1.15) translate(-558.5,-225)"/>
</g>
<g filter="url(#b2)" fill="#f2f0f0">
<path d="M562.6,201.8 C566.5,201.9 573.4,204 573.4,209.5 C573.4,214 572,221 570.1,226.6 C568.5,231.5 566.5,235.5 565.6,237.1 C563.5,242 560.5,246.9 555.5,247 C549.5,247.1 543.8,242.5 543.8,236 C543.8,232 545,228 546,225.1 C548,219 549.5,215 551.3,211.5 C553.5,206 557,201.7 562.6,201.8 Z" transform="translate(557.5,230) scale(1.2,1.05) translate(-558.5,-225)"/>
</g>
<g filter="url(#b1)" fill="#e9b0c7" opacity="0.85">
<path d="M562.6,201.8 C566.5,201.9 573.4,204 573.4,209.5 C573.4,214 572,221 570.1,226.6 C568.5,231.5 566.5,235.5 565.6,237.1 C563.5,242 560.5,246.9 555.5,247 C549.5,247.1 543.8,242.5 543.8,236 C543.8,232 545,228 546,225.1 C548,219 549.5,215 551.3,211.5 C553.5,206 557,201.7 562.6,201.8 Z" transform="translate(559.3,227) scale(1.07) translate(-558.5,-225)"/>
</g>
</g>
<g filter="url(#b3)" fill="#238c9b" opacity="0.95">
<ellipse cx="650" cy="237.5" rx="23.5" ry="9"/>
</g>
<g filter="url(#b2)" fill="#f2f0f0">
<ellipse cx="651" cy="239" rx="15.5" ry="5"/>
</g>
<g filter="url(#b1)" fill="#e9b0c7" opacity="0.85">
<ellipse cx="652.5" cy="239.5" rx="13.5" ry="4.5"/>
</g>
<path d="M562.6,201.8 C566.5,201.9 573.4,204 573.4,209.5 C573.4,214 572,221 570.1,226.6 C568.5,231.5 566.5,235.5 565.6,237.1 C563.5,242 560.5,246.9 555.5,247 C549.5,247.1 543.8,242.5 543.8,236 C543.8,232 545,228 546,225.1 C548,219 549.5,215 551.3,211.5 C553.5,206 557,201.7 562.6,201.8 Z" fill="url(#rodF)"/>
<path d="M562.6,201.8 C566.5,201.9 573.4,204 573.4,209.5 C573.4,214 572,221 570.1,226.6 C568.5,231.5 566.5,235.5 565.6,237.1 C563.5,242 560.5,246.9 555.5,247 C549.5,247.1 543.8,242.5 543.8,236 C543.8,232 545,228 546,225.1 C548,219 549.5,215 551.3,211.5 C553.5,206 557,201.7 562.6,201.8 Z" fill="url(#rodBotF)"/>
<ellipse cx="553.2" cy="229.7" rx="4" ry="3.5" fill="url(#hl)"/>
<path d="M639.2,207.5 C639.2,199.2 645.6,192.7 653.6,192.7 C661.7,192.7 668.1,199.2 668.1,207.5 L663.8,237.5 C663,243.3 658.6,247 652.1,247 C645.6,247 641.2,243.3 640.3,237.5 Z" fill="url(#bodyF)"/>
<g mask="url(#capmaskF)"><path d="M639.2,207.5 C639.2,199.2 645.6,192.7 653.6,192.7 C661.7,192.7 668.1,199.2 668.1,207.5 L663.8,237.5 C663,243.3 658.6,247 652.1,247 C645.6,247 641.2,243.3 640.3,237.5 Z" fill="url(#capF2)"/></g>
</g>
<text x="525.6" y="190.7" font-size="14" font-weight="bold" fill="#fff">f</text>
<rect x="533.1" y="286.7" width="135" height="9.7" fill="url(#cbF)"/>
<rect x="531.3" y="286.7" width="1.9" height="14.4" fill="#000"/>
<rect x="668.1" y="286.7" width="1.9" height="14.4" fill="#000"/>
<text x="533" y="311.8" font-size="9.8" text-anchor="middle" fill="#111">0</text>
<text x="668.6" y="311.8" font-size="9.8" text-anchor="middle" fill="#111">2</text>
<text x="591.5" y="313.1" font-size="10.8" fill="#111">E/E</text>
<text x="608.7" y="315.8" font-size="8.2" fill="#111">0</text></svg>
</body></html>
